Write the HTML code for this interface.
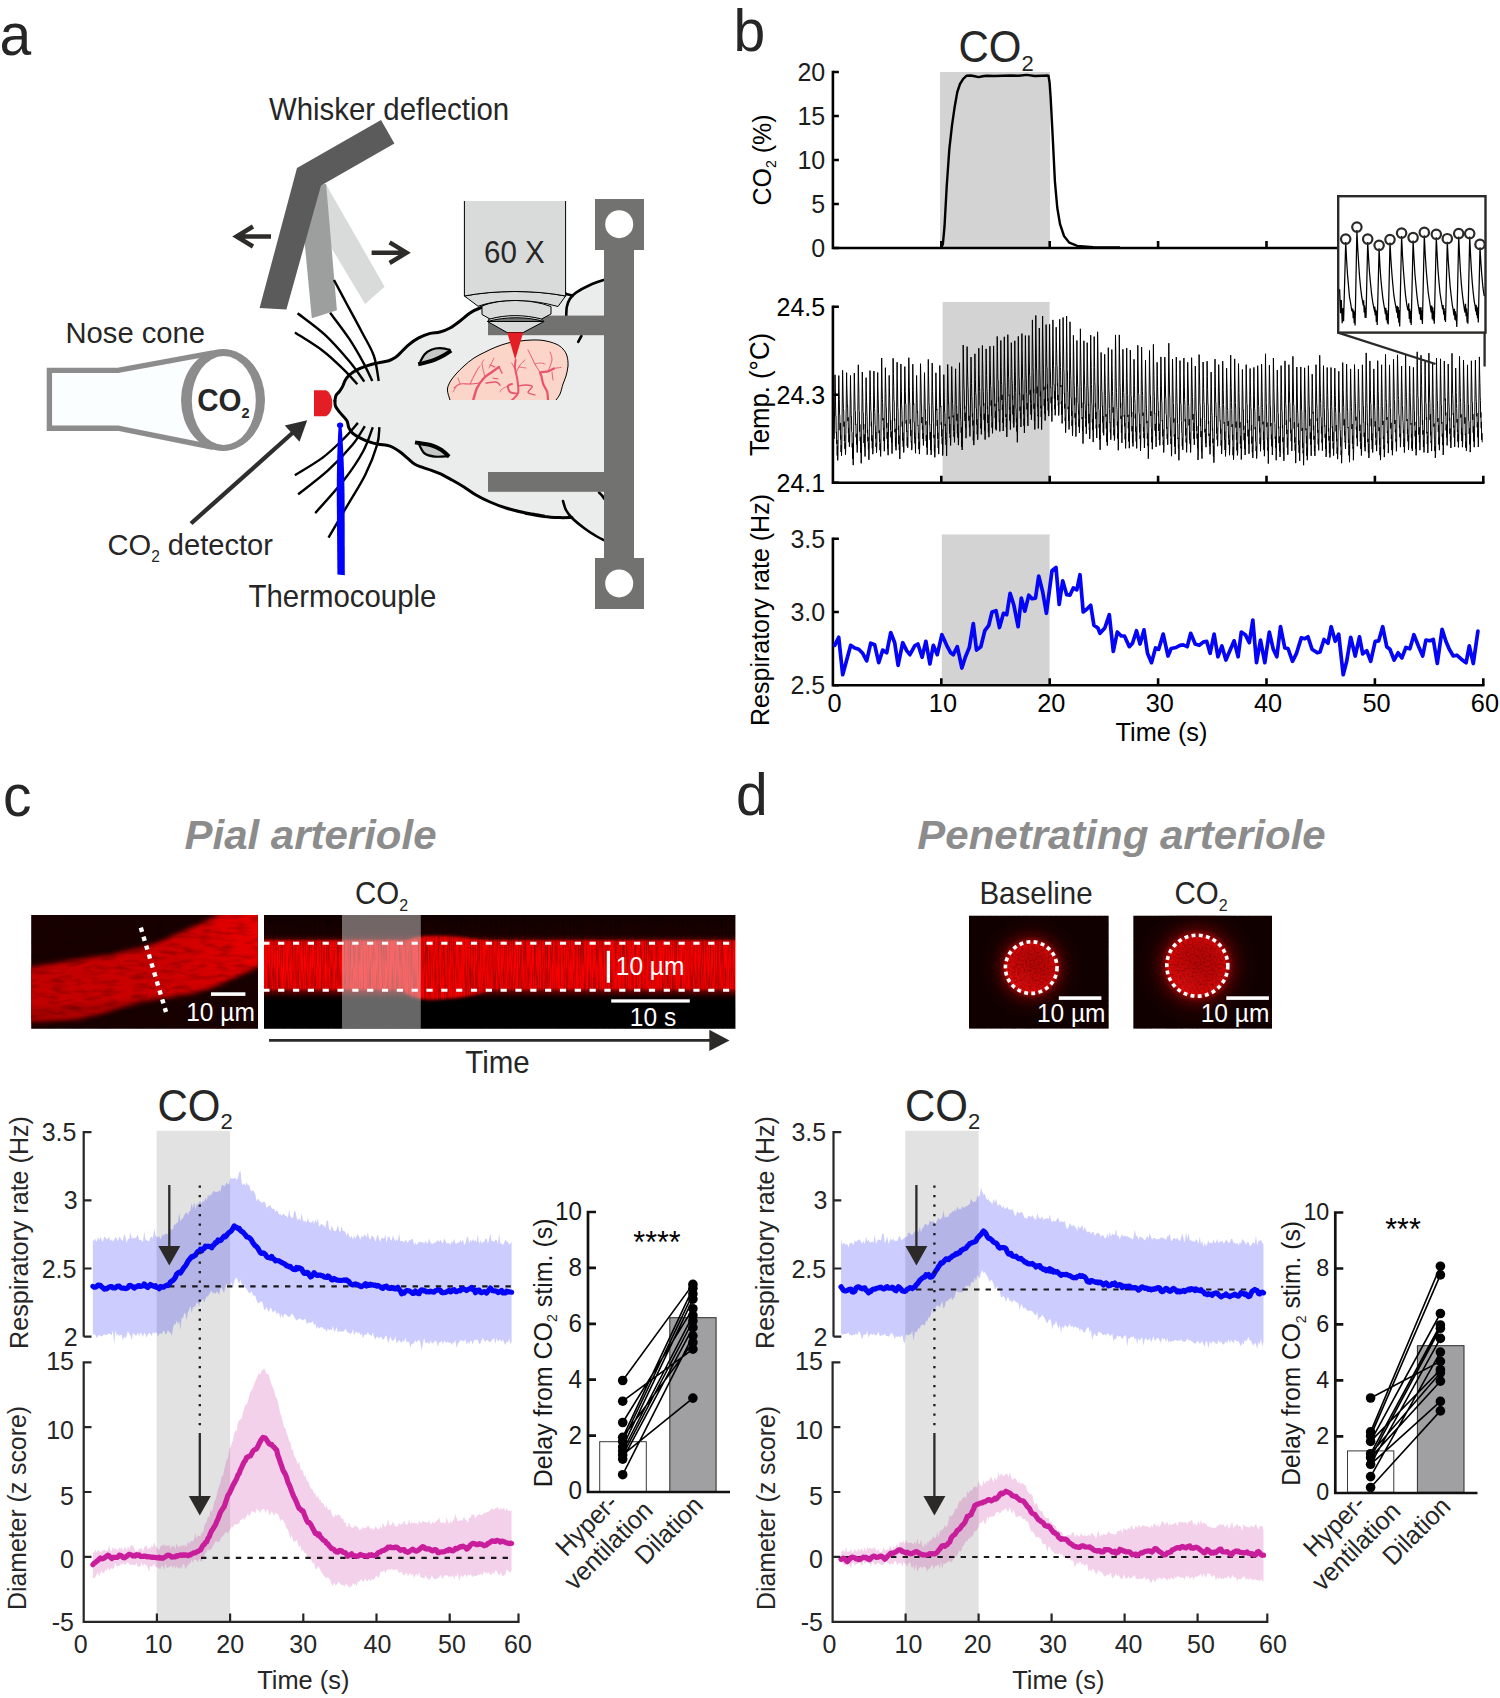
<!DOCTYPE html>
<html lang="en">
<head>
<meta charset="utf-8">
<title>CO2 stimulation: respiration and arteriole dilation</title>
<style>
html,body{margin:0;padding:0;background:#fff;}
body{width:1500px;height:1698px;overflow:hidden;}
svg{display:block;}
svg text{font-family:"Liberation Sans", "DejaVu Sans", sans-serif;fill:#262626;}
</style>
</head>
<body>
<svg width="1500" height="1698" viewBox="0 0 1500 1698">
<rect width="1500" height="1698" fill="#fff"/>
<g id="panel-a">
<text font-size="57" transform="translate(-0.5 55) scale(1 1.04)">a</text>
<path d="M334.9 400.8C335.1 399.9 335.3 397 336 395.5C336.7 394 338.1 393.1 339.2 391.7C340.3 390.3 341.4 388.8 342.4 386.9C343.4 385 344 382.4 345.1 380.5C346.2 378.6 347.4 377 349.3 375.2C351.2 373.4 353.8 371.5 356.8 369.9C359.8 368.3 363.9 366.8 367.5 365.6C371.1 364.4 374.6 363.7 378.1 362.9C381.7 362.1 386 361.7 388.8 360.8C391.6 359.9 393.2 358.9 395.2 357.6C397.1 356.3 398.4 354.9 400.5 352.8C402.6 350.8 405 347.8 408 345.3C411 342.8 415.1 339.8 418.7 337.9C422.2 335.9 425.8 334.6 429.3 333.6C432.9 332.6 436.6 332.9 440 332C443.4 331.1 446.7 329.8 450 328C453.3 326.2 456.7 323.5 460 321C463.3 318.5 466.7 315.2 470 313C473.3 310.8 475 309.8 480 308C485 306.2 485.7 304.3 500 302C514.3 299.7 555 295.3 566 294L569.8 299C570.8 297.9 572.6 294.9 576 292.6C579.4 290.3 585.2 287.2 590 285C594.8 282.8 602.5 280.5 605 279.6L606 540L604.4 540.4C603 539.7 599.4 538.1 596 536C592.6 533.9 588 531 584 528C580 525 574 519.7 572 518L572 517.4C570 517.4 564.7 517.8 560 517.6C555.3 517.4 550 517.2 544 516.4C538 515.6 524 513.1 524 513C524 512.9 543.7 516 544 516C544.3 516 532.3 514.3 526 513C519.7 511.7 512 509.8 506 508C500 506.2 495 504.2 490 502C485 499.8 480.3 497.5 476 495C471.7 492.5 468 489.5 464 487C460 484.5 456 482.2 452 480C448 477.8 443.4 475.2 440 473.6C436.6 472 434.5 471.5 431.5 470.4C428.5 469.3 424.8 468.3 421.9 467.2C419 466.1 416.7 465.4 414.4 464C412.1 462.6 410.3 460.6 408 458.7C405.7 456.8 403 454.2 400.5 452.3C398 450.4 395.4 448.7 393.1 447.5C390.8 446.3 389.2 445.8 386.7 445.3C384.2 444.8 381.1 444.9 378.1 444.3C375.1 443.7 371.5 442.7 368.5 441.6C365.5 440.5 362.7 439.3 360 437.9C357.3 436.5 354.4 434.8 352.5 433.1C350.6 431.4 349.7 429.7 348.8 427.7C347.9 425.7 348 423.1 347.2 421.3C346.4 419.5 345.3 418.7 344 417.1C342.7 415.5 340.6 413.5 339.2 411.7C337.8 409.9 336.2 407.9 335.5 406.1C334.8 404.3 335 401.7 334.9 400.8Z" fill="#ebecec"/>
<g fill="none" stroke="#000" stroke-width="3" stroke-linecap="round" stroke-linejoin="round">
<path d="M334.9 400.8C335.1 399.9 335.3 397 336 395.5C336.7 394 338.1 393.1 339.2 391.7C340.3 390.3 341.4 388.8 342.4 386.9C343.4 385 344 382.4 345.1 380.5C346.2 378.6 347.4 377 349.3 375.2C351.2 373.4 353.8 371.5 356.8 369.9C359.8 368.3 363.9 366.8 367.5 365.6C371.1 364.4 374.6 363.7 378.1 362.9C381.7 362.1 386 361.7 388.8 360.8C391.6 359.9 393.2 358.9 395.2 357.6C397.1 356.3 398.4 354.9 400.5 352.8C402.6 350.8 405 347.8 408 345.3C411 342.8 415.1 339.8 418.7 337.9C422.2 335.9 425.8 334.6 429.3 333.6C432.9 332.6 436.6 332.9 440 332C443.4 331.1 446.7 329.8 450 328C453.3 326.2 456.7 323.5 460 321C463.3 318.5 466.7 315.2 470 313C473.3 310.8 475 309.8 480 308C485 306.2 485.7 304.3 500 302C514.3 299.7 555 295.3 566 294"/>
<path d=""/>
<path d="M334.9 400.8C335 401.7 334.8 404.3 335.5 406.1C336.2 407.9 337.8 409.9 339.2 411.7C340.6 413.5 342.7 415.5 344 417.1C345.3 418.7 346.4 419.5 347.2 421.3C348 423.1 347.9 425.7 348.8 427.7C349.7 429.7 350.6 431.4 352.5 433.1C354.4 434.8 357.3 436.5 360 437.9C362.7 439.3 365.5 440.5 368.5 441.6C371.5 442.7 375.1 443.7 378.1 444.3C381.1 444.9 384.2 444.8 386.7 445.3C389.2 445.8 390.8 446.3 393.1 447.5C395.4 448.7 398 450.4 400.5 452.3C403 454.2 405.7 456.8 408 458.7C410.3 460.6 412.1 462.6 414.4 464C416.7 465.4 419 466.1 421.9 467.2C424.8 468.3 428.5 469.3 431.5 470.4C434.5 471.5 436.6 472 440 473.6C443.4 475.2 448 477.8 452 480C456 482.2 460 484.5 464 487C468 489.5 471.7 492.5 476 495C480.3 497.5 485 499.8 490 502C495 504.2 500 506.2 506 508C512 509.8 519.7 511.7 526 513C532.3 514.3 544.3 516 544 516C543.7 516 524 512.9 524 513C524 513.1 538 515.6 544 516.4C550 517.2 555.3 517.4 560 517.6C564.7 517.8 570 517.4 572 517.4"/>
</g>
<g fill="none" stroke="#000" stroke-width="2.6" stroke-linecap="round" stroke-linejoin="round">
<path d="M566 294L572.5 295.6"/>
<path d="M581.4 336L578.2 341.8"/>
<path d="M566.2 318C566.3 316.2 566.2 310.2 566.8 307C567.4 303.8 568.3 301.4 569.8 299C571.3 296.6 572.6 294.9 576 292.6C579.4 290.3 585.2 287.2 590 285C594.8 282.8 602.5 280.5 605 279.6"/>
<path d="M563 501C563.5 502.5 564.5 507.2 566 510C567.5 512.8 569 515 572 518C575 521 580 525 584 528C588 531 592.6 533.9 596 536C599.4 538.1 603 539.7 604.4 540.4"/>
<path d="M599 492.5C601.5 494.5 603 496.5 604.5 499"/>
</g>
<path d="M420.4 361.5C421.1 360.3 422.9 356.2 424.7 354.2C426.5 352.2 428.8 350.7 431.3 349.7C433.8 348.7 436.6 348.2 439.6 348.2C442.6 348.2 447.9 349.4 449.5 349.6L451.2 350.6C449.9 351.4 446.2 354.1 443.5 355.6C440.8 357.1 437.8 358.5 435 359.6C432.2 360.7 429.8 361.4 427 362.2C424.2 363 419.7 363.9 418.2 364.2Z" fill="#c5c7c7"/>
<path d="M420.4 361.5C421.1 360.3 422.9 356.2 424.7 354.2C426.5 352.2 428.8 350.7 431.3 349.7C433.8 348.7 436.6 348.2 439.6 348.2C442.6 348.2 447.9 349.4 449.5 349.6" fill="none" stroke="#000" stroke-width="2.2" stroke-linecap="round"/>
<path d="M418.2 364.2C419.7 363.9 424.2 363 427 362.2C429.8 361.4 432.2 360.7 435 359.6C437.8 358.5 440.8 357.1 443.5 355.6C446.2 354.1 449.9 351.4 451.2 350.6" stroke="#000" stroke-width="4" fill="none"/>
<path d="M419.4 445.2C420.3 446.6 422.2 451.6 424.7 453.5C427.2 455.4 430.9 456.1 434.6 456.6C438.3 457.1 444.9 456.4 447 456.3L449.2 456.6C447.9 455.5 444.2 451.6 441.2 449.7C438.2 447.8 435.7 446.4 431.3 445.2C426.9 444 417.7 442.9 415 442.4Z" fill="#c5c7c7"/>
<path d="M419.4 445.2C420.3 446.6 422.2 451.6 424.7 453.5C427.2 455.4 430.9 456.1 434.6 456.6C438.3 457.1 444.9 456.4 447 456.3" fill="none" stroke="#000" stroke-width="2.2" stroke-linecap="round"/>
<path d="M415 442.4C417.7 442.9 426.9 444 431.3 445.2C435.7 446.4 438.2 447.8 441.2 449.7C444.2 451.6 447.9 455.5 449.2 456.6" stroke="#000" stroke-width="4" fill="none"/>
<polygon points="293.3,184.5 326.1,184.5 384.6,286.7 365.1,303.9" fill="#d9dbdb"/>
<polygon points="299.3,186 326.1,184 336.9,310.3 311.8,318.2" fill="#9d9e9e"/>
<polygon points="297,168 381,120 394.4,143.6 321,185.5 286.4,309.6 259.6,308" fill="#5b5b5b"/>
<g fill="none" stroke="#000" stroke-width="2.4">
<path d="M294.9 332.5C299.5 335.5 314.5 344.5 322.7 350.7C330.9 356.9 338.2 364.3 344 369.9C349.8 375.5 355.1 381.9 357.3 384.3"/>
<path d="M297.6 313.3C302.1 316.9 316.2 326.7 324.8 334.7C333.4 342.7 342.7 353.5 349.3 361.3C355.9 369.1 361.8 378.2 364.3 381.6"/>
<path d="M330.1 312.8C333.3 317.1 343.8 330.6 349.3 338.9C354.8 347.2 359.4 355.4 363.2 362.4C367 369.4 370.8 378 372.3 381.1"/>
<path d="M334 280C336 283.8 341.4 293.9 346.1 302.7C350.8 311.4 357.5 323.6 362.1 332.5C366.7 341.4 371.1 347.9 373.9 356C376.7 364.1 377.9 376.8 378.7 381"/>
<path d="M357.9 422.9C355.6 425.5 349.9 432.6 344 438.4C338.1 444.2 330.9 451.5 322.7 457.6C314.5 463.7 299.5 472.3 294.9 475.2"/>
<path d="M364.8 426.1C362.8 429.2 358.6 437.4 352.5 444.8C346.4 452.2 337.1 462.1 328 470.4C318.9 478.7 303.1 490.4 298.1 494.4"/>
<path d="M372.8 427.2C371.2 431.2 368 442.4 363.2 451.2C358.4 460 352 469.7 344 480C336 490.3 320 507.6 315.2 513.1"/>
<path d="M379.4 427.2C379 430.1 379.5 436.9 377.1 444.8C374.8 452.7 370.5 464.2 365.3 474.7C360.1 485.2 352.2 497.2 346.1 507.7C340 518.2 331.4 532.6 328.5 537.6"/>
</g>
<g fill="none" stroke="#2d2c2b" stroke-width="4.4" stroke-linejoin="miter" stroke-miterlimit="10">
<path d="M271 236.5H238M253 226.5L236.5 236.5L253 246.5"/>
<path d="M371.6 252.7H405M389.6 242.4L406.6 252.7L389.6 263"/>
</g>
<text font-size="29.4" transform="translate(269 119.5) scale(1 1.04)">Whisker deflection</text>
<path d="M49.4 370.4H118L210 353.4V446.6L118 428.2H49.4Z" fill="#fbfefe" stroke="#8c8c8c" stroke-width="5.4" stroke-linejoin="miter"/>
<ellipse cx="223" cy="400" rx="42" ry="51" fill="#8c8c8c"/>
<ellipse cx="223.8" cy="400.5" rx="32" ry="44.5" fill="#fff"/>
<text font-size="29.5" transform="translate(197.3 411.3) scale(1 1.04)" font-weight="bold">CO<tspan font-size="14.5" dy="6">2</tspan></text>
<text font-size="29.2" transform="translate(65.5 343.3) scale(1 1.04)">Nose cone</text>
<path d="M314 390.2H326C330.5 392.5 332.3 398 332.3 403.2C332.3 408.5 330.5 414 326 416.3H314Z" fill="#e31e24"/>
<path d="M191 523.5L293 432.5" stroke="#2e2e2e" stroke-width="4.3" fill="none"/>
<path d="M307.2 420.3L284.8 425.4L299.5 441.8Z" fill="#2e2e2e"/>
<text font-size="29.1" transform="translate(107.5 555.3) scale(1 1.04)">CO<tspan font-size="15.5" dy="6.2">2</tspan><tspan dy="-6.2"> detector</tspan></text>
<path d="M338.6 426.5C337.6 440 336.6 470 336.8 500L337.4 574.5L344.8 575.2L344.6 500C344.4 470 342.8 440 341.6 426.5Z" fill="#0000ff"/>
<ellipse cx="340.1" cy="425.2" rx="3.1" ry="2.7" fill="#0000ff"/>
<text font-size="29.4" transform="translate(248.5 607) scale(1 1.04)">Thermocouple</text>
<path d="M450 400C449.6 398.3 447.4 393 447.4 390C447.4 387 448.6 384.7 450 382C451.4 379.3 453.7 376.7 456 374C458.3 371.3 461 368.7 464 366C467 363.3 470.3 360.4 474 358C477.7 355.6 482.3 353.4 486 351.6C489.7 349.8 492.3 348.4 496 347C499.7 345.6 504 344 508 343C512 342 516 341.5 520 341C524 340.5 528 340.1 532 340C536 339.9 540 339.9 544 340.6C548 341.3 552.8 342.6 556 344C559.2 345.4 561.2 347 563 349C564.8 351 566.2 353.2 567 356C567.8 358.8 568.2 362.7 568 366C567.8 369.3 566.8 373 566 376C565.2 379 564 381 563 384C562 387 561.2 391.3 560 394C558.8 396.7 556.7 399 556 400Z" fill="#fbd5c8"/>
<path d="M450 400C449.6 398.3 447.4 393 447.4 390C447.4 387 448.6 384.7 450 382C451.4 379.3 453.7 376.7 456 374C458.3 371.3 461 368.7 464 366C467 363.3 470.3 360.4 474 358C477.7 355.6 482.3 353.4 486 351.6C489.7 349.8 492.3 348.4 496 347C499.7 345.6 504 344 508 343C512 342 516 341.5 520 341C524 340.5 528 340.1 532 340C536 339.9 540 339.9 544 340.6C548 341.3 552.8 342.6 556 344C559.2 345.4 561.2 347 563 349C564.8 351 566.2 353.2 567 356C567.8 358.8 568.2 362.7 568 366C567.8 369.3 566.8 373 566 376C565.2 379 564 381 563 384C562 387 561.2 391.3 560 394C558.8 396.7 556.7 399 556 400" fill="none" stroke="#000" stroke-width="1"/>
<clipPath id="aBrain"><path d="M450 400C449.6 398.3 447.4 393 447.4 390C447.4 387 448.6 384.7 450 382C451.4 379.3 453.7 376.7 456 374C458.3 371.3 461 368.7 464 366C467 363.3 470.3 360.4 474 358C477.7 355.6 482.3 353.4 486 351.6C489.7 349.8 492.3 348.4 496 347C499.7 345.6 504 344 508 343C512 342 516 341.5 520 341C524 340.5 528 340.1 532 340C536 339.9 540 339.9 544 340.6C548 341.3 552.8 342.6 556 344C559.2 345.4 561.2 347 563 349C564.8 351 566.2 353.2 567 356C567.8 358.8 568.2 362.7 568 366C567.8 369.3 566.8 373 566 376C565.2 379 564 381 563 384C562 387 561.2 391.3 560 394C558.8 396.7 556.7 399 556 400Z"/></clipPath>
<g clip-path="url(#aBrain)">
<path d="M473 401C473.7 398.8 475.2 391.8 477 388C478.8 384.2 481.5 380.7 484 378C486.5 375.3 489.5 373.8 492 372C494.5 370.2 497.8 367.8 499 367" fill="none" stroke="#e9546b" stroke-width="2.4" stroke-linecap="round" stroke-linejoin="round"/>
<path d="M499 367C499.5 368 501.5 372 502 373" fill="none" stroke="#e9546b" stroke-width="1.4" stroke-linecap="round" stroke-linejoin="round"/>
<path d="M495 367C494.2 366.7 490.8 365.3 490 365" fill="none" stroke="#e9546b" stroke-width="1.2" stroke-linecap="round" stroke-linejoin="round"/>
<path d="M480 383C478.3 383.2 473.3 383.8 470 384C466.7 384.2 462.7 383.3 460 384C457.3 384.7 455 387.3 454 388" fill="none" stroke="#e9546b" stroke-width="1.1" stroke-linecap="round" stroke-linejoin="round"/>
<path d="M470 384C471 382 474.3 375 476 372C477.7 369 479.3 367 480 366" fill="none" stroke="#e9546b" stroke-width="1" stroke-linecap="round" stroke-linejoin="round"/>
<path d="M485 377C484.5 374.8 482.2 366.8 482 364C481.8 361.2 483.7 360.7 484 360" fill="none" stroke="#e9546b" stroke-width="0.9" stroke-linecap="round" stroke-linejoin="round"/>
<path d="M489 368C489.8 366.3 493.2 359.7 494 358" fill="none" stroke="#e9546b" stroke-width="0.8" stroke-linecap="round" stroke-linejoin="round"/>
<path d="M486 383C487.7 382.8 493.7 381.7 496 382C498.3 382.3 499.3 384.5 500 385" fill="none" stroke="#e9546b" stroke-width="1.5" stroke-linecap="round" stroke-linejoin="round"/>
<path d="M493 378C493.8 378.2 497.2 378.8 498 379" fill="none" stroke="#e9546b" stroke-width="1.2" stroke-linecap="round" stroke-linejoin="round"/>
<path d="M460 384C459.7 383 458.3 379 458 378" fill="none" stroke="#e9546b" stroke-width="0.8" stroke-linecap="round" stroke-linejoin="round"/>
<path d="M456 387C455.5 387.8 453.5 391.2 453 392" fill="none" stroke="#e9546b" stroke-width="0.8" stroke-linecap="round" stroke-linejoin="round"/>
<path d="M511 401C512.2 399.7 516.9 396.5 518 393C519.1 389.5 517.9 384.2 517.4 380C516.9 375.8 515.3 371.3 515 368C514.7 364.7 515.5 361.3 515.6 360" fill="none" stroke="#e9546b" stroke-width="2" stroke-linecap="round" stroke-linejoin="round"/>
<path d="M518 386C519.3 385.8 523.6 384.9 526 385C528.4 385.1 532.1 385.4 532.4 386.6C532.7 387.8 527.6 391 528 392.4C528.4 393.8 533.8 394.6 535 395" fill="none" stroke="#e9546b" stroke-width="1.3" stroke-linecap="round" stroke-linejoin="round"/>
<path d="M517.4 393.6C516.2 393.3 511.6 393.3 510 392C508.4 390.7 507.7 387.3 508 386C508.3 384.7 511.3 384.3 512 384" fill="none" stroke="#e9546b" stroke-width="2" stroke-linecap="round" stroke-linejoin="round"/>
<path d="M508 386C507 386.5 503.3 388 502 389C500.7 390 500.3 391.5 500 392" fill="none" stroke="#e9546b" stroke-width="0.8" stroke-linecap="round" stroke-linejoin="round"/>
<path d="M516.4 372C517 370.8 518.6 367 520 365C521.4 363 524.2 360.8 525 360" fill="none" stroke="#e9546b" stroke-width="0.9" stroke-linecap="round" stroke-linejoin="round"/>
<path d="M515 369C514.4 368 512.2 364 511.6 363" fill="none" stroke="#e9546b" stroke-width="0.9" stroke-linecap="round" stroke-linejoin="round"/>
<path d="M519 367C520.2 367.2 524.8 367.8 526 368" fill="none" stroke="#e9546b" stroke-width="0.8" stroke-linecap="round" stroke-linejoin="round"/>
<path d="M548 401C547.9 399.5 548 394.8 547.2 392C546.4 389.2 544.2 386.7 543.2 384C542.2 381.3 541.9 377.9 541.4 376C540.9 374.1 539.3 373.2 540.4 372.4C541.5 371.6 545.7 372.1 548 371.4C550.3 370.7 553 368.9 554 368.4" fill="none" stroke="#e9546b" stroke-width="2.2" stroke-linecap="round" stroke-linejoin="round"/>
<path d="M540.4 372.4C539.7 371.3 537.4 368.4 536 366C534.6 363.6 533.3 360.7 532 358C530.7 355.3 528.7 351.3 528 350" fill="none" stroke="#e9546b" stroke-width="1" stroke-linecap="round" stroke-linejoin="round"/>
<path d="M548 371.4C548.7 369.5 551.7 363.2 552 360C552.3 356.8 550.3 353.3 550 352" fill="none" stroke="#e9546b" stroke-width="0.9" stroke-linecap="round" stroke-linejoin="round"/>
<path d="M554 368.4C555.2 368.2 559.8 367.6 561 367.4" fill="none" stroke="#e9546b" stroke-width="0.9" stroke-linecap="round" stroke-linejoin="round"/>
<path d="M552 372C552.2 373.3 552.8 378.7 553 380" fill="none" stroke="#e9546b" stroke-width="0.9" stroke-linecap="round" stroke-linejoin="round"/>
<path d="M535 364C535.8 363.8 538.3 363 540 363C541.7 363 544.2 363.8 545 364" fill="none" stroke="#e9546b" stroke-width="0.8" stroke-linecap="round" stroke-linejoin="round"/>
</g>
<g fill="#727271">
<rect x="604" y="230" width="30" height="350"/>
<rect x="595" y="199" width="49" height="51"/>
<rect x="595" y="558" width="49" height="51"/>
<rect x="488" y="315.6" width="118" height="19.6"/>
<rect x="488" y="472" width="118" height="19.8"/>
</g>
<circle cx="619.2" cy="224.2" r="14" fill="#fff"/>
<circle cx="619.2" cy="583.4" r="14" fill="#fff"/>
<g fill="#d9dada" stroke="#000" stroke-width="1" stroke-linejoin="round">
<path d="M487.5 321.5L507 332.5H523.2L544 321.5Z"/>
<path d="M487.5 321.5C505 316.5 527 316.5 544 321.5L541 318.5C524 314 506 314 490 318.5Z"/>
<path d="M482 306C500 298.5 530 298.5 551 306.5V314L541.5 319C524 314.5 506 314.5 490 319L482 314.5Z"/>
<path d="M464.4 296C495 290 535 290 565.6 296L558 306.5C530 298.5 500 298.5 478 306.2Z"/>
</g>
<path d="M464.4 201V296C495 290 535 290 565.6 296V201Z" fill="#d9dada"/>
<path d="M464.4 201V296C495 290 535 290 565.6 296V201" fill="none" stroke="#000" stroke-width="1"/>
<path d="M507.2 332.5H523.2L515.2 359.5Z" fill="#e31e24"/>
<text font-size="29.5" transform="translate(484 263) scale(1 1.04)">60 X</text>
</g>
<g id="panel-b">
<text font-size="57" transform="translate(733.5 50.5) scale(1 1.04)">b</text>
<text font-size="42" transform="translate(958.5 62.2) scale(1 1.04)">CO<tspan font-size="22" dy="8">2</tspan></text>
<rect x="940" y="72" width="110" height="176" fill="#d3d3d3"/>
<rect x="942.6" y="302" width="107" height="181" fill="#d3d3d3"/>
<rect x="941.8" y="534.5" width="107.8" height="151" fill="#d3d3d3"/>
<g stroke="#000" stroke-width="2.6" fill="none">
<path d="M832.9 70.8 V248 H1340"/>
<path d="M832.9 72h6M832.9 116h6M832.9 160h6M832.9 204h6M832.9 248h6M941.3 248v-7M1049.7 248v-7M1158.1 248v-7M1266.5 248v-7"/>
</g>
<text font-size="25" text-anchor="end" transform="translate(825.2 80.9) scale(1 1.04)" style="fill:#1c1c1c">20</text>
<text font-size="25" text-anchor="end" transform="translate(825.2 124.9) scale(1 1.04)" style="fill:#1c1c1c">15</text>
<text font-size="25" text-anchor="end" transform="translate(825.2 168.9) scale(1 1.04)" style="fill:#1c1c1c">10</text>
<text font-size="25" text-anchor="end" transform="translate(825.2 212.9) scale(1 1.04)" style="fill:#1c1c1c">5</text>
<text font-size="25" text-anchor="end" transform="translate(825.2 256.9) scale(1 1.04)" style="fill:#1c1c1c">0</text>
<path d="M941.3 247.5 L942.9 244 L944.5 226.7 L946.7 186.7 L949.3 149.3 L952 125.3 L954.7 106.7 L957.3 92 L960 84 L963.2 78.9 L966.7 75.7 L970.7 75.5 L974.7 76.3 L978.7 77.1 L982.7 76.3 L986.7 75.7 L994.7 76 L1002.7 75.7 L1010.7 75.5 L1018.7 75.7 L1026.7 74.9 L1034.7 76 L1042.7 75.7 L1046.7 75.5 L1048.5 75.7 L1049.6 82.7 L1050.7 98.7 L1052.8 138.7 L1054.9 181.3 L1057.3 208 L1060 224 L1064 236 L1069.3 242.7 L1077.3 245.9 L1093.3 247.2 L1120 247.5" fill="none" stroke="#000" stroke-width="2.4" stroke-linejoin="round"/>
<text font-size="25" text-anchor="middle" transform="translate(770.5 160) rotate(-90) scale(1 1.04)" style="fill:#000">CO<tspan font-size="14" dy="5">2</tspan><tspan dy="-5"> (%)</tspan></text>
<g stroke="#000" stroke-width="2.6" fill="none">
<path d="M832.9 305.5 V482.7 H1484.5"/>
<path d="M832.9 306.7h6M832.9 394.7h6M832.9 482.7h6M941.3 482.7v-7M1049.7 482.7v-7M1158.1 482.7v-7M1266.5 482.7v-7M1374.9 482.7v-7M1483.3 482.7v-7"/>
</g>
<text font-size="25" text-anchor="end" transform="translate(825.2 315.6) scale(1 1.04)" style="fill:#000">24.5</text>
<text font-size="25" text-anchor="end" transform="translate(825.2 403.6) scale(1 1.04)" style="fill:#000">24.3</text>
<text font-size="25" text-anchor="end" transform="translate(825.2 491.6) scale(1 1.04)" style="fill:#000">24.1</text>
<text font-size="25.7" text-anchor="middle" transform="translate(769 394.5) rotate(-90) scale(1 1.04)" style="fill:#000">Temp. (°C)</text>
<path d="M834.2 438.9 L835 374.8 L835.3 388.8 L835.5 400.9 L835.8 416 L836 416 L836.2 432.9 L836.5 432.1 L836.7 443.9 L837 440.2 L837.2 455.5 L837.4 446.2 L837.7 460.4 L837.9 456.5 L838.8 375.6 L839 388.5 L839.3 399.7 L839.5 413.8 L839.8 415.8 L840 430.2 L840.3 423 L840.5 439.4 L840.8 435.3 L841 451.9 L841.3 445 L841.5 455.8 L841.8 446.7 L842.6 370.3 L842.9 384 L843.1 395.9 L843.4 408.6 L843.7 410.9 L843.9 426.5 L844.2 421.7 L844.4 441 L844.7 435.3 L844.9 448.7 L845.2 443.2 L845.5 454.6 L845.7 448.4 L846.6 372.7 L846.8 384.6 L847.1 395 L847.4 406.5 L847.6 405.6 L847.9 421.2 L848.1 417.3 L848.4 433.2 L848.6 428.3 L848.9 442.2 L849.2 434.4 L849.4 446.7 L849.7 442.5 L850.5 375.5 L850.7 389.7 L851 402 L851.2 417.1 L851.5 416.7 L851.7 431.7 L852 432.2 L852.2 447.4 L852.4 443.4 L852.7 458.9 L852.9 447.1 L853.2 465.1 L853.4 455.9 L854.3 373.1 L854.6 386 L854.8 397.1 L855.1 410.5 L855.4 410.9 L855.6 424.7 L855.9 423.9 L856.1 437.2 L856.4 433.9 L856.7 444.6 L856.9 440.5 L857.2 452.5 L857.5 443.7 L858.3 364.8 L858.6 380.6 L858.9 394.2 L859.1 410.3 L859.4 411.2 L859.6 431.5 L859.9 424.5 L860.2 440.9 L860.4 436.9 L860.7 452.6 L860.9 448.2 L861.2 463.3 L861.5 453.3 L862.3 372 L862.5 385.7 L862.8 397.5 L863 411.9 L863.3 412.8 L863.5 429.6 L863.8 424.2 L864 443 L864.2 434.4 L864.5 447.1 L864.7 444.1 L865 456.5 L865.2 452 L866.1 377.7 L866.3 390.6 L866.6 401.7 L866.9 412.9 L867.1 416.8 L867.4 432.6 L867.6 429.9 L867.9 441.3 L868.1 437.1 L868.4 449.4 L868.6 443.1 L868.9 459.8 L869.1 452.9 L870 370.6 L870.3 384.1 L870.5 395.7 L870.8 410.2 L871 411.8 L871.3 426.4 L871.5 421.8 L871.8 440.7 L872 435.4 L872.3 448.4 L872.5 439.1 L872.8 454.2 L873.1 448.6 L873.9 371 L874.1 384.4 L874.4 395.9 L874.6 408.3 L874.8 412.5 L875.1 424.6 L875.3 425.9 L875.6 438.7 L875.8 432 L876 446.8 L876.3 442.9 L876.5 452.7 L876.8 445.7 L877.7 372.5 L877.9 386.6 L878.2 398.7 L878.5 413.5 L878.7 413.6 L879 433.1 L879.3 430.4 L879.5 441.9 L879.8 439.5 L880 450.2 L880.3 443.6 L880.6 456.4 L880.8 450.9 L881.7 358 L881.9 372.7 L882.1 385.5 L882.4 399.5 L882.6 402.7 L882.9 420.4 L883.1 418 L883.4 430.1 L883.6 428 L883.8 440.9 L884.1 437.2 L884.3 451.2 L884.6 439.6 L885.4 367.7 L885.6 381.6 L885.9 393.7 L886.1 406.2 L886.4 408.9 L886.6 428.1 L886.9 422.9 L887.1 438.8 L887.3 432.2 L887.6 448.5 L887.8 443.3 L888.1 455.2 L888.3 443.7 L889.2 375.4 L889.4 387.7 L889.7 398.3 L890 411 L890.2 412.9 L890.5 429.8 L890.7 420.1 L891 437.3 L891.2 431.5 L891.5 443 L891.7 436 L892 453.6 L892.3 443.3 L893.1 358.3 L893.4 373.6 L893.7 386.7 L893.9 399.6 L894.2 401.9 L894.4 420.9 L894.7 418.7 L895 432.2 L895.2 428.8 L895.5 446.4 L895.7 437.7 L896 450.3 L896.3 443.1 L897.1 362.2 L897.3 378.3 L897.6 392 L897.8 407.4 L898.1 411.3 L898.3 430 L898.6 425.9 L898.8 444.3 L899 435.6 L899.3 450 L899.5 445.7 L899.8 459 L900 451.7 L900.9 364 L901.1 378.8 L901.4 391.5 L901.6 404.8 L901.9 410.1 L902.2 426.5 L902.4 421.6 L902.7 440.4 L902.9 432.6 L903.2 446.7 L903.4 438.6 L903.7 452.5 L903.9 450.3 L904.8 366.6 L905.1 380.1 L905.3 391.7 L905.6 404.1 L905.9 404.4 L906.1 423.5 L906.4 420.1 L906.6 431.9 L906.9 430.8 L907.2 446.1 L907.4 437.4 L907.7 447.8 L907.9 443.6 L908.8 357.7 L909.1 373.1 L909.3 386.4 L909.6 401 L909.9 405.9 L910.1 423.7 L910.4 419.3 L910.7 436.1 L910.9 430 L911.2 442.3 L911.5 441.1 L911.7 450.1 L912 447.2 L912.8 364.2 L913 378.3 L913.3 390.4 L913.5 404.8 L913.8 403.7 L914 422.4 L914.3 422.2 L914.5 437.9 L914.7 432.6 L915 443.4 L915.2 437.5 L915.5 453.2 L915.7 441.6 L916.6 375.5 L916.8 388 L917.1 398.8 L917.3 412.4 L917.6 411 L917.9 425.5 L918.1 425 L918.4 438.8 L918.6 433.3 L918.9 449.1 L919.1 441.9 L919.4 454.1 L919.7 446.3 L920.5 363.7 L920.8 377.4 L921.1 389.2 L921.3 404 L921.6 405.1 L921.8 423.1 L922.1 417.1 L922.4 430 L922.6 425.8 L922.9 439 L923.1 433.3 L923.4 445.4 L923.7 439.9 L924.5 372.7 L924.7 385.7 L925 396.9 L925.2 410.1 L925.5 409.7 L925.7 424.7 L926 421.2 L926.2 441 L926.4 435.1 L926.7 447.3 L926.9 441.7 L927.2 454.7 L927.4 448.6 L928.3 359.4 L928.5 375.3 L928.8 388.9 L929 402.7 L929.3 405.3 L929.6 424.4 L929.8 424 L930.1 439.8 L930.3 432.1 L930.6 449.9 L930.8 440 L931.1 454.9 L931.3 451 L932.2 363.1 L932.4 378.3 L932.6 391.4 L932.9 405.6 L933.1 409.5 L933.4 422.8 L933.6 423.1 L933.9 437.8 L934.1 434.8 L934.4 451.7 L934.6 445 L934.8 457.3 L935.1 448.5 L935.9 372.8 L936.2 385.8 L936.4 396.9 L936.7 410.2 L936.9 409.1 L937.2 426 L937.4 420 L937.7 438.9 L937.9 432.7 L938.2 447.9 L938.4 440.4 L938.7 454.1 L938.9 446.7 L939.8 365.5 L940.1 379.8 L940.3 392.1 L940.6 407.1 L940.9 406.3 L941.1 424.6 L941.4 422.3 L941.7 436.5 L941.9 429.4 L942.2 444.2 L942.4 437.9 L942.7 455.6 L943 447.9 L943.8 374.7 L944.1 387.4 L944.3 398.3 L944.6 412.5 L944.8 412.9 L945.1 425.9 L945.3 423.9 L945.6 439.3 L945.8 432.5 L946.1 444.9 L946.3 439.6 L946.6 455.9 L946.8 443.3 L947.7 364.5 L948 377.8 L948.2 389.1 L948.5 403.6 L948.7 402.9 L949 418.8 L949.3 416.7 L949.5 433.7 L949.8 424 L950.1 437.7 L950.3 434.9 L950.6 445.5 L950.8 440.5 L951.7 366.6 L952 379.2 L952.2 389.9 L952.5 403.4 L952.7 405.1 L953 417.3 L953.2 415.5 L953.5 430.9 L953.7 425.1 L954 436.7 L954.2 432.3 L954.5 442.4 L954.7 434.4 L955.6 368.8 L955.8 381.2 L956.1 391.9 L956.3 404.2 L956.6 405.7 L956.9 420.8 L957.1 413.9 L957.4 433.5 L957.6 424.2 L957.9 437.7 L958.1 433.1 L958.4 445.1 L958.6 440.8 L959.5 362.8 L959.7 377.2 L959.9 389.6 L960.2 401.8 L960.4 407.1 L960.7 419.6 L960.9 421.7 L961.2 432.7 L961.4 427.4 L961.7 446.9 L961.9 440 L962.2 450 L962.4 441.5 L963.2 345 L963.5 360 L963.7 373 L964 388 L964.2 389.7 L964.5 409 L964.7 406.5 L965 420.9 L965.2 412.7 L965.5 428 L965.7 424.1 L966 438.2 L966.2 431.3 L967.1 346.6 L967.3 361.3 L967.6 374.1 L967.9 386.3 L968.1 388.7 L968.4 405.3 L968.6 405.2 L968.9 420.5 L969.1 415.8 L969.4 427.4 L969.7 425.1 L969.9 436.4 L970.2 427.4 L971 357.1 L971.3 371.3 L971.5 383.5 L971.8 396.6 L972 400.9 L972.3 416.5 L972.6 413.6 L972.8 425.4 L973.1 420.4 L973.3 440.4 L973.6 431 L973.8 445.1 L974.1 436.1 L974.9 353.8 L975.2 367.6 L975.4 379.4 L975.7 392.7 L976 395.7 L976.2 408.2 L976.5 408.3 L976.7 424.6 L977 419.3 L977.2 434.3 L977.5 424.5 L977.7 439.7 L978 429.1 L978.8 348.2 L979 362.3 L979.2 374.5 L979.5 387.7 L979.7 391.7 L979.9 405.3 L980.2 406.3 L980.4 416.3 L980.6 414.4 L980.8 428.4 L981.1 423.4 L981.3 434.4 L981.5 430.2 L982.4 345.5 L982.6 360.7 L982.9 373.7 L983.1 386.9 L983.3 391.6 L983.6 405.7 L983.8 403.4 L984.1 419.9 L984.3 413.8 L984.6 430.5 L984.8 427.1 L985.1 439.6 L985.3 429.9 L986.1 348.9 L986.4 363.2 L986.6 375.6 L986.9 388.5 L987.1 391.6 L987.4 409 L987.6 406.5 L987.9 423.1 L988.1 414.7 L988.4 432.3 L988.6 424.2 L988.9 437.2 L989.1 431.7 L989.9 346.2 L990.2 360.6 L990.4 373 L990.6 385.6 L990.9 388.9 L991.1 405.7 L991.3 400.4 L991.6 416.2 L991.8 416.2 L992 427.6 L992.3 422.2 L992.5 433.3 L992.7 425.6 L993.6 345.9 L993.8 360 L994 372.2 L994.3 387.1 L994.5 390.1 L994.8 406.3 L995 403.8 L995.2 417.9 L995.5 411.2 L995.7 428.8 L996 418.9 L996.2 430.3 L996.5 424.6 L997.2 336.4 L997.5 351.7 L997.7 364.9 L997.9 379.9 L998.2 380.8 L998.4 401.6 L998.6 397.1 L998.9 410.6 L999.1 409.6 L999.3 422.1 L999.5 419.4 L999.8 431.4 L1000 425.7 L1000.8 340.5 L1001 354.9 L1001.2 367.4 L1001.4 381.5 L1001.7 384.4 L1001.9 399.9 L1002.1 394.8 L1002.3 409.8 L1002.6 404.9 L1002.8 422.6 L1003 417.9 L1003.2 431 L1003.5 424.5 L1004.3 336.8 L1004.5 352.8 L1004.7 366.6 L1005 382.2 L1005.2 386.3 L1005.4 400.4 L1005.7 402.7 L1005.9 417 L1006.1 414.1 L1006.3 427.3 L1006.6 419.3 L1006.8 437 L1007 430.1 L1007.8 334.7 L1008.1 349.8 L1008.3 362.8 L1008.5 376.8 L1008.7 378.3 L1009 395.6 L1009.2 394.8 L1009.4 409.4 L1009.7 407.4 L1009.9 420.6 L1010.1 414.3 L1010.4 429.6 L1010.6 418.1 L1011.3 342.7 L1011.6 356.7 L1011.8 368.7 L1012 380.3 L1012.3 383.4 L1012.5 400 L1012.7 395.6 L1012.9 414.4 L1013.2 405.3 L1013.4 423.3 L1013.6 413.2 L1013.8 427.5 L1014.1 422.5 L1014.8 340.8 L1015 357.4 L1015.3 371.7 L1015.5 386.6 L1015.7 392.3 L1015.9 408 L1016.1 409.2 L1016.4 422.1 L1016.6 418.3 L1016.8 431.4 L1017 425.4 L1017.3 442.3 L1017.5 436.5 L1018.3 336.4 L1018.5 351.1 L1018.8 363.7 L1019 376.6 L1019.2 378.8 L1019.5 394.4 L1019.7 393.7 L1020 410.8 L1020.2 406.7 L1020.4 418.4 L1020.7 412.9 L1020.9 427 L1021.1 421.4 L1021.9 333.6 L1022.1 349.5 L1022.4 363.2 L1022.6 378.1 L1022.8 380.7 L1023.1 400.3 L1023.3 394.7 L1023.5 414.2 L1023.7 406.7 L1024 425.7 L1024.2 418.5 L1024.4 433 L1024.6 424 L1025.4 335.6 L1025.6 350.3 L1025.8 362.8 L1026.1 375.1 L1026.3 378.6 L1026.5 393.3 L1026.7 393.6 L1027 409.3 L1027.2 403.1 L1027.4 416.3 L1027.6 414.9 L1027.9 425.9 L1028.1 416.3 L1028.9 335.5 L1029.1 349.2 L1029.3 360.9 L1029.6 375.4 L1029.8 375.9 L1030 394.6 L1030.3 389.9 L1030.5 402.7 L1030.7 400.4 L1031 414.6 L1031.2 404.5 L1031.4 419.7 L1031.7 411.3 L1032.4 319.9 L1032.6 337.6 L1032.9 352.8 L1033.1 367.7 L1033.3 372.5 L1033.5 392.8 L1033.7 389.3 L1033.9 408.7 L1034.2 403.7 L1034.4 420.8 L1034.6 412.9 L1034.8 429.5 L1035 421.2 L1035.8 315.5 L1036 334 L1036.3 349.9 L1036.5 368.1 L1036.7 370 L1037 393.4 L1037.2 386.6 L1037.4 406.4 L1037.6 404.8 L1037.9 416.1 L1038.1 414.9 L1038.3 428.4 L1038.6 418.7 L1039.3 328 L1039.5 344.3 L1039.7 358.3 L1039.9 372.1 L1040.1 379 L1040.3 396.2 L1040.6 391.6 L1040.8 408.3 L1041 405.7 L1041.2 416.9 L1041.4 411 L1041.6 429.6 L1041.8 417.9 L1042.6 316 L1042.8 333.6 L1043.1 348.8 L1043.3 364 L1043.5 369.7 L1043.8 390.1 L1044 386.7 L1044.2 405.8 L1044.4 399 L1044.7 413.7 L1044.9 411 L1045.1 420.5 L1045.4 416.4 L1046.1 324.6 L1046.4 339.8 L1046.6 352.9 L1046.8 366.7 L1047.1 367.7 L1047.3 389.1 L1047.5 384.4 L1047.7 401.3 L1048 398.4 L1048.2 410.5 L1048.4 402.8 L1048.7 416.1 L1048.9 413.3 L1049.6 324.4 L1049.8 340.1 L1050 353.7 L1050.2 368.2 L1050.4 371.2 L1050.7 387.9 L1050.9 387.6 L1051.1 403.1 L1051.3 396.9 L1051.5 411.1 L1051.7 407.5 L1051.9 421.5 L1052.1 410.9 L1052.9 319.9 L1053.1 335.7 L1053.3 349.3 L1053.5 365.7 L1053.7 368.1 L1053.9 384.6 L1054.1 384.4 L1054.4 398.7 L1054.6 391.3 L1054.8 409.1 L1055 404.7 L1055.2 415.3 L1055.4 408.7 L1056.2 327.2 L1056.4 341.4 L1056.7 353.6 L1056.9 365.7 L1057.1 367 L1057.4 385.7 L1057.6 383.6 L1057.8 400.1 L1058 394.8 L1058.3 405.5 L1058.5 402.7 L1058.7 415.5 L1059 409.6 L1059.7 319.3 L1059.9 336.1 L1060.1 350.6 L1060.4 367.5 L1060.6 370.6 L1060.8 387 L1061 385.2 L1061.2 404.1 L1061.5 401.2 L1061.7 414.6 L1061.9 406.1 L1062.1 423.4 L1062.3 415.3 L1063.1 317.5 L1063.3 336 L1063.6 352 L1063.8 368.9 L1064 372.1 L1064.3 394 L1064.5 393.2 L1064.7 408.4 L1064.9 403.9 L1065.2 420.9 L1065.4 417.6 L1065.6 432.7 L1065.9 423.9 L1066.6 316 L1066.8 335 L1067 351.4 L1067.2 369.5 L1067.5 374 L1067.7 391 L1067.9 392.1 L1068.1 409.1 L1068.3 406.7 L1068.6 420.5 L1068.8 415.4 L1069 429.4 L1069.2 427.7 L1070 321.8 L1070.2 340.6 L1070.4 356.7 L1070.7 375.1 L1070.9 379.7 L1071.1 398.1 L1071.3 398.1 L1071.6 415.8 L1071.8 411.1 L1072 425.8 L1072.2 420.4 L1072.5 435.8 L1072.7 431 L1073.4 335.3 L1073.7 351.6 L1073.9 365.7 L1074.1 382.2 L1074.3 385.7 L1074.5 405.1 L1074.8 397.8 L1075 417.7 L1075.2 413.1 L1075.4 424.8 L1075.7 422.7 L1075.9 436.6 L1076.1 428.7 L1076.9 340.5 L1077.1 355.8 L1077.3 368.9 L1077.6 384.1 L1077.8 387.4 L1078 401.8 L1078.2 403.3 L1078.5 414.2 L1078.7 410.8 L1078.9 426.8 L1079.2 419.2 L1079.4 432.9 L1079.6 428.1 L1080.4 328.8 L1080.6 347.6 L1080.9 363.8 L1081.1 380 L1081.3 386.5 L1081.6 408 L1081.8 402.6 L1082 419 L1082.3 417.2 L1082.5 431.1 L1082.7 426.5 L1083 443.6 L1083.2 435.9 L1083.9 340.8 L1084.1 356.3 L1084.3 369.7 L1084.6 385.3 L1084.8 388.1 L1085 404 L1085.2 404.2 L1085.4 418.3 L1085.6 410.9 L1085.8 426.9 L1086.1 420.6 L1086.3 433.8 L1086.5 426.5 L1087.2 342.7 L1087.5 358.3 L1087.7 371.8 L1087.9 385.1 L1088.2 391.1 L1088.4 405.4 L1088.6 404.2 L1088.8 423.3 L1089.1 413.9 L1089.3 429.7 L1089.5 427.6 L1089.7 438.9 L1090 430.9 L1090.7 335.1 L1090.9 352.4 L1091.2 367.3 L1091.4 384.4 L1091.6 388.8 L1091.8 403.5 L1092 405.8 L1092.3 422.5 L1092.5 419.2 L1092.7 429.7 L1092.9 425.9 L1093.2 442.1 L1093.4 432.3 L1094.2 336.6 L1094.4 353.2 L1094.6 367.4 L1094.8 381.6 L1095.1 387.9 L1095.3 407.2 L1095.5 403.3 L1095.8 418.8 L1096 412.1 L1096.2 428.4 L1096.4 424.7 L1096.7 438 L1096.9 433.3 L1097.6 331.8 L1097.9 350.9 L1098.1 367.2 L1098.3 385 L1098.5 388.2 L1098.7 409 L1099 409.6 L1099.2 427.7 L1099.4 424.1 L1099.6 439.6 L1099.9 435.1 L1100.1 449.8 L1100.3 439.2 L1101.1 352.5 L1101.3 366.1 L1101.6 377.8 L1101.8 391.1 L1102 391.7 L1102.3 406.6 L1102.5 406 L1102.7 422.5 L1103 416.2 L1103.2 432.7 L1103.4 423.2 L1103.7 435.3 L1103.9 426.7 L1104.7 354.3 L1104.9 369.4 L1105.2 382.3 L1105.4 395.4 L1105.6 397.2 L1105.9 416.7 L1106.1 414.2 L1106.3 428.5 L1106.6 421.8 L1106.8 441.9 L1107 432.9 L1107.3 445.6 L1107.5 436.6 L1108.3 347.7 L1108.5 363.1 L1108.7 376.3 L1108.9 388.9 L1109.2 395 L1109.4 408.5 L1109.6 409.7 L1109.9 422.6 L1110.1 422.1 L1110.3 432.3 L1110.5 429.3 L1110.8 439.7 L1111 433.2 L1111.8 349.6 L1112 364.6 L1112.3 377.6 L1112.5 391.3 L1112.7 396.8 L1113 412.6 L1113.2 407.3 L1113.5 427.3 L1113.7 418.9 L1113.9 435.3 L1114.2 429.6 L1114.4 440.5 L1114.7 437.5 L1115.5 334.9 L1115.8 353.4 L1116 369.4 L1116.3 387.1 L1116.5 392.3 L1116.8 407.4 L1117 409.6 L1117.3 425.4 L1117.5 421.7 L1117.8 438.8 L1118 433.4 L1118.3 450.3 L1118.5 438.9 L1119.3 334.9 L1119.5 352.2 L1119.8 367 L1120 383.8 L1120.2 387.8 L1120.5 407.7 L1120.7 403.1 L1120.9 418.8 L1121.2 415.8 L1121.4 432.7 L1121.7 424.9 L1121.9 442.9 L1122.1 430.9 L1122.9 349.3 L1123.2 365.2 L1123.4 378.9 L1123.7 392.6 L1123.9 398.7 L1124.2 416.5 L1124.4 415 L1124.6 426.3 L1124.9 423.1 L1125.1 439.3 L1125.4 433.5 L1125.6 448.4 L1125.8 441.2 L1126.7 348 L1126.9 364.3 L1127.1 378.3 L1127.4 394.9 L1127.6 395.2 L1127.8 416.9 L1128.1 414.8 L1128.3 428.4 L1128.6 422.1 L1128.8 441.5 L1129 433.1 L1129.3 448.2 L1129.5 441.8 L1130.3 350.1 L1130.6 366.1 L1130.8 379.9 L1131 395.4 L1131.3 396.9 L1131.5 416.8 L1131.8 412.1 L1132 431.3 L1132.2 426 L1132.5 442.8 L1132.7 434.3 L1133 446.4 L1133.2 437.9 L1134 359.3 L1134.3 373.4 L1134.5 385.6 L1134.7 398.4 L1135 403.3 L1135.2 418.3 L1135.5 413.9 L1135.7 431.6 L1135.9 426.6 L1136.2 441.4 L1136.4 431.5 L1136.7 448.4 L1136.9 437.4 L1137.8 345.3 L1138 362.3 L1138.3 377 L1138.5 393.6 L1138.8 395.1 L1139 412.5 L1139.3 413.9 L1139.5 432.3 L1139.8 424 L1140 438.7 L1140.3 435.3 L1140.5 450.8 L1140.8 440.1 L1141.6 347 L1141.9 363.5 L1142.1 377.7 L1142.4 391.4 L1142.6 395.5 L1142.9 415.8 L1143.1 412.7 L1143.4 431.4 L1143.6 427 L1143.9 438 L1144.1 433.4 L1144.4 448 L1144.6 443.2 L1145.5 360.2 L1145.7 375.8 L1146 389.2 L1146.3 404.2 L1146.5 408.8 L1146.8 423.2 L1147 420.9 L1147.3 438.7 L1147.6 433.4 L1147.8 445.6 L1148.1 443.4 L1148.3 458.7 L1148.6 446.1 L1149.5 350.5 L1149.7 366.5 L1150 380.2 L1150.2 394.1 L1150.5 397 L1150.8 416 L1151 411.2 L1151.3 427.3 L1151.5 428.1 L1151.8 442.3 L1152 436.7 L1152.3 449.2 L1152.6 440.3 L1153.4 344.4 L1153.6 361.2 L1153.9 375.6 L1154.1 389.4 L1154.4 396.3 L1154.6 413.7 L1154.8 413.1 L1155.1 430.6 L1155.3 423.9 L1155.6 436 L1155.8 434.9 L1156.1 446.9 L1156.3 437.6 L1157.1 362.3 L1157.4 375.5 L1157.6 386.7 L1157.9 400.3 L1158.1 401.7 L1158.4 416.3 L1158.6 411 L1158.8 431 L1159.1 423.7 L1159.3 440.1 L1159.6 432.5 L1159.8 445.4 L1160.1 433.5 L1160.9 356.9 L1161.2 372.4 L1161.4 385.7 L1161.7 400.9 L1161.9 402.7 L1162.2 421.1 L1162.4 420 L1162.7 436.3 L1163 429.5 L1163.2 445 L1163.5 440.3 L1163.7 452.5 L1164 446.3 L1164.8 357.1 L1165.1 371.6 L1165.4 384.1 L1165.6 396 L1165.9 399.8 L1166.1 414.2 L1166.4 414.6 L1166.6 428.6 L1166.9 426.9 L1167.2 439.1 L1167.4 433.9 L1167.7 444.8 L1167.9 438.3 L1168.8 343.2 L1169 361.5 L1169.3 377.2 L1169.5 392 L1169.8 398.2 L1170 416.8 L1170.2 418 L1170.5 435.9 L1170.7 430.6 L1171 444 L1171.2 438.9 L1171.5 456.2 L1171.7 449.2 L1172.5 359.2 L1172.8 374.7 L1173 388 L1173.3 402.3 L1173.5 403.7 L1173.7 422.4 L1174 418.5 L1174.2 436.5 L1174.5 434.3 L1174.7 446.5 L1175 438.3 L1175.2 454.1 L1175.4 447.5 L1176.3 357 L1176.5 373.6 L1176.7 387.8 L1177 402.6 L1177.2 407 L1177.5 423.7 L1177.7 423.8 L1177.9 439 L1178.2 437.8 L1178.4 448.4 L1178.7 444.7 L1178.9 460.3 L1179.1 451.6 L1180 360.6 L1180.2 375.6 L1180.5 388.5 L1180.7 403 L1181 404.7 L1181.3 420.6 L1181.5 421.7 L1181.8 433 L1182 433.3 L1182.3 446.1 L1182.5 438.6 L1182.8 449.9 L1183 443.5 L1183.9 358 L1184.1 373.5 L1184.4 386.8 L1184.6 399.7 L1184.9 405.5 L1185.1 421.4 L1185.4 418.9 L1185.6 435.4 L1185.9 428 L1186.1 442.4 L1186.4 438.2 L1186.6 452.3 L1186.9 443.8 L1187.7 362.3 L1188 377.2 L1188.3 390 L1188.5 402.8 L1188.8 406.4 L1189 425.4 L1189.3 419.2 L1189.5 439.5 L1189.8 432.6 L1190 443.7 L1190.3 439.1 L1190.6 452.5 L1190.8 445.7 L1191.6 357.7 L1191.9 372.3 L1192.1 384.9 L1192.4 397.4 L1192.6 399.1 L1192.8 419.6 L1193.1 414 L1193.3 430.9 L1193.6 423 L1193.8 438.8 L1194 432.8 L1194.3 444.8 L1194.5 439.4 L1195.3 366.1 L1195.6 381.1 L1195.8 394 L1196.1 409.8 L1196.3 411.9 L1196.6 430.8 L1196.8 426 L1197.1 438.6 L1197.3 433.7 L1197.5 448.3 L1197.8 444.8 L1198 460 L1198.3 452.2 L1199.1 354.6 L1199.4 371.4 L1199.7 385.8 L1199.9 402.5 L1200.2 406.8 L1200.4 426 L1200.7 418.5 L1200.9 437 L1201.2 431.2 L1201.5 451.6 L1201.7 445.7 L1202 458.6 L1202.2 447.6 L1203.1 362 L1203.4 376.2 L1203.6 388.5 L1203.9 401.6 L1204.2 404.7 L1204.4 418.5 L1204.7 420.6 L1204.9 432.3 L1205.2 428.9 L1205.5 443.2 L1205.7 433.7 L1206 447.2 L1206.2 443.3 L1207.1 361.2 L1207.4 376.4 L1207.6 389.6 L1207.9 403 L1208.2 406.1 L1208.4 423.9 L1208.7 421.2 L1208.9 435.8 L1209.2 433.7 L1209.5 446.1 L1209.7 440.7 L1210 454.3 L1210.3 447.2 L1211.1 372.1 L1211.4 386.6 L1211.6 399 L1211.9 412.9 L1212.1 415.4 L1212.4 430.4 L1212.6 428.5 L1212.9 443.1 L1213.1 438.7 L1213.4 456.3 L1213.6 446 L1213.9 462.7 L1214.1 455.5 L1215 359.1 L1215.2 373.7 L1215.4 386.3 L1215.7 401.9 L1215.9 403.1 L1216.2 416.8 L1216.4 416.3 L1216.6 433.5 L1216.9 427.6 L1217.1 439.6 L1217.4 435.5 L1217.6 446.2 L1217.8 440.2 L1218.7 364.6 L1219 378.9 L1219.3 391.2 L1219.5 405.2 L1219.8 408.5 L1220 421.1 L1220.3 420.7 L1220.6 433.5 L1220.8 429.2 L1221.1 445.6 L1221.4 440.3 L1221.6 454 L1221.9 446.8 L1222.7 361.2 L1223 376.4 L1223.2 389.5 L1223.5 404.6 L1223.7 408 L1224 423.5 L1224.3 422.3 L1224.5 440 L1224.8 431.7 L1225 450 L1225.3 439.7 L1225.5 456.4 L1225.8 448.7 L1226.6 368.2 L1226.9 382 L1227.2 393.8 L1227.4 407.1 L1227.7 410.4 L1228 426 L1228.2 421.1 L1228.5 438.6 L1228.7 434.9 L1229 444.9 L1229.3 439.7 L1229.5 455.2 L1229.8 447.3 L1230.7 355.1 L1230.9 372.4 L1231.2 387.4 L1231.5 402.7 L1231.7 409.6 L1232 427 L1232.2 424.3 L1232.5 440.2 L1232.8 434.9 L1233 455.2 L1233.3 447.1 L1233.5 459.6 L1233.8 453.5 L1234.7 358.9 L1234.9 375 L1235.2 388.9 L1235.4 402.7 L1235.7 409.1 L1235.9 427.5 L1236.2 421.6 L1236.4 439.7 L1236.7 432.2 L1236.9 450.4 L1237.2 442.7 L1237.4 455.4 L1237.7 451.9 L1238.5 363.6 L1238.8 379.1 L1239 392.5 L1239.3 406.2 L1239.5 410.9 L1239.8 427.8 L1240 422.2 L1240.3 443.9 L1240.6 436 L1240.8 448.2 L1241.1 446.5 L1241.3 459.5 L1241.6 449 L1242.4 369.5 L1242.6 383.7 L1242.9 396 L1243.1 410.2 L1243.4 409.8 L1243.6 430 L1243.9 425.7 L1244.1 440.3 L1244.3 433.1 L1244.6 448.8 L1244.8 444.7 L1245.1 455 L1245.3 450.8 L1246.2 364.7 L1246.4 378.7 L1246.7 390.7 L1246.9 403.7 L1247.2 404.8 L1247.4 422.8 L1247.7 420.4 L1248 436.3 L1248.2 429.6 L1248.5 443.8 L1248.7 439.8 L1249 453.8 L1249.2 445.5 L1250.1 368.5 L1250.3 382.8 L1250.6 395.2 L1250.8 407.5 L1251.1 410 L1251.3 430.6 L1251.6 425 L1251.8 443.5 L1252.1 436.6 L1252.3 452.2 L1252.6 446.6 L1252.8 457.9 L1253.1 447.3 L1253.9 367.4 L1254.1 382.6 L1254.4 395.7 L1254.6 408.3 L1254.9 411.9 L1255.1 429.3 L1255.4 427 L1255.6 441.6 L1255.9 441.7 L1256.1 450.9 L1256.4 446.5 L1256.6 458.5 L1256.9 454.8 L1257.7 365.7 L1258 379.4 L1258.2 391.1 L1258.5 405.2 L1258.7 406.4 L1259 421.1 L1259.2 415.9 L1259.5 432.4 L1259.8 428.3 L1260 444 L1260.3 437.7 L1260.5 451.3 L1260.8 440.9 L1261.6 364.1 L1261.9 379 L1262.1 391.8 L1262.4 407.6 L1262.6 409.4 L1262.9 424.4 L1263.1 421.7 L1263.4 440.3 L1263.6 431.7 L1263.9 449.9 L1264.1 441.1 L1264.4 456.2 L1264.6 451.3 L1265.5 353.8 L1265.7 371.4 L1266 386.5 L1266.3 402.7 L1266.5 409.1 L1266.8 426.9 L1267 422.5 L1267.3 439.2 L1267.5 438.6 L1267.8 450.4 L1268 447.4 L1268.3 463.6 L1268.5 454.9 L1269.4 365.1 L1269.7 379.7 L1269.9 392.2 L1270.2 404.7 L1270.5 410.1 L1270.7 426.2 L1271 423 L1271.3 439.2 L1271.5 434.7 L1271.8 446.3 L1272 438.9 L1272.3 455 L1272.6 449.5 L1273.4 358 L1273.7 374.3 L1273.9 388.3 L1274.2 402 L1274.4 407 L1274.7 422.7 L1274.9 423.5 L1275.2 438.7 L1275.4 436.6 L1275.7 447.5 L1275.9 446 L1276.2 460.2 L1276.4 451.5 L1277.3 370.1 L1277.5 384.7 L1277.8 397.3 L1278 412.5 L1278.3 413.3 L1278.5 428.5 L1278.8 426.7 L1279 443.1 L1279.3 436.5 L1279.5 451.3 L1279.8 445.6 L1280 457 L1280.3 453.4 L1281.1 365.6 L1281.4 381 L1281.6 394.3 L1281.9 410.1 L1282.1 411.1 L1282.4 428.1 L1282.6 425.1 L1282.9 441.8 L1283.1 437.4 L1283.4 453.4 L1283.6 447.7 L1283.9 460.8 L1284.1 452.8 L1285 360.9 L1285.2 376 L1285.5 389 L1285.7 403.4 L1286 408.3 L1286.2 425 L1286.5 420 L1286.7 434 L1287 429.7 L1287.3 447.6 L1287.5 437.8 L1287.8 454.8 L1288 446.5 L1288.9 364.7 L1289.2 378.4 L1289.4 390.3 L1289.7 402.8 L1289.9 403.1 L1290.2 421.8 L1290.5 418.2 L1290.7 433.2 L1291 429.7 L1291.2 441.2 L1291.5 433.7 L1291.8 450.9 L1292 442.2 L1292.9 356.3 L1293.1 373.5 L1293.4 388.2 L1293.6 403.8 L1293.9 406.3 L1294.2 428.7 L1294.4 422.3 L1294.7 442.6 L1294.9 437.3 L1295.2 450.7 L1295.4 444.5 L1295.7 463.1 L1295.9 454.1 L1296.8 367 L1297.1 382.1 L1297.3 395.1 L1297.6 410.9 L1297.8 413.2 L1298.1 427.1 L1298.4 423.6 L1298.6 444.7 L1298.9 440.5 L1299.1 452.8 L1299.4 445.3 L1299.7 460.9 L1299.9 451.8 L1300.8 366.9 L1301 382.5 L1301.3 396 L1301.5 409.8 L1301.8 411.5 L1302 431 L1302.3 427.9 L1302.6 447.7 L1302.8 442.8 L1303.1 453.3 L1303.3 450.5 L1303.6 465.2 L1303.8 454.4 L1304.6 367.8 L1304.9 382.9 L1305.1 395.9 L1305.4 411.3 L1305.6 410.5 L1305.9 430.2 L1306.1 428.5 L1306.4 443.3 L1306.6 436.1 L1306.8 455.7 L1307.1 447.6 L1307.3 460.2 L1307.6 451.4 L1308.4 365.7 L1308.7 380 L1308.9 392.3 L1309.2 404.9 L1309.4 406.7 L1309.7 425.8 L1309.9 418.9 L1310.2 438.8 L1310.4 432.6 L1310.7 444.7 L1310.9 441.9 L1311.2 455.8 L1311.4 445.4 L1312.2 374.2 L1312.5 387.7 L1312.7 399.3 L1313 413.5 L1313.2 411.9 L1313.4 430.2 L1313.7 425.6 L1313.9 439.6 L1314.2 435.9 L1314.4 451 L1314.7 446.1 L1314.9 455.9 L1315.1 448.7 L1316 364.7 L1316.2 378.7 L1316.5 390.8 L1316.7 403.2 L1317 408.3 L1317.2 421.1 L1317.4 418.3 L1317.7 432.6 L1317.9 429.9 L1318.2 444.5 L1318.4 438.9 L1318.7 450.3 L1318.9 443.7 L1319.7 355.3 L1320 370.7 L1320.2 384.1 L1320.5 397.8 L1320.7 403.5 L1320.9 416.7 L1321.2 417.2 L1321.4 433.5 L1321.7 426.1 L1321.9 442.5 L1322.2 439.3 L1322.4 450.7 L1322.6 440.6 L1323.5 365.7 L1323.7 380.7 L1323.9 393.7 L1324.2 407.4 L1324.4 409.8 L1324.7 426.5 L1324.9 425.6 L1325.1 437.8 L1325.4 433.8 L1325.6 449.1 L1325.9 445.9 L1326.1 456.9 L1326.3 452.5 L1327.2 367.5 L1327.4 382.5 L1327.7 395.4 L1327.9 407.8 L1328.2 411.7 L1328.4 431.5 L1328.7 428.1 L1328.9 440.5 L1329.2 436 L1329.4 453.2 L1329.7 443.3 L1329.9 457.5 L1330.2 454.5 L1331 367.5 L1331.2 382 L1331.5 394.4 L1331.7 406.6 L1331.9 410.6 L1332.2 427.4 L1332.4 426.6 L1332.7 441.1 L1332.9 432.1 L1333.1 448.7 L1333.4 443 L1333.6 455.6 L1333.9 446.3 L1334.8 368.2 L1335 382.9 L1335.3 395.5 L1335.5 407.6 L1335.8 413.7 L1336.1 431.4 L1336.3 425.1 L1336.6 441.2 L1336.8 438.8 L1337.1 453.7 L1337.4 447.7 L1337.6 459.1 L1337.9 450.4 L1338.8 371.3 L1339 385.9 L1339.3 398.5 L1339.5 412.1 L1339.8 413.3 L1340.1 429.5 L1340.3 430 L1340.6 446.3 L1340.8 437.4 L1341.1 455.1 L1341.4 450.6 L1341.6 463.2 L1341.9 451.2 L1342.7 362.6 L1343 377.1 L1343.2 389.6 L1343.5 402.1 L1343.7 407.3 L1344 425.4 L1344.2 419.3 L1344.5 435.3 L1344.7 431.5 L1345 441.9 L1345.2 441 L1345.5 449 L1345.7 443.2 L1346.6 364.1 L1346.9 379.8 L1347.1 393.3 L1347.4 407.9 L1347.7 411.2 L1347.9 428.1 L1348.2 427.1 L1348.4 442.7 L1348.7 439.7 L1349 455.4 L1349.2 444.8 L1349.5 462.2 L1349.7 450.5 L1350.6 368.9 L1350.9 383.4 L1351.1 395.8 L1351.4 407.8 L1351.6 411.7 L1351.9 429 L1352.2 424.2 L1352.4 443.7 L1352.7 435.8 L1352.9 448.5 L1353.2 447.2 L1353.4 460.2 L1353.7 448.4 L1354.5 364.6 L1354.8 377.9 L1355 389.3 L1355.3 401.3 L1355.5 403.5 L1355.8 420.5 L1356 416.8 L1356.3 429.4 L1356.5 426.8 L1356.8 438 L1357 434.9 L1357.3 446.2 L1357.5 441.2 L1358.4 369.2 L1358.7 383.4 L1359 395.7 L1359.2 408.4 L1359.5 413 L1359.8 431 L1360 424.7 L1360.3 441.6 L1360.6 433.3 L1360.8 448.9 L1361.1 443 L1361.4 455.5 L1361.6 451.1 L1362.4 364.8 L1362.7 379 L1362.9 391.3 L1363.2 404.9 L1363.4 405.7 L1363.7 422.5 L1363.9 422.2 L1364.1 436.8 L1364.4 432.7 L1364.6 447.1 L1364.9 440 L1365.1 451.2 L1365.3 443.7 L1366.2 352.9 L1366.4 370.6 L1366.7 385.9 L1366.9 402.5 L1367.1 408.3 L1367.4 424.9 L1367.6 423.8 L1367.9 442.1 L1368.1 438.8 L1368.4 452.7 L1368.6 444 L1368.9 458 L1369.1 453 L1369.9 360.9 L1370.2 376.2 L1370.4 389.4 L1370.7 403.7 L1370.9 404.5 L1371.2 426.2 L1371.4 418.6 L1371.7 440.2 L1371.9 433.4 L1372.2 449.1 L1372.4 439 L1372.7 452.5 L1372.9 446.4 L1373.8 368.9 L1374.1 382.1 L1374.3 393.6 L1374.6 406.9 L1374.8 410.2 L1375.1 426.6 L1375.3 421.3 L1375.6 437.6 L1375.8 432.5 L1376.1 445 L1376.3 440.5 L1376.6 451.1 L1376.9 442.4 L1377.7 360.7 L1378 377.3 L1378.2 391.6 L1378.5 405.2 L1378.7 411.2 L1379 431.1 L1379.2 427.4 L1379.5 445 L1379.7 438.1 L1380 455.1 L1380.2 447.3 L1380.5 460.1 L1380.7 452.9 L1381.6 364.8 L1381.8 379.7 L1382.1 392.5 L1382.3 406.5 L1382.6 408.9 L1382.8 424.9 L1383.1 420.9 L1383.3 438.9 L1383.6 436.4 L1383.8 449.2 L1384.1 445.1 L1384.3 457.1 L1384.6 450.9 L1385.5 354.4 L1385.7 370.4 L1386 384.2 L1386.2 398.7 L1386.5 402.5 L1386.8 419.8 L1387 417 L1387.3 432.8 L1387.6 430.9 L1387.8 443.2 L1388.1 440.9 L1388.3 453.1 L1388.6 442.8 L1389.5 364.9 L1389.8 379.6 L1390 392.3 L1390.3 407.4 L1390.5 408.6 L1390.8 428.5 L1391.1 422.8 L1391.3 438.8 L1391.6 434.6 L1391.9 450 L1392.1 441.5 L1392.4 455.2 L1392.7 448.5 L1393.5 359.3 L1393.8 374.4 L1394.1 387.3 L1394.3 399.8 L1394.6 404 L1394.8 424 L1395.1 420.1 L1395.3 432.2 L1395.6 429.6 L1395.9 441.5 L1396.1 439.1 L1396.4 451.3 L1396.6 447 L1397.5 354.8 L1397.8 369.8 L1398.1 382.7 L1398.3 395.7 L1398.6 399.6 L1398.8 414.2 L1399.1 415.8 L1399.4 427.6 L1399.6 425.7 L1399.9 437.1 L1400.2 433.7 L1400.4 447.2 L1400.7 441.5 L1401.6 366 L1401.8 379.8 L1402.1 391.7 L1402.3 405.3 L1402.6 409 L1402.9 420.6 L1403.1 422.4 L1403.4 433.1 L1403.6 429.9 L1403.9 447 L1404.2 438.6 L1404.4 452.6 L1404.7 444.9 L1405.6 354.8 L1405.8 370.6 L1406.1 384.2 L1406.4 397.4 L1406.6 399.9 L1406.9 421 L1407.2 419.2 L1407.4 434.2 L1407.7 429.3 L1408 441.3 L1408.2 435 L1408.5 449.9 L1408.8 444 L1409.6 366.1 L1409.9 380.3 L1410.1 392.5 L1410.4 405 L1410.6 407.1 L1410.9 424.6 L1411.1 423.1 L1411.4 437.6 L1411.6 433.9 L1411.8 448.4 L1412.1 441.4 L1412.3 451 L1412.6 443.9 L1413.4 367.4 L1413.7 381.6 L1413.9 393.8 L1414.2 409 L1414.4 410.5 L1414.6 425.4 L1414.9 422.1 L1415.1 436.4 L1415.4 430.7 L1415.6 448.9 L1415.9 440.5 L1416.1 455.3 L1416.4 447.5 L1417.2 351.8 L1417.4 368 L1417.7 382 L1417.9 395.8 L1418.2 398.3 L1418.4 415.8 L1418.7 416.9 L1418.9 434.6 L1419.2 427.3 L1419.4 442.4 L1419.6 435.8 L1419.9 450.2 L1420.1 445.9 L1421 355.2 L1421.3 371.5 L1421.6 385.6 L1421.8 399.1 L1422.1 406.2 L1422.4 424.6 L1422.6 420.1 L1422.9 434.6 L1423.2 430.2 L1423.4 447 L1423.7 440.1 L1424 452.4 L1424.2 448.2 L1425.1 361.2 L1425.3 375.7 L1425.6 388.2 L1425.8 402.8 L1426.1 403.8 L1426.3 419.7 L1426.6 417.1 L1426.8 433.3 L1427.1 431.9 L1427.3 444 L1427.6 436 L1427.8 453 L1428.1 441.1 L1428.9 353.1 L1429.1 369.2 L1429.4 383.1 L1429.6 397 L1429.9 403.4 L1430.1 419.9 L1430.4 414.2 L1430.6 435.3 L1430.8 431.6 L1431.1 442.6 L1431.3 440.8 L1431.6 451.1 L1431.8 442.1 L1432.6 363.8 L1432.9 379.4 L1433.1 392.7 L1433.4 408.5 L1433.6 411.1 L1433.9 426.6 L1434.1 423.6 L1434.4 439.2 L1434.6 439.1 L1434.8 450.9 L1435.1 446.1 L1435.3 457.8 L1435.6 453.4 L1436.5 358 L1436.7 372.8 L1437 385.5 L1437.3 400.7 L1437.5 400.9 L1437.8 421.8 L1438 418.2 L1438.3 431.7 L1438.6 425.3 L1438.8 444.5 L1439.1 437.3 L1439.4 450.2 L1439.6 443.3 L1440.5 358.8 L1440.7 374.5 L1441 387.9 L1441.2 404.2 L1441.5 405.2 L1441.7 423.6 L1442 422 L1442.2 436.6 L1442.5 433.7 L1442.7 444.9 L1443 442.4 L1443.2 455 L1443.5 447.5 L1444.3 361 L1444.6 374.4 L1444.8 386.1 L1445.1 400.5 L1445.4 398.7 L1445.6 415.4 L1445.9 412.6 L1446.1 430.5 L1446.4 424.6 L1446.6 437.5 L1446.9 429 L1447.1 445.4 L1447.4 435.4 L1448.2 364.1 L1448.5 378.1 L1448.7 390.2 L1448.9 402.4 L1449.2 407.9 L1449.4 420.6 L1449.7 418.1 L1449.9 433.7 L1450.1 428.5 L1450.4 441.5 L1450.6 436.4 L1450.9 448 L1451.1 440.7 L1452 353.3 L1452.2 368.2 L1452.4 381 L1452.7 394.6 L1452.9 398.5 L1453.2 414.7 L1453.4 413 L1453.7 427.3 L1453.9 425.7 L1454.2 437.4 L1454.4 430.6 L1454.7 446.9 L1454.9 436.1 L1455.7 368.1 L1456 381.1 L1456.2 392.4 L1456.5 403.4 L1456.7 408.6 L1457 422.5 L1457.2 419 L1457.4 431.8 L1457.7 430 L1457.9 441.6 L1458.2 434.2 L1458.4 447.4 L1458.7 439.5 L1459.5 356.4 L1459.8 371.5 L1460.1 384.6 L1460.3 397.3 L1460.6 402.3 L1460.8 417.5 L1461.1 414.4 L1461.4 434.1 L1461.6 428.4 L1461.9 441 L1462.2 433.1 L1462.4 447.2 L1462.7 442.3 L1463.5 360.1 L1463.8 375.1 L1464.1 388.1 L1464.3 401.1 L1464.6 403.7 L1464.8 423.6 L1465.1 417.4 L1465.3 435.1 L1465.6 433.7 L1465.8 447.7 L1466.1 441.6 L1466.4 450.9 L1466.6 448.3 L1467.5 364.9 L1467.7 379 L1468 391.1 L1468.2 403.1 L1468.5 404.7 L1468.7 420.9 L1469 421.8 L1469.2 434 L1469.5 428.3 L1469.7 444.4 L1470 436.5 L1470.2 452.1 L1470.5 444.6 L1471.4 360.8 L1471.6 374.9 L1471.9 387 L1472.1 400.8 L1472.4 402.9 L1472.7 419.8 L1472.9 414.2 L1473.2 432.7 L1473.4 426.3 L1473.7 441.3 L1474 435.8 L1474.2 447.2 L1474.5 437.7 L1475.4 360.2 L1475.6 374.1 L1475.9 386.1 L1476.2 398.6 L1476.4 401.4 L1476.7 416.4 L1477 413.1 L1477.2 427.3 L1477.5 422.2 L1477.8 437.3 L1478 430.5 L1478.3 447 L1478.5 436.3 L1479.4 356.9 L1479.6 371.1 L1479.9 383.3 L1480.2 396.9 L1480.4 400.6 L1480.7 417.4 L1480.9 412.5 L1481.2 428.2 L1481.4 421.9 L1481.7 439.7 L1481.9 433.1 L1482.2 442.3" fill="none" stroke="#000" stroke-width="1" stroke-linejoin="miter" stroke-miterlimit="10"/>
<path d="M1338 332.7 L1435.5 364 M1484.6 332 V366.5" stroke="#2b2a29" stroke-width="2.3" fill="none"/>
<rect x="1338.2" y="196.2" width="147.3" height="136.4" fill="#fff" stroke="#2b2a29" stroke-width="2.4"/>
<path d="M1339.6 289.3 L1340.6 313.3 L1341.3 300 L1342.2 323.3 L1343 308 L1343.6 321.3 L1345.7 242.1 L1346.6 259.7 L1347.5 274.4 L1348.5 285.8 L1349.5 297 L1350.7 303.6 L1351.7 310.4 L1352.2 310.9 L1352.7 308.6 L1353.2 318.2 L1353.7 310.6 L1354.2 323.1 L1354.6 311.8 L1355.1 325.6 L1356.9 230.1 L1357.8 249.6 L1358.7 264.1 L1359.6 277.1 L1360.6 287.7 L1361.7 296.6 L1362.7 302.2 L1363.2 305.5 L1363.6 300.3 L1364.2 312.4 L1364.6 305.3 L1365.1 317.6 L1365.5 307.9 L1366 318 L1367.7 242.1 L1368.6 258.6 L1369.5 272.2 L1370.6 284.4 L1371.6 294.2 L1372.7 301.9 L1373.7 307.3 L1374.3 309.9 L1374.8 306.7 L1375.3 315.5 L1375.8 309.4 L1376.3 321.9 L1376.7 311.1 L1377.2 324.9 L1379.1 248.3 L1379.9 265.3 L1380.8 278.2 L1381.8 288.8 L1382.8 297.6 L1383.9 305 L1384.9 310.5 L1385.4 314.2 L1385.8 307.9 L1386.4 320.3 L1386.8 310.2 L1387.4 323.3 L1387.7 313.4 L1388.2 324.5 L1390 242.6 L1390.9 259.5 L1391.9 273.8 L1392.9 285.5 L1393.9 295.7 L1395.1 302.8 L1396.1 308.2 L1396.7 312.7 L1397.2 305.9 L1397.8 318.2 L1398.2 307.1 L1398.8 322.7 L1399.2 310 L1399.7 326.6 L1401.6 236.1 L1402.5 255.7 L1403.4 269.9 L1404.5 284 L1405.5 295.1 L1406.6 303.4 L1407.7 309.4 L1408.3 310.1 L1408.7 303.3 L1409.3 319 L1409.7 308.9 L1410.3 322.6 L1410.7 310.9 L1411.2 325 L1413.1 240.6 L1414 258.3 L1414.9 273.8 L1415.9 284.8 L1416.9 295.4 L1418 303.9 L1419 309.8 L1419.6 314.1 L1420 307.4 L1420.6 319.7 L1421 307.3 L1421.6 320.2 L1421.9 310.8 L1422.4 323.9 L1424.3 235.4 L1425.2 254.3 L1426.2 269.7 L1427.3 282.8 L1428.3 293 L1429.5 301 L1430.6 308.4 L1431.2 312.4 L1431.7 305.6 L1432.3 319.1 L1432.8 307.2 L1433.4 320.7 L1433.7 310.9 L1434.3 323.7 L1436.3 237.3 L1437.2 255.6 L1438 270 L1439 282 L1440 293 L1441.1 300.1 L1442.1 306.2 L1442.7 309.5 L1443.1 305.1 L1443.7 314.4 L1444.1 308.3 L1444.7 320.1 L1445 311 L1445.5 321.9 L1447.3 241.7 L1448.2 259.8 L1449.1 272.9 L1450.2 286.9 L1451.2 296 L1452.3 305 L1453.3 310.4 L1453.9 315.4 L1454.4 308.8 L1454.9 319.6 L1455.4 311.3 L1455.9 320.6 L1456.3 314.6 L1456.8 327 L1458.7 236.6 L1459.6 256 L1460.4 270.8 L1461.4 284.5 L1462.4 294.5 L1463.5 303.1 L1464.5 310.1 L1465.1 312.5 L1465.5 303.8 L1466.1 316.1 L1466.5 308.5 L1467.1 322.4 L1467.4 312.8 L1467.9 323.8 L1469.7 236.6 L1470.6 255.8 L1471.4 270.1 L1472.3 282.9 L1473.2 292.5 L1474.3 301.8 L1475.2 306.1 L1475.7 311.5 L1476.1 304.7 L1476.6 315.3 L1477 306.8 L1477.5 318.3 L1477.8 307.7 L1478.3 322.4 L1480 247.4 L1480.9 263 L1481.8 275.1 L1482.9 287.2 L1483.9 294.2 L1484.3 296" fill="none" stroke="#000" stroke-width="1.25" stroke-linejoin="miter" stroke-miterlimit="6"/>
<circle cx="1345.7" cy="239.1" r="4.7" fill="none" stroke="#2b2a29" stroke-width="2.2"/>
<circle cx="1356.9" cy="227.1" r="4.7" fill="none" stroke="#2b2a29" stroke-width="2.2"/>
<circle cx="1367.7" cy="239.1" r="4.7" fill="none" stroke="#2b2a29" stroke-width="2.2"/>
<circle cx="1379.1" cy="245.3" r="4.7" fill="none" stroke="#2b2a29" stroke-width="2.2"/>
<circle cx="1390" cy="239.6" r="4.7" fill="none" stroke="#2b2a29" stroke-width="2.2"/>
<circle cx="1401.6" cy="233.1" r="4.7" fill="none" stroke="#2b2a29" stroke-width="2.2"/>
<circle cx="1413.1" cy="237.6" r="4.7" fill="none" stroke="#2b2a29" stroke-width="2.2"/>
<circle cx="1424.3" cy="232.4" r="4.7" fill="none" stroke="#2b2a29" stroke-width="2.2"/>
<circle cx="1436.3" cy="234.3" r="4.7" fill="none" stroke="#2b2a29" stroke-width="2.2"/>
<circle cx="1447.3" cy="238.7" r="4.7" fill="none" stroke="#2b2a29" stroke-width="2.2"/>
<circle cx="1458.7" cy="233.6" r="4.7" fill="none" stroke="#2b2a29" stroke-width="2.2"/>
<circle cx="1469.7" cy="233.6" r="4.7" fill="none" stroke="#2b2a29" stroke-width="2.2"/>
<circle cx="1480" cy="244.4" r="4.7" fill="none" stroke="#2b2a29" stroke-width="2.2"/>
<g stroke="#000" stroke-width="2.6" fill="none">
<path d="M832.9 537.5 V685.3 H1484.5"/>
<path d="M832.9 538.7h6M832.9 612h6M832.9 685.3h6M941.3 685.3v-7M1049.7 685.3v-7M1158.1 685.3v-7M1266.5 685.3v-7M1374.9 685.3v-7M1483.3 685.3v-7"/>
</g>
<text font-size="25" text-anchor="end" transform="translate(825.2 547.6) scale(1 1.04)" style="fill:#1c1c1c">3.5</text>
<text font-size="25" text-anchor="end" transform="translate(825.2 620.9) scale(1 1.04)" style="fill:#1c1c1c">3.0</text>
<text font-size="25" text-anchor="end" transform="translate(825.2 694.2) scale(1 1.04)" style="fill:#1c1c1c">2.5</text>
<text font-size="25" text-anchor="middle" transform="translate(769 610) rotate(-90) scale(1 1.04)" style="fill:#000">Respiratory rate (Hz)</text>
<text font-size="25.3" text-anchor="middle" transform="translate(834.5 712.2) scale(1 1.04)" style="fill:#000">0</text>
<text font-size="25.3" text-anchor="middle" transform="translate(942.9 712.2) scale(1 1.04)" style="fill:#000">10</text>
<text font-size="25.3" text-anchor="middle" transform="translate(1051.3 712.2) scale(1 1.04)" style="fill:#000">20</text>
<text font-size="25.3" text-anchor="middle" transform="translate(1159.7 712.2) scale(1 1.04)" style="fill:#000">30</text>
<text font-size="25.3" text-anchor="middle" transform="translate(1268.1 712.2) scale(1 1.04)" style="fill:#000">40</text>
<text font-size="25.3" text-anchor="middle" transform="translate(1376.5 712.2) scale(1 1.04)" style="fill:#000">50</text>
<text font-size="25.3" text-anchor="middle" transform="translate(1484.9 712.2) scale(1 1.04)" style="fill:#000">60</text>
<text font-size="25.3" text-anchor="middle" transform="translate(1161.5 740.6) scale(1 1.04)" style="fill:#000">Time (s)</text>
<path d="M834.7 645.3 L838.7 637.3 L842.7 674.7 L850.7 645.3 L854.7 648 L858.7 649.3 L862.7 653.3 L866.7 660.8 L870.7 643.2 L874.7 644.8 L878.7 662.7 L882.7 650.1 L886.7 652.8 L890.7 632.5 L894.7 642.7 L898.1 665.3 L902.7 642.7 L906.7 650.7 L909.9 654.7 L914.7 645.9 L917.9 644 L922.1 657.3 L925.9 641.3 L929.9 664 L933.3 645.3 L937.3 654.7 L941.9 634.7 L946.7 645.3 L950.7 652.8 L953.3 654.7 L957.3 646.7 L961.9 668 L965.3 657.3 L969.3 647.5 L973.3 623.5 L976.5 650.1 L980.8 646.7 L984.8 630.7 L988.8 625.3 L992 612 L996 610.7 L999.5 627.5 L1003.5 613.3 L1006.7 614.7 L1010.1 593.3 L1013.9 605.3 L1018.1 626.7 L1021.3 598.1 L1024.8 611.2 L1028.8 595.2 L1032 598.7 L1035.5 598.1 L1038.7 576 L1042.7 592 L1046.4 613.3 L1052 570.7 L1056 567.5 L1059.2 604.5 L1062.7 580.8 L1066.7 594.7 L1069.9 595.2 L1073.3 588 L1076.8 589.9 L1080 574.7 L1083.2 612 L1086.7 609.3 L1090.7 605.3 L1093.9 625.3 L1097.9 628 L1100 633.3 L1104.8 628 L1109.3 614.7 L1113.3 651.5 L1117.3 632 L1121.3 636 L1124.5 636 L1129.3 646.7 L1132.5 643.2 L1136.5 630.7 L1140 644 L1144 629.9 L1147.5 653.3 L1151.5 662.7 L1155.5 648 L1158.7 649.3 L1163.2 634.1 L1168 656 L1171.2 648.5 L1176 647.5 L1180 645.3 L1183.2 644.8 L1187.2 646.7 L1190.7 633.3 L1195.2 644 L1199.2 645.3 L1203.2 642.1 L1206.7 641.3 L1210.1 653.3 L1214.1 634.1 L1217.9 656.8 L1221.9 645.9 L1225.9 660 L1234.1 640.8 L1238.1 656.8 L1241.3 632 L1245.3 634.7 L1249.3 642.7 L1252.8 620 L1256.5 662.7 L1260.5 640 L1264.8 662.7 L1269.3 632 L1273.3 649.3 L1276.8 656.8 L1280.5 626.7 L1284.8 648 L1288 648.5 L1292.5 661.3 L1296.5 653.3 L1301.3 637.9 L1304.8 638.7 L1308 636.8 L1312 649.3 L1317.3 652.8 L1320 652 L1324 639.5 L1328 643.2 L1331.2 626.7 L1335.2 641.3 L1338.7 634.1 L1343.2 674.7 L1346.7 661.3 L1350.7 637.3 L1355.2 656 L1359.5 636.8 L1362.7 653.9 L1366.7 650.7 L1370.7 661.3 L1375.2 641.3 L1378.7 640.8 L1382.7 626.7 L1386.7 646.7 L1389.9 649.3 L1394.1 660 L1398.1 652.8 L1401.9 657.9 L1405.9 647.5 L1409.9 648.8 L1413.9 634.7 L1418.7 646.7 L1422.7 656 L1425.9 640 L1429.9 640.8 L1433.3 639.5 L1437.3 663.5 L1442.1 629.3 L1445.9 641.3 L1449.3 649.3 L1453.3 656 L1456.8 655.2 L1461.3 659.2 L1466.1 662.7 L1469.3 645.9 L1473.3 663.5 L1477.9 631.2" fill="none" stroke="#0404f6" stroke-width="3.7" stroke-linejoin="round" stroke-linecap="round"/>
</g>
<g id="panel-c">
<text font-size="57" transform="translate(3 815.5) scale(1 1.04)">c</text>
<text font-size="42" text-anchor="middle" transform="translate(310.5 848.9) scale(1 0.985)" font-weight="bold" font-style="italic" style="fill:#8c8c8c">Pial arteriole</text>
<defs>
<linearGradient id="cVes" x1="0" y1="0" x2="0" y2="1">
<stop offset="0" stop-color="#1a0000"/><stop offset="0.12" stop-color="#5a0000"/><stop offset="0.26" stop-color="#b80000"/>
<stop offset="0.45" stop-color="#cf0202"/><stop offset="0.7" stop-color="#c40000"/><stop offset="0.85" stop-color="#8a0000"/><stop offset="1" stop-color="#1a0000"/>
</linearGradient>
<linearGradient id="cVesG" gradientUnits="userSpaceOnUse" x1="31" y1="1000" x2="258" y2="930"><stop offset="0" stop-color="#c20000"/><stop offset="0.6" stop-color="#cc0000"/><stop offset="0.85" stop-color="#dc0000"/><stop offset="1" stop-color="#ea0000"/></linearGradient>
<linearGradient id="cKy" x1="0" y1="0" x2="0" y2="1">
<stop offset="0" stop-color="#120000"/><stop offset="0.17" stop-color="#1c0000"/><stop offset="0.205" stop-color="#3a0000"/><stop offset="0.235" stop-color="#ec0000"/>
<stop offset="0.45" stop-color="#fa0202"/><stop offset="0.64" stop-color="#ee0000"/><stop offset="0.672" stop-color="#6a0000"/><stop offset="0.72" stop-color="#140000"/><stop offset="0.76" stop-color="#000"/><stop offset="1" stop-color="#000"/>
</linearGradient>
<linearGradient id="cKy2" x1="0" y1="0" x2="0" y2="1">
<stop offset="0" stop-color="#e80000" stop-opacity="0"/><stop offset="0.25" stop-color="#f00000"/><stop offset="0.75" stop-color="#f00000"/><stop offset="1" stop-color="#d00000" stop-opacity="0"/>
</linearGradient>
<filter id="cBlur" x="-10%" y="-30%" width="120%" height="160%"><feGaussianBlur stdDeviation="2.6"/></filter>
<filter id="cBlur2" x="-10%" y="-30%" width="120%" height="160%"><feGaussianBlur stdDeviation="1.6"/></filter>
<filter id="cStreak" x="0" y="0" width="100%" height="100%" color-interpolation-filters="sRGB"><feTurbulence type="fractalNoise" baseFrequency="1.3 0.03" numOctaves="2" seed="3"/><feColorMatrix type="matrix" values="0 0 0 0 0  0 0 0 0 0  0 0 0 0 0  0.9 0 0 0 -0.36"/></filter>
<filter id="cSpeck" x="0" y="0" width="100%" height="100%" color-interpolation-filters="sRGB"><feTurbulence type="fractalNoise" baseFrequency="0.06 0.2" numOctaves="2" seed="8"/><feColorMatrix type="matrix" values="0 0 0 0 0  0 0 0 0 0  0 0 0 0 0  0.6 0 0 0 -0.26"/></filter>
<clipPath id="cClip1"><rect x="31.2" y="915" width="226.8" height="113.8"/></clipPath>
<clipPath id="cClip2"><rect x="264" y="915" width="471.4" height="113.8"/></clipPath>
</defs>
<g clip-path="url(#cClip1)">
<rect x="31" y="915" width="227" height="114" fill="#190000"/>
<g filter="url(#cBlur)">
<path d="M20 969 C50 964 70 960 89 958 C110 955 125 952 141 947.5 C155 944 165 939.5 176 934.5 C190 928.5 200 924 211 918.5 C220 914 235 906 262 893 L262 965 C250 970.5 243 974 237 976.5 C228 981 220 984.5 211 988 C200 992 190 994 176 996 C165 998 155 999.5 141 1002 C128 1005 118 1009 107 1012 C95 1015.5 85 1018 72 1019.5 C55 1021 40 1021.5 20 1022Z" fill="url(#cVesG)"/>
<path d="M20 1008 C60 1007 100 1005 150 998 C110 1012 60 1018 20 1019Z" fill="#a40000"/>
<path d="M170 1042 C200 1028 235 1028 262 1036 L262 1046 L170 1046Z" fill="#4a0000"/>
</g>
<rect x="31" y="915" width="227" height="114" filter="url(#cSpeck)"/>
<path d="M140.8 927.6 L166 1012" stroke="#fff" stroke-width="4.4" stroke-dasharray="4.4 4.95" fill="none"/>
<rect x="211" y="992.3" width="34.4" height="3.6" fill="#fff"/>
<text font-size="24.5" text-anchor="end" transform="translate(254.8 1020.5) scale(1 1.04)" style="fill:#fff">10 µm</text>
</g>
<g clip-path="url(#cClip2)">
<rect x="264" y="915" width="472" height="114" fill="url(#cKy)"/>
<path d="M400 946 C410 938 418 936 430 936 C450 935 470 938 490 942 L490 990 C475 996 455 999 430 1000 C415 999 408 996 400 988Z" fill="#f20000" filter="url(#cBlur2)"/>
<rect x="264" y="915" width="472" height="114" filter="url(#cStreak)"/>
<rect x="342" y="915" width="78.8" height="114" fill="#fff" fill-opacity="0.4"/>
<path d="M264 943.2H736M264 990.2H736" stroke="#fff" stroke-width="3" stroke-dasharray="6.2 8.63" stroke-dashoffset="0.7" fill="none"/>
<rect x="606.8" y="950.8" width="3.2" height="32" fill="#fff"/>
<text font-size="24.5" transform="translate(615.8 975.2) scale(1 1.04)" style="fill:#fff">10 µm</text>
<rect x="611.2" y="999.3" width="78.6" height="3.3" fill="#fff"/>
<text font-size="24.5" text-anchor="middle" transform="translate(653 1025.6) scale(1 1.04)" style="fill:#fff">10 s</text>
</g>
<path d="M269 1040.4H711" stroke="#2b2a29" stroke-width="2.6" fill="none"/>
<path d="M709.3 1029.8L729.5 1040.4L709.3 1051Z" fill="#2b2a29"/>
<text font-size="29.5" text-anchor="middle" transform="translate(497.5 1072.5) scale(1 1.04)">Time</text>
<text font-size="29.5" transform="translate(355 904.3) scale(1 1.04)">CO<tspan font-size="16" dy="6.5">2</tspan></text>
<rect x="156.6" y="1130.8" width="73.5" height="490" fill="#e2e2e2"/>
<text font-size="42" transform="translate(157.5 1121) scale(1 1.04)">CO<tspan font-size="22" dy="8">2</tspan></text>
<path d="M92.9 1238.8 L94.2 1241.5 L95.4 1238.5 L96.7 1242.1 L97.9 1237 L99.2 1240.2 L100.4 1236.7 L101.7 1239.9 L102.9 1242 L104.2 1236.2 L105.4 1237.5 L106.7 1239.6 L107.9 1238.8 L109.2 1236.7 L110.4 1241.2 L111.7 1239.2 L112.9 1241.4 L114.2 1239.7 L115.4 1237 L116.7 1238.3 L117.9 1241.6 L119.2 1236.6 L120.4 1238.3 L121.7 1240.2 L122.9 1240.9 L124.2 1234.1 L125.4 1236.5 L126.7 1242.9 L127.9 1238.8 L129.2 1239.1 L130.4 1232 L131.7 1238.7 L132.9 1237.4 L134.2 1238.5 L135.4 1237.8 L136.7 1236.7 L137.9 1234.7 L139.2 1240.1 L140.4 1239.7 L141.7 1240.4 L142.9 1242.2 L144.2 1231.4 L145.4 1239.4 L146.7 1240 L147.9 1241.3 L149.2 1241 L150.4 1237.6 L151.7 1236.6 L152.9 1238.6 L154.2 1228.3 L155.4 1235.1 L156.7 1236.8 L157.9 1237.5 L159.2 1235.9 L160.4 1239.5 L161.7 1236.5 L162.9 1234.4 L164.2 1235.5 L165.4 1233.4 L166.7 1233.9 L167.9 1234.3 L169.2 1230.5 L170.4 1229.2 L171.7 1229.6 L172.9 1229.5 L174.2 1223.8 L175.4 1225.1 L176.7 1222.6 L177.9 1223 L179.2 1212.9 L180.4 1221.2 L181.7 1218.9 L182.9 1218.5 L184.2 1215.3 L185.4 1213.6 L186.7 1212.2 L187.9 1214.8 L189.2 1211.4 L190.4 1210.4 L191.7 1202.9 L192.9 1208.8 L194.2 1201.8 L195.4 1209.5 L196.7 1203.7 L197.9 1205.2 L199.2 1201.7 L200.4 1201.4 L201.7 1203.5 L202.9 1201.2 L204.2 1201.6 L205.4 1197.6 L206.7 1200.4 L207.9 1195 L209.2 1195.9 L210.4 1194.9 L211.7 1194.5 L212.9 1191.6 L214.2 1190.8 L215.4 1192.3 L216.7 1191.6 L217.9 1192.6 L219.2 1190.1 L220.4 1192.1 L221.7 1185.2 L222.9 1184.9 L224.2 1186.7 L225.4 1184.7 L226.7 1182.3 L227.9 1184.4 L229.2 1183.8 L230.4 1177.4 L231.7 1178.8 L232.9 1178.5 L234.2 1178.3 L235.4 1177.9 L236.7 1179.9 L237.9 1177.9 L239.2 1172.5 L240.4 1170.4 L241.7 1182.8 L242.9 1185.2 L244.2 1183.1 L245.4 1185.9 L246.7 1182.1 L247.9 1185.6 L249.2 1184.7 L250.4 1189.5 L251.7 1191.5 L252.9 1189.7 L254.2 1192.3 L255.4 1194.5 L256.6 1201.6 L257.9 1198.6 L259.1 1200.2 L260.4 1201.8 L261.6 1202.6 L262.9 1202.4 L264.1 1201.3 L265.4 1203.2 L266.6 1208.1 L267.9 1206.4 L269.1 1206.1 L270.4 1205.1 L271.6 1208.2 L272.9 1209.1 L274.1 1208.6 L275.4 1212.2 L276.6 1210.3 L277.9 1211.8 L279.1 1214.4 L280.4 1213.9 L281.6 1216 L282.9 1214 L284.1 1214 L285.4 1216 L286.6 1215.9 L287.9 1217.9 L289.1 1209.6 L290.4 1216.4 L291.6 1217.6 L292.9 1218.3 L294.1 1211.4 L295.4 1211.2 L296.6 1217.5 L297.9 1220.6 L299.1 1217.9 L300.4 1221.1 L301.6 1213.3 L302.9 1219.8 L304.1 1222.2 L305.4 1220.2 L306.6 1223.1 L307.9 1217.8 L309.1 1221.9 L310.4 1222.5 L311.6 1222.4 L312.9 1220.3 L314.1 1224.6 L315.4 1219.6 L316.6 1222.8 L317.9 1218 L319.1 1226.8 L320.4 1224.9 L321.6 1223.8 L322.9 1225.2 L324.1 1225.7 L325.4 1228 L326.6 1221 L327.9 1220.5 L329.1 1229 L330.4 1231.1 L331.6 1225.3 L332.9 1228.6 L334.1 1230.9 L335.4 1231.3 L336.6 1229.5 L337.9 1224.8 L339.1 1231.1 L340.4 1231.9 L341.6 1225.8 L342.9 1231.3 L344.1 1230.8 L345.4 1232.5 L346.6 1236.1 L347.9 1232.3 L349.1 1236.1 L350.4 1238.3 L351.6 1235.5 L352.9 1239.7 L354.1 1235.4 L355.4 1238.8 L356.6 1235.9 L357.9 1233.9 L359.1 1236.8 L360.4 1239.7 L361.6 1235.4 L362.9 1237.5 L364.1 1234.9 L365.4 1235.3 L366.6 1237.8 L367.9 1232.1 L369.1 1238.2 L370.4 1239.6 L371.6 1235.4 L372.9 1236.4 L374.1 1237.8 L375.4 1242 L376.6 1237.4 L377.9 1234.2 L379.1 1239 L380.4 1242.2 L381.6 1237.5 L382.9 1238.1 L384.1 1238.8 L385.4 1234.4 L386.6 1242.9 L387.9 1236.9 L389.1 1236.3 L390.4 1239.7 L391.6 1240.4 L392.9 1235.6 L394.1 1238.6 L395.4 1241.5 L396.6 1239 L397.9 1240.9 L399.1 1233.3 L400.4 1241.4 L401.6 1241.1 L402.9 1240.9 L404.1 1242.8 L405.4 1239.7 L406.6 1241 L407.9 1242.9 L409.1 1240 L410.4 1240.4 L411.6 1238.7 L412.9 1239.6 L414.1 1245.1 L415.4 1242.4 L416.6 1245 L417.9 1243 L419.1 1242 L420.4 1241.4 L421.6 1242.5 L422.9 1242.1 L424.1 1243.9 L425.4 1240.8 L426.6 1242.8 L427.9 1243.4 L429.1 1238.2 L430.4 1242.3 L431.6 1243.8 L432.9 1243.8 L434.1 1242.6 L435.4 1242.7 L436.6 1241.7 L437.9 1239.8 L439.1 1242.3 L440.4 1239.7 L441.6 1241.9 L442.9 1243.5 L444.1 1238.4 L445.4 1240.6 L446.6 1243.5 L447.9 1243.2 L449.1 1243.1 L450.4 1244.7 L451.6 1241.3 L452.9 1242.9 L454.1 1238.8 L455.4 1243.5 L456.6 1243.7 L457.9 1242.4 L459.1 1242.8 L460.4 1240 L461.6 1242.5 L462.9 1239.1 L464.1 1245.1 L465.4 1243.2 L466.6 1238.4 L467.9 1236.3 L469.1 1243.4 L470.4 1239.6 L471.6 1242.1 L472.9 1238.9 L474.1 1241.4 L475.4 1240.1 L476.6 1242.4 L477.9 1234 L479.1 1244.1 L480.4 1240.1 L481.6 1243.8 L482.9 1241.5 L484.1 1242.6 L485.4 1238.8 L486.6 1238.6 L487.9 1243.7 L489.1 1239.6 L490.4 1233.8 L491.6 1241.4 L492.9 1240.4 L494.1 1242.4 L495.4 1239.5 L496.6 1240 L497.9 1243.8 L499.1 1233.4 L500.4 1243.6 L501.6 1243.5 L502.9 1245.1 L504.1 1243.3 L505.4 1239.2 L506.6 1241.4 L507.9 1241.8 L509.1 1244.8 L510.4 1243.3 L511.6 1241.8 L511.6 1341.9 L510.4 1344.2 L509.1 1338.6 L507.9 1342.7 L506.6 1341.3 L505.4 1345.1 L504.1 1342.8 L502.9 1339.2 L501.6 1342.2 L500.4 1339.3 L499.1 1340.3 L497.9 1341.8 L496.6 1337.9 L495.4 1343.8 L494.1 1338 L492.9 1339.3 L491.6 1340.6 L490.4 1341.8 L489.1 1342.3 L487.9 1340.2 L486.6 1340 L485.4 1341.4 L484.1 1340.3 L482.9 1337.7 L481.6 1340.2 L480.4 1343.4 L479.1 1343.9 L477.9 1340.2 L476.6 1339.3 L475.4 1340.3 L474.1 1339.5 L472.9 1344.8 L471.6 1341.2 L470.4 1340.5 L469.1 1344.1 L467.9 1341.2 L466.6 1344.9 L465.4 1338.9 L464.1 1341.5 L462.9 1341.1 L461.6 1340.6 L460.4 1339.9 L459.1 1342.4 L457.9 1343.5 L456.6 1348.2 L455.4 1340.2 L454.1 1342.4 L452.9 1342.7 L451.6 1344.9 L450.4 1342.1 L449.1 1343.2 L447.9 1341.5 L446.6 1342.9 L445.4 1341.9 L444.1 1340.6 L442.9 1344.8 L441.6 1340.5 L440.4 1342.6 L439.1 1342.2 L437.9 1346.9 L436.6 1341.8 L435.4 1340.3 L434.1 1342.1 L432.9 1343.6 L431.6 1342.7 L430.4 1340.4 L429.1 1344.7 L427.9 1342.1 L426.6 1343.1 L425.4 1342.9 L424.1 1337.8 L422.9 1343.8 L421.6 1350.1 L420.4 1342.4 L419.1 1339.7 L417.9 1340.5 L416.6 1342.6 L415.4 1340.5 L414.1 1342.8 L412.9 1343.8 L411.6 1343.9 L410.4 1347.6 L409.1 1342.3 L407.9 1341.6 L406.6 1342.6 L405.4 1337.2 L404.1 1342.3 L402.9 1340 L401.6 1342.9 L400.4 1341.7 L399.1 1340 L397.9 1341.4 L396.6 1343.5 L395.4 1336.6 L394.1 1340.1 L392.9 1341 L391.6 1339.8 L390.4 1336.4 L389.1 1340 L387.9 1343.2 L386.6 1335.5 L385.4 1336.3 L384.1 1338.7 L382.9 1340 L381.6 1337.2 L380.4 1336.4 L379.1 1338.4 L377.9 1337.3 L376.6 1336.5 L375.4 1339.4 L374.1 1336.9 L372.9 1332.6 L371.6 1335.9 L370.4 1334.9 L369.1 1334.5 L367.9 1332 L366.6 1334.5 L365.4 1334.5 L364.1 1334.9 L362.9 1338.8 L361.6 1333.3 L360.4 1335.5 L359.1 1332.1 L357.9 1333.8 L356.6 1331.6 L355.4 1332.4 L354.1 1335 L352.9 1329.2 L351.6 1332.9 L350.4 1334.1 L349.1 1332.7 L347.9 1332.7 L346.6 1331 L345.4 1328.8 L344.1 1330.7 L342.9 1331.7 L341.6 1331.2 L340.4 1331.8 L339.1 1330.9 L337.9 1332.5 L336.6 1327 L335.4 1330.4 L334.1 1331.8 L332.9 1325.7 L331.6 1330.4 L330.4 1329.3 L329.1 1330.6 L327.9 1328 L326.6 1332.2 L325.4 1329.2 L324.1 1329.2 L322.9 1327.4 L321.6 1327.3 L320.4 1327.2 L319.1 1329 L317.9 1326.3 L316.6 1328.9 L315.4 1323.4 L314.1 1325.4 L312.9 1321.2 L311.6 1322.1 L310.4 1323.5 L309.1 1321.7 L307.9 1323.4 L306.6 1323.4 L305.4 1318.7 L304.1 1319.1 L302.9 1320.7 L301.6 1319.6 L300.4 1318.6 L299.1 1318.7 L297.9 1319.3 L296.6 1320.7 L295.4 1319 L294.1 1316.7 L292.9 1314.8 L291.6 1313.6 L290.4 1316.6 L289.1 1316.7 L287.9 1316.6 L286.6 1314.9 L285.4 1313.9 L284.1 1314.3 L282.9 1318.2 L281.6 1313.8 L280.4 1317.9 L279.1 1313.6 L277.9 1312.6 L276.6 1314.7 L275.4 1310.2 L274.1 1311.2 L272.9 1312.8 L271.6 1309.1 L270.4 1307.6 L269.1 1312 L267.9 1310.2 L266.6 1307.1 L265.4 1309.5 L264.1 1310.1 L262.9 1303.2 L261.6 1301.5 L260.4 1301.4 L259.1 1303 L257.9 1303.6 L256.6 1300.4 L255.4 1296.1 L254.2 1295.6 L252.9 1295.6 L251.7 1290.8 L250.4 1293.2 L249.2 1293.1 L247.9 1291.2 L246.7 1288.9 L245.4 1287.7 L244.2 1285.8 L242.9 1285 L241.7 1284.6 L240.4 1279.3 L239.2 1284.2 L237.9 1280.9 L236.7 1277.6 L235.4 1278.4 L234.2 1281.5 L232.9 1287.8 L231.7 1281.7 L230.4 1285.8 L229.2 1284.5 L227.9 1285.5 L226.7 1283.7 L225.4 1286 L224.2 1292.6 L222.9 1290.9 L221.7 1287.7 L220.4 1288.6 L219.2 1294.7 L217.9 1292.7 L216.7 1291.5 L215.4 1294 L214.2 1292.3 L212.9 1293.7 L211.7 1290.7 L210.4 1292.1 L209.2 1294.3 L207.9 1296.4 L206.7 1296.3 L205.4 1299.1 L204.2 1302.6 L202.9 1299 L201.7 1301.4 L200.4 1299.8 L199.2 1306.7 L197.9 1303.2 L196.7 1302.5 L195.4 1306 L194.2 1307 L192.9 1307.3 L191.7 1313 L190.4 1305.8 L189.2 1310.1 L187.9 1312.2 L186.7 1320 L185.4 1313.7 L184.2 1312.9 L182.9 1318.8 L181.7 1317.2 L180.4 1330.2 L179.2 1321 L177.9 1324.6 L176.7 1320.5 L175.4 1324.8 L174.2 1324.1 L172.9 1328.5 L171.7 1335.9 L170.4 1332.5 L169.2 1332 L167.9 1330 L166.7 1333.6 L165.4 1334.4 L164.2 1330.5 L162.9 1331.8 L161.7 1334.2 L160.4 1333 L159.2 1334 L157.9 1336.8 L156.7 1332.6 L155.4 1332.2 L154.2 1333.7 L152.9 1332 L151.7 1336.3 L150.4 1333.8 L149.2 1332.9 L147.9 1334.3 L146.7 1337.8 L145.4 1334.1 L144.2 1332.4 L142.9 1337.1 L141.7 1334.2 L140.4 1332.3 L139.2 1336.4 L137.9 1332.3 L136.7 1335.2 L135.4 1335.6 L134.2 1334 L132.9 1333.2 L131.7 1340.6 L130.4 1335.3 L129.2 1333.8 L127.9 1330.8 L126.7 1335.2 L125.4 1338.7 L124.2 1336.2 L122.9 1340.6 L121.7 1334.4 L120.4 1334.9 L119.2 1335.8 L117.9 1333.8 L116.7 1336 L115.4 1330.2 L114.2 1344.6 L112.9 1330.3 L111.7 1335.2 L110.4 1333.9 L109.2 1333.6 L107.9 1334.1 L106.7 1334.7 L105.4 1335.5 L104.2 1334 L102.9 1335.6 L101.7 1336.4 L100.4 1336 L99.2 1334.8 L97.9 1336.2 L96.7 1338.2 L95.4 1335.2 L94.2 1333.5 L92.9 1335Z" fill="#0000ff" fill-opacity="0.2"/>
<path d="M169 1286.3H512" stroke="#1a1a1a" stroke-width="2.2" stroke-dasharray="5.4 6.2" fill="none"/>
<path d="M92.9 1286.4 L94.2 1287.2 L95.4 1287.2 L96.7 1286.5 L97.9 1285.1 L99.2 1285.2 L100.4 1285.4 L101.7 1286.9 L102.9 1287.7 L104.2 1289.1 L105.4 1288.6 L106.7 1288.9 L107.9 1287.8 L109.2 1287.1 L110.4 1286.6 L111.7 1286.7 L112.9 1287.9 L114.2 1288 L115.4 1287.9 L116.7 1286.7 L117.9 1286.1 L119.2 1286.2 L120.4 1287.3 L121.7 1288.2 L122.9 1288.2 L124.2 1288.2 L125.4 1288.6 L126.7 1288.5 L127.9 1287.6 L129.2 1285.5 L130.4 1285.4 L131.7 1286.2 L132.9 1287 L134.2 1288.1 L135.4 1286.9 L136.7 1286.9 L137.9 1285.8 L139.2 1285.5 L140.4 1286.5 L141.7 1286 L142.9 1286 L144.2 1283.9 L145.4 1285.1 L146.7 1286.9 L147.9 1287.5 L149.2 1285.8 L150.4 1284.5 L151.7 1285.2 L152.9 1285.8 L154.2 1286.5 L155.4 1285.7 L156.7 1287.5 L157.9 1287.3 L159.2 1288.7 L160.4 1286.6 L161.7 1286.9 L162.9 1287.2 L164.2 1286.7 L165.4 1285.9 L166.7 1285.2 L167.9 1285.6 L169.2 1284.2 L170.4 1282.1 L171.7 1281.1 L172.9 1280.5 L174.2 1279 L175.4 1277.3 L176.7 1274 L177.9 1273.1 L179.2 1272.1 L180.4 1273 L181.7 1271.1 L182.9 1269.2 L184.2 1267.2 L185.4 1266 L186.7 1263.8 L187.9 1261.3 L189.2 1259.7 L190.4 1258.3 L191.7 1256.6 L192.9 1256.8 L194.2 1255.5 L195.4 1255.4 L196.7 1252.9 L197.9 1251.6 L199.2 1251.2 L200.4 1249.3 L201.7 1250.9 L202.9 1248.7 L204.2 1248.5 L205.4 1246.2 L206.7 1246.4 L207.9 1246.2 L209.2 1246.4 L210.4 1246.8 L211.7 1247.8 L212.9 1245.5 L214.2 1244.7 L215.4 1242.7 L216.7 1242.6 L217.9 1240 L219.2 1240.4 L220.4 1240.6 L221.7 1239.3 L222.9 1237.7 L224.2 1236.2 L225.4 1236.8 L226.7 1235.3 L227.9 1233.6 L229.2 1232.4 L230.4 1231.6 L231.7 1230.3 L232.9 1228.5 L234.2 1225.9 L235.4 1227 L236.7 1227.3 L237.9 1228.6 L239.2 1228.3 L240.4 1230.3 L241.7 1231.5 L242.9 1232.1 L244.2 1233.7 L245.4 1234.8 L246.7 1237 L247.9 1237 L249.2 1237.8 L250.4 1238.8 L251.7 1240.6 L252.9 1242.7 L254.2 1244.6 L255.4 1245.8 L256.6 1246.7 L257.9 1248.2 L259.1 1250.5 L260.4 1252.8 L261.6 1253.5 L262.9 1252.9 L264.1 1253.3 L265.4 1254.5 L266.6 1256.4 L267.9 1257.5 L269.1 1257.6 L270.4 1258.1 L271.6 1256.4 L272.9 1258.6 L274.1 1259 L275.4 1260.9 L276.6 1260.5 L277.9 1260.7 L279.1 1260.9 L280.4 1261.7 L281.6 1262.4 L282.9 1263.1 L284.1 1263.6 L285.4 1264.5 L286.6 1265.9 L287.9 1265.8 L289.1 1266.9 L290.4 1266.5 L291.6 1268 L292.9 1269 L294.1 1269.5 L295.4 1269.6 L296.6 1267.6 L297.9 1268.8 L299.1 1267.7 L300.4 1268.5 L301.6 1269 L302.9 1271.5 L304.1 1273.3 L305.4 1273.4 L306.6 1272.4 L307.9 1272.5 L309.1 1274.9 L310.4 1277 L311.6 1276.4 L312.9 1274.4 L314.1 1272.7 L315.4 1274.5 L316.6 1275.1 L317.9 1275.4 L319.1 1275.1 L320.4 1275.1 L321.6 1275.7 L322.9 1275.8 L324.1 1277 L325.4 1277.3 L326.6 1277.5 L327.9 1276 L329.1 1276.6 L330.4 1278.1 L331.6 1279.8 L332.9 1279.8 L334.1 1278.5 L335.4 1279.2 L336.6 1279.9 L337.9 1280.2 L339.1 1280.4 L340.4 1280.4 L341.6 1280.5 L342.9 1280.3 L344.1 1279.9 L345.4 1280.4 L346.6 1279.8 L347.9 1281.1 L349.1 1281.7 L350.4 1283.9 L351.6 1284.6 L352.9 1285 L354.1 1284.3 L355.4 1283.9 L356.6 1284.4 L357.9 1284.7 L359.1 1285.4 L360.4 1286.4 L361.6 1286.6 L362.9 1285.8 L364.1 1285 L365.4 1283.8 L366.6 1286 L367.9 1284.4 L369.1 1285.3 L370.4 1284.2 L371.6 1285 L372.9 1284.8 L374.1 1285.3 L375.4 1285.1 L376.6 1286.2 L377.9 1285.4 L379.1 1286.1 L380.4 1286.9 L381.6 1287.8 L382.9 1288.4 L384.1 1286.8 L385.4 1286.4 L386.6 1286.1 L387.9 1288 L389.1 1288.4 L390.4 1288.5 L391.6 1287.4 L392.9 1288.3 L394.1 1288.7 L395.4 1289 L396.6 1287.9 L397.9 1287.3 L399.1 1289.7 L400.4 1290.8 L401.6 1293.9 L402.9 1292.7 L404.1 1293.2 L405.4 1291.1 L406.6 1290.7 L407.9 1290.7 L409.1 1290.9 L410.4 1291.5 L411.6 1292.4 L412.9 1293.5 L414.1 1293.2 L415.4 1291 L416.6 1292.8 L417.9 1293.3 L419.1 1293.7 L420.4 1290.8 L421.6 1289.8 L422.9 1290 L424.1 1291 L425.4 1290.9 L426.6 1291.8 L427.9 1291.5 L429.1 1292 L430.4 1291.1 L431.6 1291.5 L432.9 1291.9 L434.1 1292.1 L435.4 1290.7 L436.6 1290.4 L437.9 1289.6 L439.1 1290.1 L440.4 1290.3 L441.6 1292.5 L442.9 1292.8 L444.1 1292.6 L445.4 1292.5 L446.6 1291.8 L447.9 1291.1 L449.1 1290.3 L450.4 1291.9 L451.6 1291.3 L452.9 1290 L454.1 1289.7 L455.4 1291.4 L456.6 1291.7 L457.9 1290.9 L459.1 1290.6 L460.4 1290.8 L461.6 1289.2 L462.9 1288.6 L464.1 1289.3 L465.4 1289.7 L466.6 1290.5 L467.9 1289.5 L469.1 1289.1 L470.4 1288.3 L471.6 1287.4 L472.9 1289.8 L474.1 1290.1 L475.4 1292.7 L476.6 1290.4 L477.9 1290.2 L479.1 1290 L480.4 1292.3 L481.6 1292.7 L482.9 1292 L484.1 1291.6 L485.4 1292 L486.6 1293.1 L487.9 1291.3 L489.1 1289.9 L490.4 1288.1 L491.6 1289.7 L492.9 1290.8 L494.1 1291 L495.4 1290.9 L496.6 1291.2 L497.9 1292.5 L499.1 1292 L500.4 1291.3 L501.6 1290.5 L502.9 1293 L504.1 1292.8 L505.4 1293 L506.6 1291.2 L507.9 1291.5 L509.1 1292 L510.4 1292 L511.6 1292.2" fill="none" stroke="#0404f6" stroke-width="5.2" stroke-linejoin="round" stroke-linecap="round"/>
<path d="M92.9 1553 L94.2 1552.3 L95.4 1549.5 L96.7 1552.6 L97.9 1549.9 L99.2 1550.6 L100.4 1552.7 L101.7 1551.2 L102.9 1550 L104.2 1549.5 L105.4 1550.7 L106.7 1550.9 L107.9 1550.1 L109.2 1545.4 L110.4 1550.8 L111.7 1551.3 L112.9 1546.7 L114.2 1549.2 L115.4 1548.6 L116.7 1549.1 L117.9 1550.9 L119.2 1547.3 L120.4 1548.9 L121.7 1547.1 L122.9 1551.3 L124.2 1548 L125.4 1547.1 L126.7 1550.8 L127.9 1546.3 L129.2 1549.2 L130.4 1546.2 L131.7 1544.8 L132.9 1546.1 L134.2 1548.1 L135.4 1551.5 L136.7 1550.5 L137.9 1551 L139.2 1548.5 L140.4 1549 L141.7 1547.7 L142.9 1551.5 L144.2 1547.4 L145.4 1545.9 L146.7 1545.7 L147.9 1549.8 L149.2 1547.2 L150.4 1548.4 L151.7 1545.7 L152.9 1546.9 L154.2 1542 L155.4 1546 L156.7 1547.3 L157.9 1548.6 L159.2 1550.6 L160.4 1546.6 L161.7 1545.4 L162.9 1545.3 L164.2 1544.4 L165.4 1546.6 L166.7 1545 L167.9 1546.1 L169.2 1544.5 L170.4 1548.7 L171.7 1545.5 L172.9 1547 L174.2 1545.2 L175.4 1549.2 L176.7 1543.1 L177.9 1546.2 L179.2 1547.4 L180.4 1545 L181.7 1546.5 L182.9 1544.7 L184.2 1546.5 L185.4 1544.4 L186.7 1546.9 L187.9 1541.1 L189.2 1544.2 L190.4 1541.4 L191.7 1540.7 L192.9 1541.4 L194.2 1538.7 L195.4 1533 L196.7 1538.9 L197.9 1535.3 L199.2 1535.9 L200.4 1536.6 L201.7 1531.8 L202.9 1532.9 L204.2 1526.5 L205.4 1522.9 L206.7 1522.1 L207.9 1516.6 L209.2 1517 L210.4 1510.3 L211.7 1511.7 L212.9 1508.8 L214.2 1502 L215.4 1499.7 L216.7 1495.5 L217.9 1489.4 L219.2 1486.1 L220.4 1483 L221.7 1475.7 L222.9 1476.4 L224.2 1469.2 L225.4 1464.7 L226.7 1459.4 L227.9 1458.1 L229.2 1448.9 L230.4 1447.4 L231.7 1443.6 L232.9 1440.5 L234.2 1433.6 L235.4 1430.5 L236.7 1431.1 L237.9 1422.2 L239.2 1420.5 L240.4 1419.5 L241.7 1418.3 L242.9 1413 L244.2 1408.6 L245.4 1404.6 L246.7 1404.4 L247.9 1401.3 L249.2 1396 L250.4 1392.1 L251.7 1390 L252.9 1387.7 L254.2 1383.9 L255.4 1380.9 L256.6 1378.6 L257.9 1375.3 L259.1 1373.1 L260.4 1374.8 L261.6 1370.6 L262.9 1370.3 L264.1 1368.1 L265.4 1370.7 L266.6 1374.1 L267.9 1374 L269.1 1375.2 L270.4 1381.5 L271.6 1384.7 L272.9 1387.2 L274.1 1390.3 L275.4 1396.6 L276.6 1398.1 L277.9 1401.7 L279.1 1407.9 L280.4 1413.7 L281.6 1417.1 L282.9 1422.6 L284.1 1427.6 L285.4 1428 L286.6 1432.9 L287.9 1436.5 L289.1 1441.6 L290.4 1441.8 L291.6 1449.7 L292.9 1449.6 L294.1 1455.9 L295.4 1457.8 L296.6 1460.4 L297.9 1464.5 L299.1 1460.9 L300.4 1469.1 L301.6 1469.9 L302.9 1470.4 L304.1 1476.5 L305.4 1475.2 L306.6 1480.4 L307.9 1481 L309.1 1483.3 L310.4 1488.3 L311.6 1488.8 L312.9 1490 L314.1 1493.6 L315.4 1493.3 L316.6 1498.2 L317.9 1495 L319.1 1499.8 L320.4 1499.6 L321.6 1503.3 L322.9 1502.4 L324.1 1505.3 L325.4 1508.2 L326.6 1505.3 L327.9 1510 L329.1 1510 L330.4 1509 L331.6 1513.8 L332.9 1516.5 L334.1 1517.6 L335.4 1514.5 L336.6 1516.3 L337.9 1514.2 L339.1 1514.9 L340.4 1516 L341.6 1519.2 L342.9 1517.9 L344.1 1522.7 L345.4 1521.9 L346.6 1526.7 L347.9 1526.5 L349.1 1521.9 L350.4 1526.7 L351.6 1527.3 L352.9 1527.9 L354.1 1527 L355.4 1525 L356.6 1527.3 L357.9 1526.8 L359.1 1530.6 L360.4 1528.8 L361.6 1530.1 L362.9 1526.5 L364.1 1528.4 L365.4 1528.1 L366.6 1527.2 L367.9 1525.5 L369.1 1526.4 L370.4 1529.2 L371.6 1527.7 L372.9 1529.4 L374.1 1529.7 L375.4 1526.3 L376.6 1527.5 L377.9 1529.6 L379.1 1529.1 L380.4 1526.6 L381.6 1528.7 L382.9 1522.4 L384.1 1526.4 L385.4 1526.5 L386.6 1525.3 L387.9 1519 L389.1 1524.6 L390.4 1525.8 L391.6 1524.6 L392.9 1521.5 L394.1 1524 L395.4 1526.7 L396.6 1525.9 L397.9 1526.2 L399.1 1522.8 L400.4 1524.9 L401.6 1523.7 L402.9 1523.5 L404.1 1520.6 L405.4 1523.6 L406.6 1525.2 L407.9 1523.7 L409.1 1519.4 L410.4 1524.3 L411.6 1521.5 L412.9 1524.1 L414.1 1521.9 L415.4 1523.6 L416.6 1522.8 L417.9 1524.7 L419.1 1520.7 L420.4 1522.6 L421.6 1523.1 L422.9 1520.6 L424.1 1521.9 L425.4 1521.9 L426.6 1522.8 L427.9 1522.7 L429.1 1519.9 L430.4 1524.4 L431.6 1523.4 L432.9 1521.3 L434.1 1523.8 L435.4 1521.7 L436.6 1521 L437.9 1519.7 L439.1 1517.5 L440.4 1522.1 L441.6 1523.3 L442.9 1522.3 L444.1 1522.2 L445.4 1524.2 L446.6 1516.9 L447.9 1522 L449.1 1524 L450.4 1520.4 L451.6 1523.6 L452.9 1519.9 L454.1 1519.4 L455.4 1514.1 L456.6 1518 L457.9 1521.3 L459.1 1520.8 L460.4 1520.1 L461.6 1520.8 L462.9 1519.2 L464.1 1516.6 L465.4 1519.7 L466.6 1520 L467.9 1523.2 L469.1 1517.8 L470.4 1518 L471.6 1514.8 L472.9 1514.3 L474.1 1514.8 L475.4 1518.6 L476.6 1515.9 L477.9 1515.4 L479.1 1514 L480.4 1514.7 L481.6 1515.2 L482.9 1514.3 L484.1 1512.8 L485.4 1512.7 L486.6 1512.6 L487.9 1511.5 L489.1 1511.6 L490.4 1510.1 L491.6 1507.9 L492.9 1509.8 L494.1 1509.2 L495.4 1508.6 L496.6 1507.9 L497.9 1506.8 L499.1 1510.4 L500.4 1507.9 L501.6 1509.2 L502.9 1508.8 L504.1 1507.9 L505.4 1511.3 L506.6 1508 L507.9 1510.8 L509.1 1510.4 L510.4 1511.4 L511.6 1509.9 L511.6 1570.5 L510.4 1572.5 L509.1 1571.8 L507.9 1570.6 L506.6 1569.5 L505.4 1574.3 L504.1 1574.9 L502.9 1576.7 L501.6 1573.8 L500.4 1572.7 L499.1 1575.6 L497.9 1574 L496.6 1570.8 L495.4 1570.1 L494.1 1574.4 L492.9 1572.3 L491.6 1574.5 L490.4 1575.6 L489.1 1571.9 L487.9 1573.7 L486.6 1572.2 L485.4 1573.8 L484.1 1570.7 L482.9 1574.7 L481.6 1574.7 L480.4 1573.5 L479.1 1575.1 L477.9 1574.5 L476.6 1576 L475.4 1576.2 L474.1 1575.2 L472.9 1577.2 L471.6 1575.7 L470.4 1573.8 L469.1 1575.9 L467.9 1574.2 L466.6 1577.4 L465.4 1574.5 L464.1 1575.1 L462.9 1577.7 L461.6 1574.9 L460.4 1576.9 L459.1 1581.6 L457.9 1573.1 L456.6 1576.6 L455.4 1575.5 L454.1 1579.7 L452.9 1574.7 L451.6 1577 L450.4 1576 L449.1 1577.2 L447.9 1576.1 L446.6 1574.8 L445.4 1575.7 L444.1 1575.6 L442.9 1579 L441.6 1577 L440.4 1574.7 L439.1 1577.4 L437.9 1578.1 L436.6 1578.7 L435.4 1579.2 L434.1 1578.7 L432.9 1577.2 L431.6 1575.2 L430.4 1578.4 L429.1 1580.1 L427.9 1578.8 L426.6 1577.4 L425.4 1575.3 L424.1 1578.9 L422.9 1577.8 L421.6 1577.8 L420.4 1577.1 L419.1 1571.9 L417.9 1576.8 L416.6 1573.9 L415.4 1575 L414.1 1578.3 L412.9 1573.8 L411.6 1575.4 L410.4 1572.9 L409.1 1574.2 L407.9 1576.2 L406.6 1572.4 L405.4 1574.1 L404.1 1575.6 L402.9 1574.4 L401.6 1571.8 L400.4 1572.1 L399.1 1573.2 L397.9 1570.6 L396.6 1569 L395.4 1570 L394.1 1569.7 L392.9 1569.7 L391.6 1568.9 L390.4 1570 L389.1 1569.6 L387.9 1569.4 L386.6 1570 L385.4 1573.2 L384.1 1570.5 L382.9 1571.3 L381.6 1571.9 L380.4 1571.6 L379.1 1577.3 L377.9 1577.6 L376.6 1575.5 L375.4 1577.1 L374.1 1579.6 L372.9 1579.4 L371.6 1579.3 L370.4 1581.4 L369.1 1578.8 L367.9 1581.3 L366.6 1581 L365.4 1578.3 L364.1 1581.1 L362.9 1581.8 L361.6 1579.2 L360.4 1580 L359.1 1582.1 L357.9 1581.5 L356.6 1586.4 L355.4 1583.6 L354.1 1585 L352.9 1582.9 L351.6 1586.9 L350.4 1585.6 L349.1 1587.9 L347.9 1585.5 L346.6 1584.3 L345.4 1584.4 L344.1 1587.1 L342.9 1584.6 L341.6 1585.3 L340.4 1584 L339.1 1582.1 L337.9 1582.6 L336.6 1584.8 L335.4 1585.2 L334.1 1582.3 L332.9 1586.3 L331.6 1584.2 L330.4 1580.4 L329.1 1578.5 L327.9 1576.8 L326.6 1578.2 L325.4 1577.4 L324.1 1575.8 L322.9 1574.3 L321.6 1572.6 L320.4 1569.9 L319.1 1567.4 L317.9 1566.1 L316.6 1569.5 L315.4 1568.7 L314.1 1562.5 L312.9 1563.8 L311.6 1560.4 L310.4 1559.3 L309.1 1556.3 L307.9 1560.2 L306.6 1554.6 L305.4 1552.7 L304.1 1552.7 L302.9 1549.4 L301.6 1551.4 L300.4 1544.9 L299.1 1547.5 L297.9 1543.3 L296.6 1539.5 L295.4 1541.4 L294.1 1541.7 L292.9 1540.2 L291.6 1534.9 L290.4 1539.1 L289.1 1533.4 L287.9 1529.4 L286.6 1528.4 L285.4 1524.7 L284.1 1522.1 L282.9 1520 L281.6 1519 L280.4 1521.5 L279.1 1517 L277.9 1513.8 L276.6 1514.1 L275.4 1512.3 L274.1 1515.9 L272.9 1513.2 L271.6 1511.2 L270.4 1513.9 L269.1 1515.2 L267.9 1509.3 L266.6 1510.1 L265.4 1513 L264.1 1508.7 L262.9 1509.2 L261.6 1509.7 L260.4 1513.3 L259.1 1510.5 L257.9 1510.6 L256.6 1508.2 L255.4 1513 L254.2 1512.2 L252.9 1511.5 L251.7 1511.1 L250.4 1514.3 L249.2 1516.8 L247.9 1513.3 L246.7 1515.8 L245.4 1517.9 L244.2 1519.9 L242.9 1517.6 L241.7 1520.3 L240.4 1519.6 L239.2 1523.4 L237.9 1524.1 L236.7 1524.5 L235.4 1524.2 L234.2 1524.8 L232.9 1527.6 L231.7 1526.5 L230.4 1528.7 L229.2 1530.6 L227.9 1534.2 L226.7 1532.1 L225.4 1531.9 L224.2 1534.6 L222.9 1536.2 L221.7 1536.7 L220.4 1538.9 L219.2 1542.4 L217.9 1541.7 L216.7 1541.7 L215.4 1541.2 L214.2 1544.3 L212.9 1545.4 L211.7 1549.1 L210.4 1549.2 L209.2 1550.9 L207.9 1548.8 L206.7 1552.5 L205.4 1552.7 L204.2 1557.1 L202.9 1558.7 L201.7 1561.8 L200.4 1560.7 L199.2 1558.6 L197.9 1562.7 L196.7 1560.2 L195.4 1559.7 L194.2 1558.9 L192.9 1563.3 L191.7 1559.8 L190.4 1563.2 L189.2 1563.4 L187.9 1565.7 L186.7 1566.7 L185.4 1569.5 L184.2 1564.6 L182.9 1564.3 L181.7 1569.6 L180.4 1566.5 L179.2 1568.6 L177.9 1568.3 L176.7 1566.1 L175.4 1569.1 L174.2 1565.3 L172.9 1568.5 L171.7 1565.7 L170.4 1566.2 L169.2 1566.9 L167.9 1567.8 L166.7 1568.1 L165.4 1563.2 L164.2 1570.2 L162.9 1566.6 L161.7 1565.5 L160.4 1569 L159.2 1568.7 L157.9 1567.4 L156.7 1567.3 L155.4 1567.1 L154.2 1564.2 L152.9 1564.9 L151.7 1567.4 L150.4 1565.6 L149.2 1571.8 L147.9 1568 L146.7 1565 L145.4 1565.2 L144.2 1563.4 L142.9 1567 L141.7 1562.2 L140.4 1566.5 L139.2 1566.7 L137.9 1566.7 L136.7 1562.8 L135.4 1565 L134.2 1565.3 L132.9 1564.4 L131.7 1564.6 L130.4 1565.2 L129.2 1563.9 L127.9 1562.7 L126.7 1562.7 L125.4 1564.9 L124.2 1564.1 L122.9 1563 L121.7 1565 L120.4 1563.8 L119.2 1566.2 L117.9 1565.7 L116.7 1567.1 L115.4 1562.7 L114.2 1567.5 L112.9 1569.3 L111.7 1568.1 L110.4 1569.3 L109.2 1570.4 L107.9 1567.6 L106.7 1571.2 L105.4 1569.1 L104.2 1572.4 L102.9 1573.6 L101.7 1570.8 L100.4 1573 L99.2 1577.1 L97.9 1572.3 L96.7 1574.3 L95.4 1576.7 L94.2 1578.2 L92.9 1578.1Z" fill="#c8199b" fill-opacity="0.2"/>
<path d="M201 1557.8H512" stroke="#1a1a1a" stroke-width="2.2" stroke-dasharray="5.4 6.2" fill="none"/>
<path d="M92.9 1564.7 L94.2 1563.1 L95.4 1562.6 L96.7 1561.2 L97.9 1560.5 L99.2 1559.1 L100.4 1558 L101.7 1558.8 L102.9 1558.7 L104.2 1558.1 L105.4 1557 L106.7 1556.2 L107.9 1555.1 L109.2 1556 L110.4 1557.2 L111.7 1558.6 L112.9 1557.4 L114.2 1557.2 L115.4 1557.4 L116.7 1557.5 L117.9 1557 L119.2 1555.2 L120.4 1555.3 L121.7 1556 L122.9 1557.4 L124.2 1557.8 L125.4 1557.2 L126.7 1556.3 L127.9 1555.1 L129.2 1554.3 L130.4 1554.6 L131.7 1555.1 L132.9 1556 L134.2 1555.3 L135.4 1556 L136.7 1554.7 L137.9 1555.5 L139.2 1555 L140.4 1556.5 L141.7 1556.4 L142.9 1556.4 L144.2 1556.1 L145.4 1556 L146.7 1556.8 L147.9 1556.5 L149.2 1556.9 L150.4 1556.9 L151.7 1557.3 L152.9 1557.2 L154.2 1557.3 L155.4 1557.6 L156.7 1557.6 L157.9 1557.9 L159.2 1557.2 L160.4 1558.2 L161.7 1557.9 L162.9 1558.3 L164.2 1557.2 L165.4 1557 L166.7 1555.7 L167.9 1555 L169.2 1555.3 L170.4 1556 L171.7 1557.2 L172.9 1556.9 L174.2 1556.8 L175.4 1557 L176.7 1555.7 L177.9 1556.1 L179.2 1555.3 L180.4 1554.8 L181.7 1555.6 L182.9 1554.8 L184.2 1555.3 L185.4 1554.9 L186.7 1555.1 L187.9 1555.8 L189.2 1554.9 L190.4 1555 L191.7 1553.8 L192.9 1553.3 L194.2 1552.8 L195.4 1552.8 L196.7 1551.7 L197.9 1551.5 L199.2 1550.4 L200.4 1550.1 L201.7 1547.8 L202.9 1545.4 L204.2 1544.6 L205.4 1542.4 L206.7 1541.9 L207.9 1538.6 L209.2 1536.8 L210.4 1533.5 L211.7 1530.6 L212.9 1529.1 L214.2 1526.7 L215.4 1525 L216.7 1521.6 L217.9 1519.2 L219.2 1515.8 L220.4 1512.5 L221.7 1510.3 L222.9 1508.4 L224.2 1506.7 L225.4 1502.9 L226.7 1499.1 L227.9 1495.4 L229.2 1493.6 L230.4 1491 L231.7 1488.4 L232.9 1485.4 L234.2 1483.1 L235.4 1480.9 L236.7 1478.5 L237.9 1475.1 L239.2 1473.4 L240.4 1469.9 L241.7 1467.3 L242.9 1464.5 L244.2 1461.9 L245.4 1460.5 L246.7 1457.3 L247.9 1457.2 L249.2 1456 L250.4 1456 L251.7 1453.6 L252.9 1451.1 L254.2 1449.9 L255.4 1449.4 L256.6 1448.7 L257.9 1446.3 L259.1 1443.7 L260.4 1441.2 L261.6 1439.2 L262.9 1437.4 L264.1 1437.9 L265.4 1438.1 L266.6 1439.9 L267.9 1442 L269.1 1443.8 L270.4 1444.4 L271.6 1444.3 L272.9 1446.5 L274.1 1447.1 L275.4 1448.9 L276.6 1449.8 L277.9 1455.5 L279.1 1458.5 L280.4 1462.8 L281.6 1465.8 L282.9 1470.1 L284.1 1472.1 L285.4 1474.4 L286.6 1477.5 L287.9 1482.1 L289.1 1484.7 L290.4 1487.6 L291.6 1491.1 L292.9 1494.6 L294.1 1497.3 L295.4 1499.6 L296.6 1502.4 L297.9 1505.8 L299.1 1508.4 L300.4 1509.1 L301.6 1510.6 L302.9 1510.8 L304.1 1513.8 L305.4 1517.3 L306.6 1520.3 L307.9 1522.5 L309.1 1522.3 L310.4 1523.9 L311.6 1526 L312.9 1528.8 L314.1 1530.9 L315.4 1533.5 L316.6 1533.4 L317.9 1535.1 L319.1 1534 L320.4 1537.1 L321.6 1538 L322.9 1539.9 L324.1 1540.5 L325.4 1541.3 L326.6 1543.5 L327.9 1543.8 L329.1 1545.9 L330.4 1547.1 L331.6 1548.7 L332.9 1548.8 L334.1 1549.6 L335.4 1551.3 L336.6 1552 L337.9 1552.2 L339.1 1550.6 L340.4 1550.4 L341.6 1550.7 L342.9 1552.2 L344.1 1552.5 L345.4 1552.8 L346.6 1554.4 L347.9 1556.2 L349.1 1555.2 L350.4 1554.7 L351.6 1553.7 L352.9 1555.6 L354.1 1555.5 L355.4 1556.3 L356.6 1556.1 L357.9 1556.2 L359.1 1555.5 L360.4 1554.4 L361.6 1555.1 L362.9 1555.4 L364.1 1556 L365.4 1555.8 L366.6 1556 L367.9 1556.5 L369.1 1555 L370.4 1555.5 L371.6 1554.7 L372.9 1555.4 L374.1 1555.6 L375.4 1555.5 L376.6 1554.6 L377.9 1553 L379.1 1552.2 L380.4 1552 L381.6 1550.9 L382.9 1550.5 L384.1 1550.4 L385.4 1549.4 L386.6 1548.8 L387.9 1547.2 L389.1 1547.7 L390.4 1546.8 L391.6 1547.7 L392.9 1547.6 L394.1 1547.8 L395.4 1547 L396.6 1547 L397.9 1548.2 L399.1 1549.1 L400.4 1550.3 L401.6 1549.8 L402.9 1549.7 L404.1 1549.5 L405.4 1551.5 L406.6 1551.8 L407.9 1552.3 L409.1 1551.6 L410.4 1550.7 L411.6 1549.8 L412.9 1549.2 L414.1 1550.2 L415.4 1550.9 L416.6 1551.1 L417.9 1550.5 L419.1 1549.5 L420.4 1548.6 L421.6 1547.3 L422.9 1546.6 L424.1 1547.1 L425.4 1548.8 L426.6 1549.1 L427.9 1548.8 L429.1 1548.9 L430.4 1549.6 L431.6 1550.7 L432.9 1550.8 L434.1 1549.7 L435.4 1549.5 L436.6 1550.2 L437.9 1552.7 L439.1 1552.6 L440.4 1552 L441.6 1551.9 L442.9 1551.9 L444.1 1551.7 L445.4 1551.2 L446.6 1550.4 L447.9 1550.7 L449.1 1549.3 L450.4 1549.7 L451.6 1550.7 L452.9 1550.8 L454.1 1550.2 L455.4 1548.5 L456.6 1549 L457.9 1548.2 L459.1 1547.5 L460.4 1546.6 L461.6 1546.8 L462.9 1546.2 L464.1 1546.8 L465.4 1547.4 L466.6 1549.1 L467.9 1548.4 L469.1 1547 L470.4 1545 L471.6 1544.1 L472.9 1543.4 L474.1 1543.5 L475.4 1544 L476.6 1544.7 L477.9 1544.7 L479.1 1543.6 L480.4 1544.2 L481.6 1544.2 L482.9 1544.8 L484.1 1545.8 L485.4 1545.1 L486.6 1545.1 L487.9 1543.3 L489.1 1543.1 L490.4 1542.2 L491.6 1541.1 L492.9 1540.8 L494.1 1541.3 L495.4 1541.3 L496.6 1540.4 L497.9 1540.6 L499.1 1541.2 L500.4 1542.1 L501.6 1541.1 L502.9 1541.4 L504.1 1541.7 L505.4 1542.3 L506.6 1542.8 L507.9 1543.2 L509.1 1543.6 L510.4 1543.1 L511.6 1543.4" fill="none" stroke="#c81e9b" stroke-width="5.2" stroke-linejoin="round" stroke-linecap="round"/>
<path d="M199.8 1185.5V1426" stroke="#1a1a1a" stroke-width="2.3" stroke-dasharray="2.3 7.2" fill="none"/>
<path d="M169.3 1185V1247.5" stroke="#2b2a29" stroke-width="2.3" fill="none"/>
<path d="M158.3 1246L180.3 1246L169.3 1265.5Z" fill="#2b2a29"/>
<path d="M199.8 1433V1497.5" stroke="#2b2a29" stroke-width="2.3" fill="none"/>
<path d="M188.8 1496L210.8 1496L199.8 1515.5Z" fill="#2b2a29"/>
<g stroke="#262626" stroke-width="2.2" fill="none">
<path d="M83.7 1131.1V1336.7M83.7 1132.2h7.8M83.7 1200.4h7.8M83.7 1268.5h7.8M83.7 1336.7h7.8M83.7 1361.3V1621.9H519.6M83.7 1362.4h7.8M83.7 1427.2h7.8M83.7 1492h7.8M83.7 1556.9h7.8M156.9 1621.9v-8.5M230.1 1621.9v-8.5M303.3 1621.9v-8.5M376.5 1621.9v-8.5M449.7 1621.9v-8.5M518.5 1621.9v-8.5"/>
</g>
<text font-size="25" text-anchor="end" transform="translate(76.4 1141.2) scale(1 1.04)">3.5</text>
<text font-size="25" text-anchor="end" transform="translate(77.7 1209.4) scale(1 1.04)">3</text>
<text font-size="25" text-anchor="end" transform="translate(76.4 1277.5) scale(1 1.04)">2.5</text>
<text font-size="25" text-anchor="end" transform="translate(77.7 1345.7) scale(1 1.04)">2</text>
<text font-size="25" text-anchor="end" transform="translate(74 1370.4) scale(1 1.04)">15</text>
<text font-size="25" text-anchor="end" transform="translate(74 1439) scale(1 1.04)">10</text>
<text font-size="25" text-anchor="end" transform="translate(74 1504.9) scale(1 1.04)">5</text>
<text font-size="25" text-anchor="end" transform="translate(74 1567.8) scale(1 1.04)">0</text>
<text font-size="25" text-anchor="end" transform="translate(74 1631.4) scale(1 1.04)">-5</text>
<text font-size="25" text-anchor="middle" transform="translate(80.6 1652.8) scale(1 1.04)">0</text>
<text font-size="25" text-anchor="middle" transform="translate(158.4 1652.8) scale(1 1.04)">10</text>
<text font-size="25" text-anchor="middle" transform="translate(230.2 1652.8) scale(1 1.04)">20</text>
<text font-size="25" text-anchor="middle" transform="translate(303.2 1652.8) scale(1 1.04)">30</text>
<text font-size="25" text-anchor="middle" transform="translate(377.4 1652.8) scale(1 1.04)">40</text>
<text font-size="25" text-anchor="middle" transform="translate(452 1652.8) scale(1 1.04)">50</text>
<text font-size="25" text-anchor="middle" transform="translate(518 1652.8) scale(1 1.04)">60</text>
<text font-size="25.4" transform="translate(257.2 1689.3) scale(1 1.04)">Time (s)</text>
<text font-size="25.1" text-anchor="middle" transform="translate(27.7 1232.5) rotate(-90) scale(1 1.04)">Respiratory rate (Hz)</text>
<text font-size="24.8" text-anchor="middle" transform="translate(25.7 1508) rotate(-90) scale(1 1.04)">Diameter (z score)</text>
<rect x="599.7" y="1441.7" width="46.6" height="49.8" fill="#fff" stroke="#3a3a3a" stroke-width="1"/>
<rect x="669.8" y="1317.7" width="46.3" height="173.8" fill="#a0a0a3" stroke="#2a2a2a" stroke-width="1"/>
<path d="M622.7 1380.5L692.9 1284.4M622.7 1401.2L692.9 1349.2M622.7 1422.5L692.9 1308.7M622.7 1437.3L692.9 1288.3M622.7 1441.5L692.9 1293.9M622.7 1446.8L692.9 1299.2M622.7 1451L692.9 1315.4M622.7 1454.9L692.9 1321M622.7 1459.1L692.9 1327.7M622.7 1474.7L692.9 1335.8M622.7 1454.9L692.9 1398.1M622.7 1437.3L692.9 1342.5" stroke="#000" stroke-width="1.6" fill="none"/>
<circle cx="622.7" cy="1380.5" r="4.8" fill="#000"/>
<circle cx="622.7" cy="1401.2" r="4.8" fill="#000"/>
<circle cx="622.7" cy="1422.5" r="4.8" fill="#000"/>
<circle cx="622.7" cy="1437.3" r="4.8" fill="#000"/>
<circle cx="622.7" cy="1441.5" r="4.8" fill="#000"/>
<circle cx="622.7" cy="1446.8" r="4.8" fill="#000"/>
<circle cx="622.7" cy="1451" r="4.8" fill="#000"/>
<circle cx="622.7" cy="1454.9" r="4.8" fill="#000"/>
<circle cx="622.7" cy="1459.1" r="4.8" fill="#000"/>
<circle cx="622.7" cy="1474.7" r="4.8" fill="#000"/>
<circle cx="692.9" cy="1284.4" r="4.8" fill="#000"/>
<circle cx="692.9" cy="1288.3" r="4.8" fill="#000"/>
<circle cx="692.9" cy="1293.9" r="4.8" fill="#000"/>
<circle cx="692.9" cy="1299.2" r="4.8" fill="#000"/>
<circle cx="692.9" cy="1308.7" r="4.8" fill="#000"/>
<circle cx="692.9" cy="1315.4" r="4.8" fill="#000"/>
<circle cx="692.9" cy="1321" r="4.8" fill="#000"/>
<circle cx="692.9" cy="1327.7" r="4.8" fill="#000"/>
<circle cx="692.9" cy="1335.8" r="4.8" fill="#000"/>
<circle cx="692.9" cy="1342.5" r="4.8" fill="#000"/>
<circle cx="692.9" cy="1349.2" r="4.8" fill="#000"/>
<circle cx="692.9" cy="1398.1" r="4.8" fill="#000"/>
<g stroke="#111" stroke-width="2.7" fill="none">
<path d="M588 1210.8V1492H730M588 1435.6h8M588 1379.7h8M588 1323.8h8M588 1267.9h8M588 1212h8"/>
</g>
<text font-size="24.2" text-anchor="end" transform="translate(582 1499.4) scale(1 1.04)" style="fill:#1a1a1a">0</text>
<text font-size="24.2" text-anchor="end" transform="translate(582 1443.5) scale(1 1.04)" style="fill:#1a1a1a">2</text>
<text font-size="24.2" text-anchor="end" transform="translate(582 1387.6) scale(1 1.04)" style="fill:#1a1a1a">4</text>
<text font-size="24.2" text-anchor="end" transform="translate(582 1331.7) scale(1 1.04)" style="fill:#1a1a1a">6</text>
<text font-size="24.2" text-anchor="end" transform="translate(582 1275.8) scale(1 1.04)" style="fill:#1a1a1a">8</text>
<text font-size="24.2" text-anchor="end" transform="translate(582 1219.9) scale(1 1.04)" style="fill:#1a1a1a">10</text>
<text font-size="25" text-anchor="middle" transform="translate(552 1352.8) rotate(-90) scale(1 1.04)" style="fill:#1a1a1a">Delay from CO<tspan font-size="14" dy="5">2</tspan><tspan dy="-5"> stim. (s)</tspan></text>
<text font-size="30.5" text-anchor="middle" transform="translate(657 1253.2) scale(1 1.04)" style="fill:#000">****</text>
<text font-size="25" text-anchor="end" transform="translate(621.5 1502.5) rotate(-45) scale(1 1.04)"><tspan x="-3" y="0">Hyper-</tspan><tspan x="16.6" y="28.8">ventilation</tspan></text>
<text font-size="25" text-anchor="end" transform="translate(704.5 1507) rotate(-45) scale(1 1.04)"><tspan x="0" y="0">Dilation</tspan></text>
</g>
<g id="panel-d">
<text font-size="57" transform="translate(736 815) scale(1 1.04)">d</text>
<text font-size="42" text-anchor="middle" transform="translate(1121.5 848.9) scale(1 0.985)" font-weight="bold" font-style="italic" style="fill:#8c8c8c">Penetrating arteriole</text>
<defs>
<radialGradient id="dG1" cx="0.5" cy="0.5" r="0.5">
<stop offset="0" stop-color="#ac0404"/><stop offset="0.3" stop-color="#c00606"/><stop offset="0.45" stop-color="#d60808"/><stop offset="0.5" stop-color="#900404"/><stop offset="0.58" stop-color="#4c0101" stop-opacity="0.9"/><stop offset="0.75" stop-color="#2a0000" stop-opacity="0.5"/><stop offset="1" stop-color="#1a0000" stop-opacity="0"/>
</radialGradient>
<radialGradient id="dG2" cx="0.3" cy="0.75" r="0.6"><stop offset="0" stop-color="#ff1a1a" stop-opacity="0.35"/><stop offset="1" stop-color="#ff0000" stop-opacity="0"/></radialGradient>
<filter id="dSpeck" x="0" y="0" width="100%" height="100%" color-interpolation-filters="sRGB"><feTurbulence type="fractalNoise" baseFrequency="0.5 0.5" numOctaves="1" seed="5"/><feColorMatrix type="matrix" values="0 0 0 0 0  0 0 0 0 0  0 0 0 0 0  0.6 0 0 0 -0.22"/></filter>
<clipPath id="dClip1"><rect x="969" y="915.5" width="139.8" height="113.3"/></clipPath>
<clipPath id="dClip2"><rect x="1133.2" y="915.5" width="138.8" height="113.3"/></clipPath>
</defs>
<g clip-path="url(#dClip1)">
<rect x="969" y="915.5" width="139.8" height="113.3" fill="#120000"/>
<circle cx="1031.2" cy="967.6" r="54.2" fill="url(#dG1)"/>
<circle cx="1031.2" cy="967.6" r="25.8" fill="url(#dG2)"/>
<rect x="969" y="915.5" width="139.8" height="113.3" filter="url(#dSpeck)"/>
<circle cx="1031.2" cy="967.6" r="25.8" fill="none" stroke="#fff" stroke-width="3.6" stroke-dasharray="3.9 3.35"/>
<rect x="1058.8" y="996.3" width="42.6" height="3.6" fill="#fff"/>
<text font-size="24.5" text-anchor="end" transform="translate(1105.5 1021.5) scale(1 1.04)" style="fill:#fff">10 µm</text>
</g>
<g clip-path="url(#dClip2)">
<rect x="1133.2" y="915.5" width="138.8" height="113.3" fill="#120000"/>
<circle cx="1197.3" cy="965.7" r="64" fill="url(#dG1)"/>
<circle cx="1197.3" cy="965.7" r="30.5" fill="url(#dG2)"/>
<rect x="1133.2" y="915.5" width="138.8" height="113.3" filter="url(#dSpeck)"/>
<circle cx="1197.3" cy="965.7" r="30.5" fill="none" stroke="#fff" stroke-width="3.6" stroke-dasharray="3.9 3.35"/>
<rect x="1226.3" y="996.3" width="42.6" height="3.6" fill="#fff"/>
<text font-size="24.5" text-anchor="end" transform="translate(1269.3 1021.5) scale(1 1.04)" style="fill:#fff">10 µm</text>
</g>
<text font-size="29.5" text-anchor="middle" transform="translate(1036 904) scale(1 1.04)">Baseline</text>
<text font-size="29.5" transform="translate(1174.5 904.3) scale(1 1.04)">CO<tspan font-size="16" dy="6.5">2</tspan></text>
<rect x="905.3" y="1130.8" width="73.3" height="490" fill="#e2e2e2"/>
<text font-size="42" transform="translate(905 1121) scale(1 1.04)">CO<tspan font-size="22" dy="8">2</tspan></text>
<path d="M841 1238.8 L842.2 1245.1 L843.5 1242.7 L844.8 1243.8 L846 1244.7 L847.2 1243.7 L848.5 1247.4 L849.8 1243.6 L851 1242.8 L852.2 1242.9 L853.5 1244.9 L854.8 1240.2 L856 1242.1 L857.2 1240.8 L858.5 1239.7 L859.8 1239.4 L861 1241.9 L862.2 1243.8 L863.5 1240.8 L864.8 1243.9 L866 1236 L867.2 1241.4 L868.5 1239.5 L869.8 1242.5 L871 1242.2 L872.2 1241.5 L873.5 1242.8 L874.8 1234.2 L876 1244.2 L877.2 1241.1 L878.5 1239.3 L879.8 1240.1 L881 1240.4 L882.2 1233.9 L883.5 1232.9 L884.8 1243 L886 1240.9 L887.2 1235.9 L888.5 1244.1 L889.8 1241 L891 1238.3 L892.2 1241.1 L893.5 1238.2 L894.8 1241.4 L896 1240.4 L897.2 1241.2 L898.5 1237.5 L899.8 1235.8 L901 1239.4 L902.2 1240 L903.5 1238.6 L904.8 1237.5 L906 1237.1 L907.2 1236.5 L908.5 1232.5 L909.8 1233.2 L911 1234.4 L912.2 1235.2 L913.5 1233.3 L914.8 1231.6 L916 1231 L917.2 1231.7 L918.5 1231.5 L919.8 1226.6 L921 1232.4 L922.2 1228.4 L923.5 1226.9 L924.8 1224.2 L926 1224.1 L927.2 1225.2 L928.5 1224.9 L929.8 1220.3 L931 1221.5 L932.2 1222.3 L933.5 1220.4 L934.8 1225 L936 1223.2 L937.2 1219.9 L938.5 1217.5 L939.8 1220 L941 1218.5 L942.2 1217.7 L943.5 1210.8 L944.8 1218.3 L946 1216.3 L947.2 1217.6 L948.5 1216.2 L949.8 1213.2 L951 1213.4 L952.2 1211.2 L953.5 1211.8 L954.8 1209.2 L956 1211.4 L957.2 1205.9 L958.5 1209.7 L959.8 1208.5 L961 1209.4 L962.2 1205.9 L963.5 1207.4 L964.8 1207.7 L966 1205.9 L967.2 1205.9 L968.5 1205 L969.8 1203.9 L971 1198.6 L972.2 1200.8 L973.5 1202.7 L974.8 1201 L976 1201.9 L977.2 1195.6 L978.5 1197.5 L979.8 1194.7 L981 1187.7 L982.2 1191.4 L983.5 1194.7 L984.8 1194 L986 1197.8 L987.2 1200.2 L988.5 1198.8 L989.8 1202.1 L991 1202 L992.2 1205 L993.5 1198.9 L994.8 1203.1 L996 1198.5 L997.2 1204.4 L998.5 1205.9 L999.8 1203.6 L1001 1206.1 L1002.2 1208.3 L1003.5 1205.8 L1004.8 1209.3 L1006 1208.4 L1007.2 1206.5 L1008.5 1209.7 L1009.8 1209.1 L1011 1210.5 L1012.2 1208.7 L1013.5 1211.3 L1014.8 1215.5 L1016 1215.8 L1017.2 1211.3 L1018.5 1213.1 L1019.8 1213 L1021 1211.9 L1022.2 1212.3 L1023.5 1215.2 L1024.8 1218.2 L1026 1218.1 L1027.2 1219.1 L1028.5 1215.4 L1029.8 1216.3 L1031 1217.3 L1032.2 1215.1 L1033.5 1217.4 L1034.8 1218.8 L1036 1220.3 L1037.2 1212.9 L1038.5 1217.4 L1039.8 1218.4 L1041 1218.5 L1042.2 1216.2 L1043.5 1220.2 L1044.8 1218.7 L1046 1218.8 L1047.2 1218 L1048.5 1219.5 L1049.8 1214.5 L1051 1219.9 L1052.2 1222.5 L1053.5 1220.3 L1054.8 1221.4 L1056 1220.9 L1057.2 1218.6 L1058.5 1218.2 L1059.8 1222.8 L1061 1221 L1062.2 1222.3 L1063.5 1221.9 L1064.8 1221.2 L1066 1226.4 L1067.2 1229.2 L1068.5 1227.2 L1069.8 1223 L1071 1224.8 L1072.2 1226.7 L1073.5 1224.4 L1074.8 1226.5 L1076 1227.8 L1077.2 1231 L1078.5 1225.3 L1079.8 1228.7 L1081 1226.9 L1082.2 1225.1 L1083.5 1231 L1084.8 1226.8 L1086 1230 L1087.2 1232.4 L1088.5 1231.8 L1089.8 1231.4 L1091 1234.2 L1092.2 1231.9 L1093.5 1232 L1094.8 1235.9 L1096 1234.2 L1097.2 1233.1 L1098.5 1232.7 L1099.8 1234.2 L1101 1237.2 L1102.2 1234.5 L1103.5 1235.8 L1104.8 1238.2 L1106 1238.2 L1107.2 1233.3 L1108.5 1238 L1109.8 1231.4 L1111 1237 L1112.2 1233.6 L1113.5 1234.8 L1114.8 1235.1 L1116 1228.8 L1117.2 1236.2 L1118.5 1235.5 L1119.8 1239.6 L1121 1236 L1122.2 1234.6 L1123.5 1236.8 L1124.8 1235.3 L1126 1236.7 L1127.2 1235.9 L1128.5 1236.9 L1129.8 1237.5 L1131 1238.5 L1132.2 1239.4 L1133.5 1238.3 L1134.8 1229.6 L1136 1236.2 L1137.2 1235.3 L1138.5 1239.9 L1139.8 1236.6 L1141 1236.8 L1142.2 1237.8 L1143.5 1239 L1144.8 1240.4 L1146 1238.7 L1147.2 1235.6 L1148.5 1238.8 L1149.8 1232.8 L1151 1236.9 L1152.2 1239.8 L1153.5 1237.8 L1154.8 1238.1 L1156 1239.6 L1157.2 1239.1 L1158.5 1239.3 L1159.8 1238.8 L1161 1237.4 L1162.2 1237.5 L1163.5 1238.3 L1164.8 1238.6 L1166 1240.4 L1167.2 1236.3 L1168.5 1236.2 L1169.8 1233.5 L1171 1241.1 L1172.2 1240.4 L1173.5 1238 L1174.8 1238.4 L1176 1239.1 L1177.2 1237.9 L1178.5 1239.9 L1179.8 1241.2 L1181 1237.9 L1182.2 1233.3 L1183.5 1238.5 L1184.8 1242.8 L1186 1231.7 L1187.2 1239.6 L1188.5 1233.1 L1189.8 1240.9 L1191 1239.8 L1192.2 1241.8 L1193.5 1240.4 L1194.8 1242.4 L1196 1239 L1197.2 1240.6 L1198.5 1243.7 L1199.8 1236.5 L1201 1244.6 L1202.2 1240.4 L1203.5 1247.3 L1204.8 1242.6 L1206 1246.6 L1207.2 1243.7 L1208.5 1240.6 L1209.8 1243.7 L1211 1242.3 L1212.2 1243.5 L1213.5 1239.6 L1214.8 1243.1 L1216 1242.6 L1217.2 1238.7 L1218.5 1243.6 L1219.8 1241.5 L1221 1241.5 L1222.2 1240.5 L1223.5 1243.6 L1224.8 1242.2 L1226 1239.5 L1227.2 1240.9 L1228.5 1243.1 L1229.8 1242.7 L1231 1238.9 L1232.2 1238.7 L1233.5 1242.8 L1234.8 1242.7 L1236 1244.2 L1237.2 1242.5 L1238.5 1245.5 L1239.8 1242.3 L1241 1243.8 L1242.2 1239.1 L1243.5 1240.4 L1244.8 1242.1 L1246 1245.1 L1247.2 1242.3 L1248.5 1242 L1249.8 1245.9 L1251 1245.4 L1252.2 1243.4 L1253.5 1241.9 L1254.8 1244.1 L1256 1235.3 L1257.2 1245.8 L1258.5 1240.8 L1259.8 1240.7 L1261 1240 L1262.2 1242.4 L1263.5 1244.8 L1263.5 1342.1 L1262.2 1346.6 L1261 1339 L1259.8 1344.2 L1258.5 1342.1 L1257.2 1349 L1256 1344.1 L1254.8 1342.4 L1253.5 1345.6 L1252.2 1344 L1251 1340.3 L1249.8 1341 L1248.5 1337.1 L1247.2 1339.8 L1246 1341.7 L1244.8 1339.4 L1243.5 1344.9 L1242.2 1342.2 L1241 1346.8 L1239.8 1343.7 L1238.5 1341.2 L1237.2 1341.6 L1236 1340.5 L1234.8 1339.4 L1233.5 1343.3 L1232.2 1341.3 L1231 1340 L1229.8 1343.1 L1228.5 1339.1 L1227.2 1343.6 L1226 1340.9 L1224.8 1342.7 L1223.5 1344.7 L1222.2 1343.6 L1221 1341.2 L1219.8 1342.7 L1218.5 1340 L1217.2 1343.8 L1216 1344 L1214.8 1342.2 L1213.5 1341.2 L1212.2 1341.8 L1211 1344.1 L1209.8 1340.5 L1208.5 1348.4 L1207.2 1342.3 L1206 1340.4 L1204.8 1346.4 L1203.5 1344.4 L1202.2 1340.8 L1201 1342.4 L1199.8 1343.9 L1198.5 1341.6 L1197.2 1341.1 L1196 1343.6 L1194.8 1343.4 L1193.5 1342.7 L1192.2 1341.5 L1191 1341.1 L1189.8 1339.8 L1188.5 1340.7 L1187.2 1338.3 L1186 1340.9 L1184.8 1341.7 L1183.5 1341.5 L1182.2 1341.4 L1181 1338.9 L1179.8 1341.1 L1178.5 1340.2 L1177.2 1341.3 L1176 1339.9 L1174.8 1340.1 L1173.5 1341.5 L1172.2 1340.6 L1171 1342.4 L1169.8 1340.4 L1168.5 1342.8 L1167.2 1337.7 L1166 1342.3 L1164.8 1337.9 L1163.5 1339.5 L1162.2 1337.5 L1161 1342.7 L1159.8 1341 L1158.5 1338.1 L1157.2 1337.9 L1156 1339.6 L1154.8 1341.4 L1153.5 1336 L1152.2 1339.9 L1151 1342.5 L1149.8 1337.7 L1148.5 1340.3 L1147.2 1340.3 L1146 1337.9 L1144.8 1339.1 L1143.5 1345.6 L1142.2 1337.5 L1141 1338.4 L1139.8 1340.4 L1138.5 1338.2 L1137.2 1344.3 L1136 1337.3 L1134.8 1340.3 L1133.5 1335.9 L1132.2 1337.5 L1131 1336.6 L1129.8 1338.8 L1128.5 1338 L1127.2 1346.8 L1126 1335.6 L1124.8 1335.4 L1123.5 1337 L1122.2 1339.6 L1121 1336.8 L1119.8 1335.9 L1118.5 1336.7 L1117.2 1335.3 L1116 1339.5 L1114.8 1338.3 L1113.5 1341.5 L1112.2 1333.4 L1111 1335.5 L1109.8 1335.8 L1108.5 1333.7 L1107.2 1333.3 L1106 1335.5 L1104.8 1334.1 L1103.5 1335.3 L1102.2 1334.2 L1101 1332.4 L1099.8 1332.4 L1098.5 1331.5 L1097.2 1335.9 L1096 1336.2 L1094.8 1333.2 L1093.5 1335.2 L1092.2 1340.6 L1091 1329.4 L1089.8 1332.9 L1088.5 1327 L1087.2 1327.8 L1086 1329.7 L1084.8 1332.5 L1083.5 1332.2 L1082.2 1329.8 L1081 1328.5 L1079.8 1331.5 L1078.5 1327.2 L1077.2 1328.6 L1076 1326.4 L1074.8 1326.8 L1073.5 1327.8 L1072.2 1325.5 L1071 1327.4 L1069.8 1323.4 L1068.5 1326.3 L1067.2 1327.6 L1066 1325.4 L1064.8 1325.2 L1063.5 1328.4 L1062.2 1326.1 L1061 1333.5 L1059.8 1324.4 L1058.5 1328.4 L1057.2 1324.6 L1056 1320.8 L1054.8 1325 L1053.5 1324.6 L1052.2 1329.7 L1051 1320.8 L1049.8 1318.8 L1048.5 1320.6 L1047.2 1323.5 L1046 1321.6 L1044.8 1318.4 L1043.5 1316.6 L1042.2 1314.7 L1041 1317 L1039.8 1317.1 L1038.5 1320.6 L1037.2 1311.7 L1036 1315.3 L1034.8 1314.8 L1033.5 1313.1 L1032.2 1311 L1031 1310.4 L1029.8 1310.5 L1028.5 1311.2 L1027.2 1310.4 L1026 1308.7 L1024.8 1307.3 L1023.5 1308.8 L1022.2 1305.4 L1021 1304 L1019.8 1310 L1018.5 1303.7 L1017.2 1302.2 L1016 1302.2 L1014.8 1300.8 L1013.5 1300.1 L1012.2 1303.1 L1011 1300.2 L1009.8 1301.6 L1008.5 1297.8 L1007.2 1297.4 L1006 1302.5 L1004.8 1298.1 L1003.5 1296 L1002.2 1296.9 L1001 1297.6 L999.8 1290.5 L998.5 1289.6 L997.2 1286.1 L996 1288.7 L994.8 1288.9 L993.5 1283.7 L992.2 1280.8 L991 1279.5 L989.8 1281.9 L988.5 1279.3 L987.2 1276 L986 1274.2 L984.8 1271.9 L983.5 1273.1 L982.2 1269.9 L981 1272.9 L979.8 1278 L978.5 1277.5 L977.2 1274.4 L976 1281.4 L974.8 1277 L973.5 1282.9 L972.2 1281.7 L971 1282.9 L969.8 1287.4 L968.5 1285.3 L967.2 1286.6 L966 1285.2 L964.8 1288.7 L963.5 1290.6 L962.2 1292.5 L961 1292 L959.8 1292.6 L958.5 1292 L957.2 1291.6 L956 1291.1 L954.8 1296.7 L953.5 1298.6 L952.2 1300.2 L951 1297.2 L949.8 1299.1 L948.5 1299.8 L947.2 1301.4 L946 1300.5 L944.8 1306.3 L943.5 1308.7 L942.2 1301.2 L941 1304.1 L939.8 1307.2 L938.5 1305.9 L937.2 1305.2 L936 1306.8 L934.8 1311.4 L933.5 1313 L932.2 1308.6 L931 1314.1 L929.8 1318.2 L928.5 1316.7 L927.2 1321.8 L926 1320.3 L924.8 1326 L923.5 1324.6 L922.2 1324.7 L921 1325.3 L919.8 1328.8 L918.5 1327.7 L917.2 1331.6 L916 1331.8 L914.8 1332.4 L913.5 1340.4 L912.2 1330.7 L911 1334.1 L909.8 1334.3 L908.5 1335.3 L907.2 1335.1 L906 1333.8 L904.8 1343.6 L903.5 1341.5 L902.2 1334.7 L901 1336.8 L899.8 1337 L898.5 1336.1 L897.2 1337.4 L896 1335.4 L894.8 1339.2 L893.5 1335.5 L892.2 1333.5 L891 1332.7 L889.8 1335.5 L888.5 1336.8 L887.2 1336.1 L886 1336.1 L884.8 1333.5 L883.5 1335.2 L882.2 1334.9 L881 1335.8 L879.8 1336 L878.5 1331.8 L877.2 1334.2 L876 1335.6 L874.8 1334.9 L873.5 1333.7 L872.2 1334.9 L871 1333.5 L869.8 1334.8 L868.5 1337.7 L867.2 1330.7 L866 1334.8 L864.8 1334.5 L863.5 1334.8 L862.2 1339.8 L861 1335.8 L859.8 1331.6 L858.5 1332.1 L857.2 1335.2 L856 1333.1 L854.8 1335.2 L853.5 1334.2 L852.2 1335.7 L851 1334.9 L849.8 1335.1 L848.5 1332.6 L847.2 1333.5 L846 1334.1 L844.8 1334 L843.5 1333.9 L842.2 1335.1 L841 1332.9Z" fill="#0000ff" fill-opacity="0.2"/>
<path d="M916 1289.5H1263" stroke="#1a1a1a" stroke-width="2.2" stroke-dasharray="5.4 6.2" fill="none"/>
<path d="M841 1286.8 L842.2 1288.6 L843.5 1290.4 L844.8 1290.9 L846 1290.9 L847.2 1290.4 L848.5 1289.7 L849.8 1289.3 L851 1289.2 L852.2 1291.8 L853.5 1292.1 L854.8 1291.2 L856 1288.2 L857.2 1287 L858.5 1286.8 L859.8 1287.4 L861 1288.4 L862.2 1288.8 L863.5 1288 L864.8 1287.8 L866 1290.2 L867.2 1291 L868.5 1292.8 L869.8 1291.2 L871 1291.4 L872.2 1289.6 L873.5 1289.1 L874.8 1289.2 L876 1288.6 L877.2 1288 L878.5 1288 L879.8 1287.4 L881 1287.2 L882.2 1288.3 L883.5 1289 L884.8 1288.5 L886 1287.1 L887.2 1286.6 L888.5 1288.1 L889.8 1288.1 L891 1288.2 L892.2 1287.2 L893.5 1287.9 L894.8 1290.1 L896 1290.8 L897.2 1289.1 L898.5 1286.7 L899.8 1287.8 L901 1289 L902.2 1290.8 L903.5 1291.2 L904.8 1291.3 L906 1290.8 L907.2 1289.2 L908.5 1288.7 L909.8 1287.7 L911 1287.8 L912.2 1288.5 L913.5 1287.6 L914.8 1287.2 L916 1285 L917.2 1284 L918.5 1282.2 L919.8 1280.3 L921 1279.3 L922.2 1278.2 L923.5 1277.3 L924.8 1276.9 L926 1274.7 L927.2 1275.6 L928.5 1274.6 L929.8 1277.2 L931 1277.1 L932.2 1276.8 L933.5 1274.6 L934.8 1272.5 L936 1270.5 L937.2 1269 L938.5 1266.7 L939.8 1265 L941 1262.8 L942.2 1263.1 L943.5 1261.8 L944.8 1260.3 L946 1258.8 L947.2 1259.1 L948.5 1259.7 L949.8 1257.9 L951 1257.6 L952.2 1256.2 L953.5 1255.6 L954.8 1254.9 L956 1253.7 L957.2 1254.1 L958.5 1252.6 L959.8 1252.8 L961 1250.3 L962.2 1250.1 L963.5 1249 L964.8 1248.7 L966 1248.1 L967.2 1246.4 L968.5 1245.2 L969.8 1243.5 L971 1243.2 L972.2 1242.6 L973.5 1242.1 L974.8 1241.8 L976 1241.1 L977.2 1238.3 L978.5 1237 L979.8 1235.4 L981 1234.4 L982.2 1232.7 L983.5 1231 L984.8 1232 L986 1233.7 L987.2 1236.5 L988.5 1238.3 L989.8 1238.3 L991 1239.4 L992.2 1240.5 L993.5 1242 L994.8 1242.7 L996 1243 L997.2 1244.3 L998.5 1247 L999.8 1248.2 L1001 1247.7 L1002.2 1247.6 L1003.5 1247.6 L1004.8 1247.8 L1006 1248.8 L1007.2 1251.8 L1008.5 1253.9 L1009.8 1254.3 L1011 1253.5 L1012.2 1255.7 L1013.5 1256.3 L1014.8 1256.5 L1016 1256.2 L1017.2 1257.5 L1018.5 1258.6 L1019.8 1258.8 L1021 1258.3 L1022.2 1259.8 L1023.5 1260.6 L1024.8 1262.1 L1026 1262 L1027.2 1263.4 L1028.5 1263.8 L1029.8 1263.7 L1031 1264.1 L1032.2 1263.4 L1033.5 1264.6 L1034.8 1265.3 L1036 1267 L1037.2 1266.1 L1038.5 1265.7 L1039.8 1265.7 L1041 1268 L1042.2 1268.3 L1043.5 1269.5 L1044.8 1269.2 L1046 1270.7 L1047.2 1269.7 L1048.5 1270.8 L1049.8 1268.7 L1051 1271.2 L1052.2 1270 L1053.5 1272 L1054.8 1271.3 L1056 1272.2 L1057.2 1271.7 L1058.5 1273.1 L1059.8 1274.2 L1061 1275.3 L1062.2 1274.4 L1063.5 1274.5 L1064.8 1274.6 L1066 1274.4 L1067.2 1274.6 L1068.5 1275.4 L1069.8 1275.6 L1071 1276.4 L1072.2 1277.1 L1073.5 1277.8 L1074.8 1277.6 L1076 1277.8 L1077.2 1276.6 L1078.5 1276.5 L1079.8 1275.5 L1081 1276.4 L1082.2 1275.7 L1083.5 1276.5 L1084.8 1277 L1086 1278.5 L1087.2 1281.2 L1088.5 1282 L1089.8 1282.3 L1091 1280.5 L1092.2 1280.6 L1093.5 1281.4 L1094.8 1281.9 L1096 1282.4 L1097.2 1281.9 L1098.5 1282.9 L1099.8 1282.1 L1101 1282.8 L1102.2 1283.5 L1103.5 1285 L1104.8 1283.7 L1106 1282.9 L1107.2 1284.1 L1108.5 1285.9 L1109.8 1285.3 L1111 1285.1 L1112.2 1283.6 L1113.5 1284.3 L1114.8 1283.1 L1116 1285.4 L1117.2 1285.8 L1118.5 1284.8 L1119.8 1284.6 L1121 1285.2 L1122.2 1287.6 L1123.5 1286.1 L1124.8 1286.6 L1126 1286.3 L1127.2 1286.6 L1128.5 1286 L1129.8 1286.3 L1131 1287.8 L1132.2 1287.7 L1133.5 1288 L1134.8 1287.5 L1136 1288 L1137.2 1288.8 L1138.5 1290.1 L1139.8 1289.2 L1141 1287.3 L1142.2 1286.8 L1143.5 1287.5 L1144.8 1288.4 L1146 1288.1 L1147.2 1288.3 L1148.5 1289.4 L1149.8 1288.8 L1151 1289.9 L1152.2 1289 L1153.5 1289.5 L1154.8 1288.5 L1156 1288.8 L1157.2 1287.7 L1158.5 1287.5 L1159.8 1288.3 L1161 1291 L1162.2 1291.7 L1163.5 1291.1 L1164.8 1289.3 L1166 1288.4 L1167.2 1288.9 L1168.5 1290.5 L1169.8 1291.4 L1171 1290.9 L1172.2 1289.3 L1173.5 1288.5 L1174.8 1289.4 L1176 1290.3 L1177.2 1291.8 L1178.5 1290.9 L1179.8 1291.9 L1181 1291.2 L1182.2 1291.4 L1183.5 1290.5 L1184.8 1291.5 L1186 1290.3 L1187.2 1290.1 L1188.5 1289.2 L1189.8 1290 L1191 1288.6 L1192.2 1289.3 L1193.5 1289.2 L1194.8 1290.4 L1196 1289 L1197.2 1290.1 L1198.5 1290 L1199.8 1290.6 L1201 1289.7 L1202.2 1291.4 L1203.5 1291.9 L1204.8 1293.9 L1206 1293.9 L1207.2 1294.7 L1208.5 1293.6 L1209.8 1294.4 L1211 1294.2 L1212.2 1295.3 L1213.5 1293.7 L1214.8 1293.3 L1216 1292.9 L1217.2 1293.3 L1218.5 1294.7 L1219.8 1295.7 L1221 1296.8 L1222.2 1296.2 L1223.5 1295.5 L1224.8 1295.2 L1226 1294 L1227.2 1295.4 L1228.5 1295.8 L1229.8 1296.7 L1231 1295.8 L1232.2 1295.5 L1233.5 1295 L1234.8 1294.1 L1236 1295 L1237.2 1295.8 L1238.5 1296.2 L1239.8 1294.6 L1241 1292.7 L1242.2 1293.4 L1243.5 1293.4 L1244.8 1294.5 L1246 1294 L1247.2 1295.3 L1248.5 1296.6 L1249.8 1296.1 L1251 1293.5 L1252.2 1291.1 L1253.5 1290.5 L1254.8 1289.5 L1256 1290.1 L1257.2 1290.6 L1258.5 1293.5 L1259.8 1293.9 L1261 1292.5 L1262.2 1292.2 L1263.5 1292.8" fill="none" stroke="#0404f6" stroke-width="5.2" stroke-linejoin="round" stroke-linecap="round"/>
<path d="M841 1553 L842.2 1550.2 L843.5 1550.7 L844.8 1552.1 L846 1546.6 L847.2 1552.2 L848.5 1551.5 L849.8 1551.3 L851 1549.1 L852.2 1552.7 L853.5 1551.5 L854.8 1548.8 L856 1551.6 L857.2 1551.6 L858.5 1548.1 L859.8 1551.5 L861 1548.7 L862.2 1549 L863.5 1551.6 L864.8 1547.2 L866 1551.5 L867.2 1547.2 L868.5 1549.1 L869.8 1547.5 L871 1549.1 L872.2 1548.7 L873.5 1548.1 L874.8 1547.2 L876 1550.8 L877.2 1550.5 L878.5 1548.7 L879.8 1552.2 L881 1552.2 L882.2 1551.4 L883.5 1547 L884.8 1550.6 L886 1549.9 L887.2 1549.6 L888.5 1550 L889.8 1546 L891 1547 L892.2 1551.2 L893.5 1546.3 L894.8 1548.8 L896 1546.1 L897.2 1544.1 L898.5 1547.4 L899.8 1541.5 L901 1542.6 L902.2 1542.9 L903.5 1540.8 L904.8 1543.9 L906 1539.3 L907.2 1542.8 L908.5 1542.2 L909.8 1543.4 L911 1542 L912.2 1543.4 L913.5 1544.3 L914.8 1541.5 L916 1545 L917.2 1538.1 L918.5 1543.7 L919.8 1544 L921 1539.5 L922.2 1545.2 L923.5 1547.4 L924.8 1542.7 L926 1546.4 L927.2 1542 L928.5 1542.9 L929.8 1539.7 L931 1541.1 L932.2 1538 L933.5 1536 L934.8 1538.6 L936 1537.3 L937.2 1532 L938.5 1537.1 L939.8 1531.9 L941 1529.4 L942.2 1529.9 L943.5 1528.4 L944.8 1524.9 L946 1527.5 L947.2 1525.7 L948.5 1520.8 L949.8 1515.1 L951 1516.5 L952.2 1515.5 L953.5 1513.5 L954.8 1509.6 L956 1508.6 L957.2 1508.6 L958.5 1503.4 L959.8 1500 L961 1501.8 L962.2 1498.6 L963.5 1497.1 L964.8 1496.7 L966 1498.4 L967.2 1490.9 L968.5 1493.5 L969.8 1490.9 L971 1490.3 L972.2 1490.8 L973.5 1486.8 L974.8 1486.7 L976 1487.1 L977.2 1487.6 L978.5 1480.2 L979.8 1485 L981 1485.4 L982.2 1486.8 L983.5 1480.4 L984.8 1483.9 L986 1481.5 L987.2 1480.8 L988.5 1481.3 L989.8 1479.2 L991 1477.1 L992.2 1479.3 L993.5 1482.5 L994.8 1476.8 L996 1480.3 L997.2 1478.4 L998.5 1472.2 L999.8 1477.1 L1001 1473 L1002.2 1475.1 L1003.5 1476.2 L1004.8 1474.8 L1006 1474.3 L1007.2 1473.4 L1008.5 1476.9 L1009.8 1472 L1011 1476.6 L1012.2 1479.7 L1013.5 1478.9 L1014.8 1478.1 L1016 1478.7 L1017.2 1481.7 L1018.5 1483 L1019.8 1481.4 L1021 1485 L1022.2 1482.2 L1023.5 1484.3 L1024.8 1485.2 L1026 1485.9 L1027.2 1491.3 L1028.5 1491.9 L1029.8 1494.2 L1031 1494.3 L1032.2 1494.8 L1033.5 1500.9 L1034.8 1505.3 L1036 1502.9 L1037.2 1503.7 L1038.5 1509.3 L1039.8 1510.2 L1041 1511.4 L1042.2 1510.3 L1043.5 1515.2 L1044.8 1516.4 L1046 1518.1 L1047.2 1518.6 L1048.5 1517.6 L1049.8 1522.5 L1051 1521.2 L1052.2 1523.5 L1053.5 1524.4 L1054.8 1525.3 L1056 1526.6 L1057.2 1531.7 L1058.5 1529.4 L1059.8 1531.7 L1061 1531.7 L1062.2 1532.8 L1063.5 1536.7 L1064.8 1536.3 L1066 1535.7 L1067.2 1535.2 L1068.5 1535.3 L1069.8 1535 L1071 1535.5 L1072.2 1532.2 L1073.5 1532.6 L1074.8 1537.4 L1076 1535 L1077.2 1535.1 L1078.5 1536.2 L1079.8 1536.6 L1081 1532.8 L1082.2 1535.2 L1083.5 1536 L1084.8 1534.9 L1086 1536.3 L1087.2 1536 L1088.5 1534.2 L1089.8 1536.5 L1091 1533.5 L1092.2 1533.1 L1093.5 1535.2 L1094.8 1536.1 L1096 1538.9 L1097.2 1534.8 L1098.5 1530.1 L1099.8 1536.7 L1101 1534.5 L1102.2 1535.5 L1103.5 1533.7 L1104.8 1534.7 L1106 1534.9 L1107.2 1533.9 L1108.5 1531.1 L1109.8 1533 L1111 1533.8 L1112.2 1533.9 L1113.5 1534.1 L1114.8 1534.6 L1116 1534.3 L1117.2 1531.9 L1118.5 1530.2 L1119.8 1531.5 L1121 1528.7 L1122.2 1533.4 L1123.5 1527.8 L1124.8 1529.8 L1126 1529.5 L1127.2 1530.2 L1128.5 1527.5 L1129.8 1529.7 L1131 1525 L1132.2 1527.3 L1133.5 1529.8 L1134.8 1528.1 L1136 1525.3 L1137.2 1528 L1138.5 1525.2 L1139.8 1526.1 L1141 1527.5 L1142.2 1525.8 L1143.5 1525.3 L1144.8 1526.3 L1146 1525.9 L1147.2 1526.4 L1148.5 1526.5 L1149.8 1528.4 L1151 1524.5 L1152.2 1527.8 L1153.5 1524.6 L1154.8 1523.2 L1156 1526.8 L1157.2 1524.2 L1158.5 1526.5 L1159.8 1526.9 L1161 1523.8 L1162.2 1520.9 L1163.5 1522 L1164.8 1525.1 L1166 1522.8 L1167.2 1522 L1168.5 1525.5 L1169.8 1523.3 L1171 1525.2 L1172.2 1524.5 L1173.5 1524 L1174.8 1523.3 L1176 1522.1 L1177.2 1526.6 L1178.5 1522.4 L1179.8 1521.3 L1181 1522.8 L1182.2 1521.8 L1183.5 1522.7 L1184.8 1522.6 L1186 1521.7 L1187.2 1524.8 L1188.5 1521.3 L1189.8 1521.9 L1191 1520 L1192.2 1520.6 L1193.5 1525 L1194.8 1522.6 L1196 1526.1 L1197.2 1524.3 L1198.5 1521 L1199.8 1524.5 L1201 1519.6 L1202.2 1524.4 L1203.5 1522.3 L1204.8 1523.8 L1206 1523.3 L1207.2 1526.1 L1208.5 1527.1 L1209.8 1526.8 L1211 1527.6 L1212.2 1527.5 L1213.5 1528.3 L1214.8 1527.6 L1216 1527.7 L1217.2 1525.7 L1218.5 1526.1 L1219.8 1523.4 L1221 1525.3 L1222.2 1524.8 L1223.5 1524.2 L1224.8 1527 L1226 1526.5 L1227.2 1523.5 L1228.5 1528.7 L1229.8 1527.8 L1231 1524.6 L1232.2 1521.8 L1233.5 1528.8 L1234.8 1525.9 L1236 1525.7 L1237.2 1523.2 L1238.5 1526.7 L1239.8 1525.4 L1241 1527.2 L1242.2 1531.6 L1243.5 1523.9 L1244.8 1526.1 L1246 1526.8 L1247.2 1526.9 L1248.5 1527.2 L1249.8 1527.8 L1251 1525.3 L1252.2 1526.7 L1253.5 1527.2 L1254.8 1525.4 L1256 1523.8 L1257.2 1527.4 L1258.5 1529.7 L1259.8 1526.1 L1261 1526.3 L1262.2 1525.6 L1263.5 1530.3 L1263.5 1581.4 L1262.2 1581.1 L1261 1579.1 L1259.8 1581.4 L1258.5 1580 L1257.2 1580.5 L1256 1579.9 L1254.8 1578.7 L1253.5 1580.6 L1252.2 1579.3 L1251 1579.6 L1249.8 1578.1 L1248.5 1580 L1247.2 1578.3 L1246 1580 L1244.8 1576.6 L1243.5 1576.7 L1242.2 1577.5 L1241 1579.2 L1239.8 1579.4 L1238.5 1578.6 L1237.2 1581.5 L1236 1577.6 L1234.8 1577.4 L1233.5 1577.1 L1232.2 1574.7 L1231 1579.1 L1229.8 1578.5 L1228.5 1576 L1227.2 1577.1 L1226 1578.6 L1224.8 1577.6 L1223.5 1579.1 L1222.2 1578.2 L1221 1579.4 L1219.8 1577.1 L1218.5 1579.5 L1217.2 1576.7 L1216 1580.7 L1214.8 1576.2 L1213.5 1575.1 L1212.2 1577.1 L1211 1576 L1209.8 1574 L1208.5 1573.5 L1207.2 1573.5 L1206 1578 L1204.8 1576.1 L1203.5 1573.4 L1202.2 1578.1 L1201 1573.3 L1199.8 1575 L1198.5 1575.8 L1197.2 1576.6 L1196 1576.6 L1194.8 1576.9 L1193.5 1580.1 L1192.2 1576.5 L1191 1577.9 L1189.8 1579 L1188.5 1576.1 L1187.2 1577.8 L1186 1575 L1184.8 1580.1 L1183.5 1577.4 L1182.2 1578 L1181 1577.6 L1179.8 1576.9 L1178.5 1576.8 L1177.2 1575.9 L1176 1578.8 L1174.8 1576.6 L1173.5 1579.7 L1172.2 1578.4 L1171 1577.1 L1169.8 1580.2 L1168.5 1577.8 L1167.2 1580.7 L1166 1578.8 L1164.8 1578.2 L1163.5 1577.3 L1162.2 1579.2 L1161 1579.2 L1159.8 1577 L1158.5 1579.4 L1157.2 1577.8 L1156 1580.7 L1154.8 1582.3 L1153.5 1578.9 L1152.2 1580.6 L1151 1583.5 L1149.8 1580.8 L1148.5 1578.4 L1147.2 1578.6 L1146 1580.2 L1144.8 1576.7 L1143.5 1577.7 L1142.2 1579.2 L1141 1579.1 L1139.8 1578.4 L1138.5 1579.5 L1137.2 1578.5 L1136 1579.2 L1134.8 1574.9 L1133.5 1576 L1132.2 1577.6 L1131 1578.2 L1129.8 1578.8 L1128.5 1575.7 L1127.2 1578.5 L1126 1579 L1124.8 1576.2 L1123.5 1574.4 L1122.2 1579.7 L1121 1578.5 L1119.8 1577.2 L1118.5 1574.6 L1117.2 1577.1 L1116 1573.6 L1114.8 1576.3 L1113.5 1577.1 L1112.2 1579.1 L1111 1573.3 L1109.8 1573.2 L1108.5 1575 L1107.2 1574.8 L1106 1575.4 L1104.8 1576.7 L1103.5 1574.9 L1102.2 1572.7 L1101 1571.9 L1099.8 1571.5 L1098.5 1570 L1097.2 1572.8 L1096 1574.4 L1094.8 1571.1 L1093.5 1569.2 L1092.2 1569 L1091 1572 L1089.8 1568.7 L1088.5 1571.9 L1087.2 1564.1 L1086 1564.2 L1084.8 1566.4 L1083.5 1563.6 L1082.2 1564.9 L1081 1562.5 L1079.8 1561.5 L1078.5 1564.4 L1077.2 1561.9 L1076 1564.9 L1074.8 1567.3 L1073.5 1561.8 L1072.2 1560.2 L1071 1560.8 L1069.8 1557.8 L1068.5 1558.9 L1067.2 1559.6 L1066 1556.9 L1064.8 1557.7 L1063.5 1557.2 L1062.2 1554.2 L1061 1555 L1059.8 1553 L1058.5 1554.2 L1057.2 1554.3 L1056 1553.7 L1054.8 1554.2 L1053.5 1551.7 L1052.2 1551.3 L1051 1549.7 L1049.8 1546.7 L1048.5 1546.6 L1047.2 1552.5 L1046 1544.8 L1044.8 1544 L1043.5 1544.6 L1042.2 1543.3 L1041 1538.6 L1039.8 1538.6 L1038.5 1536.8 L1037.2 1536.9 L1036 1537.7 L1034.8 1534.7 L1033.5 1532.3 L1032.2 1531.5 L1031 1531.2 L1029.8 1527.6 L1028.5 1523.2 L1027.2 1520.9 L1026 1521.5 L1024.8 1518.8 L1023.5 1519.3 L1022.2 1518.4 L1021 1516 L1019.8 1516 L1018.5 1516.4 L1017.2 1516.4 L1016 1517.5 L1014.8 1513 L1013.5 1509.8 L1012.2 1513.8 L1011 1510.9 L1009.8 1507.2 L1008.5 1511.4 L1007.2 1511.2 L1006 1507.8 L1004.8 1509.4 L1003.5 1510.2 L1002.2 1510.1 L1001 1512.4 L999.8 1513.4 L998.5 1512.2 L997.2 1512 L996 1512.4 L994.8 1514.9 L993.5 1517 L992.2 1516.3 L991 1517.1 L989.8 1516.4 L988.5 1519 L987.2 1516.6 L986 1522.4 L984.8 1524.5 L983.5 1519.8 L982.2 1522.5 L981 1522.4 L979.8 1523.3 L978.5 1527 L977.2 1529.4 L976 1531 L974.8 1530.8 L973.5 1533.8 L972.2 1537.2 L971 1535.7 L969.8 1539 L968.5 1537.9 L967.2 1541.4 L966 1540.7 L964.8 1543.4 L963.5 1545.5 L962.2 1546.9 L961 1552 L959.8 1550.4 L958.5 1551.9 L957.2 1556.4 L956 1555.1 L954.8 1558.9 L953.5 1558.5 L952.2 1561.3 L951 1563.1 L949.8 1560.7 L948.5 1561.4 L947.2 1562.1 L946 1563.8 L944.8 1564.1 L943.5 1563.3 L942.2 1569.3 L941 1562.1 L939.8 1568.5 L938.5 1564.2 L937.2 1565.4 L936 1565.8 L934.8 1566.5 L933.5 1569.5 L932.2 1564.4 L931 1566 L929.8 1568.4 L928.5 1569 L927.2 1571.6 L926 1567.8 L924.8 1566.4 L923.5 1566.7 L922.2 1568.7 L921 1566.6 L919.8 1567.2 L918.5 1568.9 L917.2 1571.9 L916 1563.9 L914.8 1570.7 L913.5 1565.2 L912.2 1568.5 L911 1565.7 L909.8 1561.3 L908.5 1563.8 L907.2 1567.1 L906 1564.1 L904.8 1563.7 L903.5 1561.7 L902.2 1567 L901 1562.5 L899.8 1563.4 L898.5 1563.3 L897.2 1565.5 L896 1561.5 L894.8 1561 L893.5 1564.3 L892.2 1563.8 L891 1563.1 L889.8 1565.3 L888.5 1562.9 L887.2 1562.2 L886 1559.6 L884.8 1563.5 L883.5 1564.4 L882.2 1564.8 L881 1565 L879.8 1563.9 L878.5 1563.1 L877.2 1563.3 L876 1564.4 L874.8 1565.4 L873.5 1562.6 L872.2 1561.2 L871 1566.8 L869.8 1563.5 L868.5 1563.6 L867.2 1561.8 L866 1562.8 L864.8 1564.1 L863.5 1560.2 L862.2 1565.2 L861 1565.2 L859.8 1561.1 L858.5 1562.9 L857.2 1564.1 L856 1564.3 L854.8 1565.7 L853.5 1562.3 L852.2 1563.1 L851 1569 L849.8 1565.2 L848.5 1563.1 L847.2 1561.2 L846 1563.7 L844.8 1566.1 L843.5 1564 L842.2 1563.1 L841 1562.5Z" fill="#c8199b" fill-opacity="0.2"/>
<path d="M833 1557H1263" stroke="#1a1a1a" stroke-width="2.2" stroke-dasharray="5.4 6.2" fill="none"/>
<path d="M841 1559.3 L842.2 1558.8 L843.5 1558.1 L844.8 1559 L846 1560.5 L847.2 1561.7 L848.5 1560.4 L849.8 1559 L851 1557.7 L852.2 1557.1 L853.5 1557.5 L854.8 1557.8 L856 1559 L857.2 1558.7 L858.5 1559.7 L859.8 1559.6 L861 1558.8 L862.2 1557.8 L863.5 1557.2 L864.8 1557.7 L866 1557.3 L867.2 1558.6 L868.5 1559.3 L869.8 1559.6 L871 1558.3 L872.2 1556.8 L873.5 1556.2 L874.8 1556.3 L876 1557.3 L877.2 1557.3 L878.5 1557.1 L879.8 1556.3 L881 1556 L882.2 1556.6 L883.5 1557.9 L884.8 1559.2 L886 1558.2 L887.2 1556.6 L888.5 1555.3 L889.8 1554.1 L891 1553 L892.2 1553 L893.5 1553.2 L894.8 1552.4 L896 1552 L897.2 1550.8 L898.5 1549.9 L899.8 1549.9 L901 1550 L902.2 1551.6 L903.5 1551.6 L904.8 1552.4 L906 1553.1 L907.2 1552.2 L908.5 1553.1 L909.8 1553.4 L911 1553.9 L912.2 1553.5 L913.5 1552.8 L914.8 1552.1 L916 1551.6 L917.2 1551.8 L918.5 1552.9 L919.8 1553.6 L921 1553.9 L922.2 1554.8 L923.5 1554.7 L924.8 1554.9 L926 1555 L927.2 1554.9 L928.5 1554.3 L929.8 1553.6 L931 1553.9 L932.2 1553.6 L933.5 1553.9 L934.8 1553.9 L936 1553.3 L937.2 1552.3 L938.5 1550.4 L939.8 1549.2 L941 1547.1 L942.2 1545.7 L943.5 1545.5 L944.8 1546.4 L946 1545 L947.2 1544.9 L948.5 1542.9 L949.8 1542 L951 1538.3 L952.2 1536.5 L953.5 1535.2 L954.8 1534.5 L956 1532.6 L957.2 1530.5 L958.5 1529.7 L959.8 1528.7 L961 1527 L962.2 1525.3 L963.5 1524.2 L964.8 1522.5 L966 1519.8 L967.2 1516.6 L968.5 1516.2 L969.8 1515.1 L971 1514.7 L972.2 1511.6 L973.5 1509.1 L974.8 1505.5 L976 1505.1 L977.2 1504 L978.5 1504.1 L979.8 1503.2 L981 1502.9 L982.2 1502.9 L983.5 1501.8 L984.8 1501.9 L986 1501 L987.2 1500.4 L988.5 1499.5 L989.8 1499.8 L991 1500.9 L992.2 1500.3 L993.5 1499.7 L994.8 1498.3 L996 1499.1 L997.2 1498 L998.5 1496.6 L999.8 1494.5 L1001 1493.1 L1002.2 1493.8 L1003.5 1493.2 L1004.8 1492.3 L1006 1491.2 L1007.2 1491.9 L1008.5 1492.5 L1009.8 1493.1 L1011 1494 L1012.2 1495.7 L1013.5 1496.1 L1014.8 1496.5 L1016 1496.4 L1017.2 1498 L1018.5 1498.8 L1019.8 1500.2 L1021 1500.5 L1022.2 1500.7 L1023.5 1501.2 L1024.8 1502.8 L1026 1504.4 L1027.2 1506.4 L1028.5 1507.4 L1029.8 1509 L1031 1511.9 L1032.2 1513.4 L1033.5 1513.9 L1034.8 1514.3 L1036 1516.3 L1037.2 1517.9 L1038.5 1519.9 L1039.8 1520.2 L1041 1521.7 L1042.2 1522.2 L1043.5 1523.1 L1044.8 1525.6 L1046 1525.5 L1047.2 1526.4 L1048.5 1525.9 L1049.8 1527 L1051 1529.1 L1052.2 1530.6 L1053.5 1532.6 L1054.8 1532.7 L1056 1534 L1057.2 1534.2 L1058.5 1537.2 L1059.8 1538.3 L1061 1539.3 L1062.2 1538.7 L1063.5 1539.1 L1064.8 1539 L1066 1539.5 L1067.2 1540.1 L1068.5 1542.1 L1069.8 1543.1 L1071 1544 L1072.2 1544.6 L1073.5 1546 L1074.8 1546.3 L1076 1547 L1077.2 1546.9 L1078.5 1547.5 L1079.8 1547.4 L1081 1546.2 L1082.2 1545.8 L1083.5 1545.9 L1084.8 1546.9 L1086 1547 L1087.2 1547 L1088.5 1547.1 L1089.8 1546.9 L1091 1548.1 L1092.2 1548.5 L1093.5 1549.8 L1094.8 1550.7 L1096 1550.6 L1097.2 1551.2 L1098.5 1550.6 L1099.8 1550.7 L1101 1552 L1102.2 1551.7 L1103.5 1551.8 L1104.8 1549.6 L1106 1549.7 L1107.2 1549.8 L1108.5 1549.5 L1109.8 1550.1 L1111 1551 L1112.2 1552.1 L1113.5 1552.1 L1114.8 1551.3 L1116 1553.2 L1117.2 1552.2 L1118.5 1552.2 L1119.8 1549.3 L1121 1550 L1122.2 1550.1 L1123.5 1551.1 L1124.8 1551.2 L1126 1551.8 L1127.2 1551.9 L1128.5 1551.7 L1129.8 1552 L1131 1553.4 L1132.2 1554.8 L1133.5 1554.4 L1134.8 1554.2 L1136 1554.1 L1137.2 1555.5 L1138.5 1554.6 L1139.8 1554 L1141 1552.8 L1142.2 1553 L1143.5 1552.2 L1144.8 1551.6 L1146 1551.3 L1147.2 1551.1 L1148.5 1550.8 L1149.8 1551 L1151 1551.5 L1152.2 1552 L1153.5 1550.2 L1154.8 1548.7 L1156 1548.7 L1157.2 1549.6 L1158.5 1551 L1159.8 1551.9 L1161 1552.5 L1162.2 1553.6 L1163.5 1554.5 L1164.8 1555 L1166 1554.6 L1167.2 1552.9 L1168.5 1552.7 L1169.8 1552.1 L1171 1552 L1172.2 1549.9 L1173.5 1549.7 L1174.8 1548.7 L1176 1548.3 L1177.2 1547.5 L1178.5 1547.6 L1179.8 1548.3 L1181 1547.1 L1182.2 1546.4 L1183.5 1546.7 L1184.8 1547.8 L1186 1548 L1187.2 1546.7 L1188.5 1546.3 L1189.8 1545.9 L1191 1548.1 L1192.2 1547.7 L1193.5 1548.3 L1194.8 1547.5 L1196 1547.2 L1197.2 1547.7 L1198.5 1548.2 L1199.8 1549.6 L1201 1550.3 L1202.2 1551.1 L1203.5 1552.5 L1204.8 1552.9 L1206 1551.4 L1207.2 1549.5 L1208.5 1550.3 L1209.8 1551.7 L1211 1553.2 L1212.2 1552.2 L1213.5 1553 L1214.8 1551.8 L1216 1552.6 L1217.2 1551.3 L1218.5 1550.1 L1219.8 1549.2 L1221 1549.2 L1222.2 1551.7 L1223.5 1551.8 L1224.8 1552 L1226 1551.9 L1227.2 1551.6 L1228.5 1552.9 L1229.8 1553.6 L1231 1554.8 L1232.2 1554.3 L1233.5 1552.1 L1234.8 1551.9 L1236 1550.8 L1237.2 1551.6 L1238.5 1551.1 L1239.8 1552.3 L1241 1552.4 L1242.2 1552.8 L1243.5 1552.7 L1244.8 1552.8 L1246 1552.5 L1247.2 1552 L1248.5 1553.3 L1249.8 1553.5 L1251 1554 L1252.2 1553.7 L1253.5 1554.6 L1254.8 1555.3 L1256 1554.5 L1257.2 1552.1 L1258.5 1551.5 L1259.8 1552.8 L1261 1554.6 L1262.2 1555.2 L1263.5 1555.2" fill="none" stroke="#c81e9b" stroke-width="5.2" stroke-linejoin="round" stroke-linecap="round"/>
<path d="M934.4 1185.5V1426" stroke="#1a1a1a" stroke-width="2.3" stroke-dasharray="2.3 7.2" fill="none"/>
<path d="M916.4 1185V1247.5" stroke="#2b2a29" stroke-width="2.3" fill="none"/>
<path d="M905.4 1246L927.4 1246L916.4 1265.5Z" fill="#2b2a29"/>
<path d="M934.4 1433V1497.5" stroke="#2b2a29" stroke-width="2.3" fill="none"/>
<path d="M923.4 1496L945.4 1496L934.4 1515.5Z" fill="#2b2a29"/>
<g stroke="#262626" stroke-width="2.2" fill="none">
<path d="M833.5 1131.1V1336.7M833.5 1132.2h7.8M833.5 1200.4h7.8M833.5 1268.5h7.8M833.5 1336.7h7.8M832.6 1361.3V1621.9H1268.4M832.6 1362.4h7.8M832.6 1427.2h7.8M832.6 1492h7.8M832.6 1556.9h7.8M905.6 1621.9v-8.5M978.6 1621.9v-8.5M1051.6 1621.9v-8.5M1124.6 1621.9v-8.5M1197.6 1621.9v-8.5M1267.3 1621.9v-8.5"/>
</g>
<text font-size="25" text-anchor="end" transform="translate(826.2 1141.2) scale(1 1.04)">3.5</text>
<text font-size="25" text-anchor="end" transform="translate(827.5 1209.4) scale(1 1.04)">3</text>
<text font-size="25" text-anchor="end" transform="translate(826.2 1277.5) scale(1 1.04)">2.5</text>
<text font-size="25" text-anchor="end" transform="translate(827.5 1345.7) scale(1 1.04)">2</text>
<text font-size="25" text-anchor="end" transform="translate(822.9 1370.4) scale(1 1.04)">15</text>
<text font-size="25" text-anchor="end" transform="translate(822.9 1439) scale(1 1.04)">10</text>
<text font-size="25" text-anchor="end" transform="translate(822.9 1504.9) scale(1 1.04)">5</text>
<text font-size="25" text-anchor="end" transform="translate(822.9 1567.8) scale(1 1.04)">0</text>
<text font-size="25" text-anchor="end" transform="translate(822.9 1631.4) scale(1 1.04)">-5</text>
<text font-size="25" text-anchor="middle" transform="translate(829.4 1652.8) scale(1 1.04)">0</text>
<text font-size="25" text-anchor="middle" transform="translate(908.4 1652.8) scale(1 1.04)">10</text>
<text font-size="25" text-anchor="middle" transform="translate(977.6 1652.8) scale(1 1.04)">20</text>
<text font-size="25" text-anchor="middle" transform="translate(1053 1652.8) scale(1 1.04)">30</text>
<text font-size="25" text-anchor="middle" transform="translate(1128.6 1652.8) scale(1 1.04)">40</text>
<text font-size="25" text-anchor="middle" transform="translate(1201 1652.8) scale(1 1.04)">50</text>
<text font-size="25" text-anchor="middle" transform="translate(1273 1652.8) scale(1 1.04)">60</text>
<text font-size="25.4" transform="translate(1012.2 1689.3) scale(1 1.04)">Time (s)</text>
<text font-size="25.1" text-anchor="middle" transform="translate(774 1232.5) rotate(-90) scale(1 1.04)">Respiratory rate (Hz)</text>
<text font-size="24.8" text-anchor="middle" transform="translate(775.1 1508) rotate(-90) scale(1 1.04)">Diameter (z score)</text>
<rect x="1347.5" y="1450.9" width="46.3" height="41.4" fill="#fff" stroke="#3a3a3a" stroke-width="1"/>
<rect x="1417.4" y="1345.7" width="46.6" height="146.6" fill="#a0a0a3" stroke="#2a2a2a" stroke-width="1"/>
<path d="M1370.6 1398L1440.4 1361.4M1370.6 1431.9L1440.4 1266.2M1370.6 1436.1L1440.4 1274.9M1370.6 1441.4L1440.4 1313.5M1370.6 1453.7L1440.4 1325M1370.6 1457.6L1440.4 1328.3M1370.6 1464.3L1440.4 1338.4M1370.6 1476.6L1440.4 1352.1M1370.6 1487.5L1440.4 1410.9M1370.6 1464.3L1440.4 1401.4M1370.6 1457.6L1440.4 1381.2M1370.6 1453.7L1440.4 1372.8M1370.6 1441.4L1440.4 1369.7" stroke="#000" stroke-width="1.6" fill="none"/>
<circle cx="1370.6" cy="1398" r="4.8" fill="#000"/>
<circle cx="1370.6" cy="1431.9" r="4.8" fill="#000"/>
<circle cx="1370.6" cy="1436.1" r="4.8" fill="#000"/>
<circle cx="1370.6" cy="1441.4" r="4.8" fill="#000"/>
<circle cx="1370.6" cy="1453.7" r="4.8" fill="#000"/>
<circle cx="1370.6" cy="1457.6" r="4.8" fill="#000"/>
<circle cx="1370.6" cy="1464.3" r="4.8" fill="#000"/>
<circle cx="1370.6" cy="1476.6" r="4.8" fill="#000"/>
<circle cx="1370.6" cy="1487.5" r="4.8" fill="#000"/>
<circle cx="1440.4" cy="1266.2" r="4.8" fill="#000"/>
<circle cx="1440.4" cy="1274.9" r="4.8" fill="#000"/>
<circle cx="1440.4" cy="1313.5" r="4.8" fill="#000"/>
<circle cx="1440.4" cy="1325" r="4.8" fill="#000"/>
<circle cx="1440.4" cy="1328.3" r="4.8" fill="#000"/>
<circle cx="1440.4" cy="1338.4" r="4.8" fill="#000"/>
<circle cx="1440.4" cy="1352.1" r="4.8" fill="#000"/>
<circle cx="1440.4" cy="1361.4" r="4.8" fill="#000"/>
<circle cx="1440.4" cy="1369.7" r="4.8" fill="#000"/>
<circle cx="1440.4" cy="1372.8" r="4.8" fill="#000"/>
<circle cx="1440.4" cy="1381.2" r="4.8" fill="#000"/>
<circle cx="1440.4" cy="1401.4" r="4.8" fill="#000"/>
<circle cx="1440.4" cy="1410.9" r="4.8" fill="#000"/>
<g stroke="#111" stroke-width="2.7" fill="none">
<path d="M1335.3 1211.3V1493H1477.5M1335.3 1436.3h8M1335.3 1380.4h8M1335.3 1324.4h8M1335.3 1268.5h8M1335.3 1212.5h8"/>
</g>
<text font-size="23.3" text-anchor="end" transform="translate(1329.3 1500.2) scale(1 1.04)" style="fill:#1a1a1a">0</text>
<text font-size="23.3" text-anchor="end" transform="translate(1329.3 1444.2) scale(1 1.04)" style="fill:#1a1a1a">2</text>
<text font-size="23.3" text-anchor="end" transform="translate(1329.3 1388.3) scale(1 1.04)" style="fill:#1a1a1a">4</text>
<text font-size="23.3" text-anchor="end" transform="translate(1329.3 1332.3) scale(1 1.04)" style="fill:#1a1a1a">6</text>
<text font-size="23.3" text-anchor="end" transform="translate(1329.3 1276.4) scale(1 1.04)" style="fill:#1a1a1a">8</text>
<text font-size="23.3" text-anchor="end" transform="translate(1329.3 1220.4) scale(1 1.04)" style="fill:#1a1a1a">10</text>
<text font-size="24.6" text-anchor="middle" transform="translate(1300.3 1353.4) rotate(-90) scale(1 1.04)" style="fill:#1a1a1a">Delay from CO<tspan font-size="14" dy="5">2</tspan><tspan dy="-5"> stim. (s)</tspan></text>
<text font-size="30.5" text-anchor="middle" transform="translate(1403 1240.2) scale(1 1.04)" style="fill:#000">***</text>
<text font-size="25" text-anchor="end" transform="translate(1369.2 1503.3) rotate(-45) scale(1 1.04)"><tspan x="-3" y="0">Hyper-</tspan><tspan x="16.6" y="28.8">ventilation</tspan></text>
<text font-size="25" text-anchor="end" transform="translate(1452.2 1507.8) rotate(-45) scale(1 1.04)"><tspan x="0" y="0">Dilation</tspan></text>
</g>
</svg>
</body>
</html>
